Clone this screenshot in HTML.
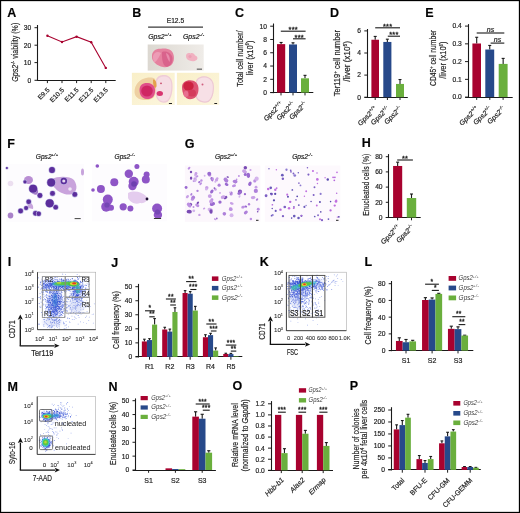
<!DOCTYPE html><html><head><meta charset="utf-8"><style>html,body{margin:0;padding:0;background:#fff;width:520px;height:513px;overflow:hidden}svg{display:block;opacity:0.999}text{font-family:"Liberation Sans",sans-serif;stroke:#2a2a2a;stroke-width:0.2px}</style></head><body><svg width="520" height="513" viewBox="0 0 520 513" font-family="Liberation Sans, sans-serif" fill="#222"><rect x="0.5" y="0.5" width="519" height="512" fill="none" stroke="#000" stroke-width="1.3"/>
<text x="7.3" y="16.8" font-size="12.5" fill="#000" font-weight="bold" >A</text>
<line x1="37.5" y1="25" x2="37.5" y2="80.85" stroke="#1a1a1a" stroke-width="1.1" />
<line x1="34.5" y1="27.7" x2="37.5" y2="27.7" stroke="#1a1a1a" stroke-width="0.99" />
<text x="31.3" y="30.08" font-size="6.7" text-anchor="end" >30</text>
<line x1="34.5" y1="45.2" x2="37.5" y2="45.2" stroke="#1a1a1a" stroke-width="0.99" />
<text x="31.3" y="47.58" font-size="6.7" text-anchor="end" >20</text>
<line x1="34.5" y1="62.6" x2="37.5" y2="62.6" stroke="#1a1a1a" stroke-width="0.99" />
<text x="31.3" y="64.98" font-size="6.7" text-anchor="end" >10</text>
<line x1="34.5" y1="80.3" x2="37.5" y2="80.3" stroke="#1a1a1a" stroke-width="0.99" />
<text x="31.3" y="82.68" font-size="6.7" text-anchor="end" >0</text>
<line x1="37.5" y1="80.5" x2="115.7" y2="80.5" stroke="#1a1a1a" stroke-width="1.1" />
<line x1="47.4" y1="80.3" x2="47.4" y2="83.1" stroke="#1a1a1a" stroke-width="0.99" />
<line x1="62" y1="80.3" x2="62" y2="83.1" stroke="#1a1a1a" stroke-width="0.99" />
<line x1="76.6" y1="80.3" x2="76.6" y2="83.1" stroke="#1a1a1a" stroke-width="0.99" />
<line x1="91.2" y1="80.3" x2="91.2" y2="83.1" stroke="#1a1a1a" stroke-width="0.99" />
<line x1="105.8" y1="80.3" x2="105.8" y2="83.1" stroke="#1a1a1a" stroke-width="0.99" />
<polyline points="47.4,35.7 62,42 76.6,36.7 91.2,42.3 105.8,67.9" fill="none" stroke="#a8022f" stroke-width="1.1"/>
<circle cx="47.4" cy="35.7" r="1.2" fill="#a8022f"/>
<circle cx="62" cy="42" r="1.2" fill="#a8022f"/>
<circle cx="76.6" cy="36.7" r="1.2" fill="#a8022f"/>
<circle cx="91.2" cy="42.3" r="1.2" fill="#a8022f"/>
<circle cx="105.8" cy="67.9" r="1.2" fill="#a8022f"/>
<text x="50" y="90.5" font-size="6.6" text-anchor="end" transform="rotate(-45 50 90.5)" >E9.5</text>
<text x="64.6" y="90.5" font-size="6.6" text-anchor="end" transform="rotate(-45 64.6 90.5)" >E10.5</text>
<text x="79.2" y="90.5" font-size="6.6" text-anchor="end" transform="rotate(-45 79.2 90.5)" >E11.5</text>
<text x="93.8" y="90.5" font-size="6.6" text-anchor="end" transform="rotate(-45 93.8 90.5)" >E12.5</text>
<text x="108.4" y="90.5" font-size="6.6" text-anchor="end" transform="rotate(-45 108.4 90.5)" >E13.5</text>
<text x="18" y="52.2" font-size="9.3" text-anchor="middle" textLength="58.9" lengthAdjust="spacingAndGlyphs" transform="rotate(-90 18 52.2)" ><tspan font-style="italic">Gps2</tspan><tspan dy="-3.3" font-size="5.6">-/-</tspan><tspan dy="3.3"> viability (%)</tspan></text>
<text x="235.1" y="16.8" font-size="12.5" fill="#000" font-weight="bold" >C</text>
<line x1="273.5" y1="23.5" x2="273.5" y2="93.15" stroke="#1a1a1a" stroke-width="1.1" />
<line x1="270.2" y1="26.2" x2="273.2" y2="26.2" stroke="#1a1a1a" stroke-width="0.99" />
<text x="267" y="28.58" font-size="6.7" text-anchor="end" >10</text>
<line x1="270.2" y1="39.48" x2="273.2" y2="39.48" stroke="#1a1a1a" stroke-width="0.99" />
<text x="267" y="41.86" font-size="6.7" text-anchor="end" >8</text>
<line x1="270.2" y1="52.76" x2="273.2" y2="52.76" stroke="#1a1a1a" stroke-width="0.99" />
<text x="267" y="55.14" font-size="6.7" text-anchor="end" >6</text>
<line x1="270.2" y1="66.04" x2="273.2" y2="66.04" stroke="#1a1a1a" stroke-width="0.99" />
<text x="267" y="68.42" font-size="6.7" text-anchor="end" >4</text>
<line x1="270.2" y1="79.32" x2="273.2" y2="79.32" stroke="#1a1a1a" stroke-width="0.99" />
<text x="267" y="81.7" font-size="6.7" text-anchor="end" >2</text>
<line x1="270.2" y1="92.6" x2="273.2" y2="92.6" stroke="#1a1a1a" stroke-width="0.99" />
<text x="267" y="94.98" font-size="6.7" text-anchor="end" >0</text>
<line x1="270.4" y1="92.5" x2="313.3" y2="92.5" stroke="#1a1a1a" stroke-width="1.1" />
<line x1="281" y1="92.6" x2="281" y2="95.4" stroke="#1a1a1a" stroke-width="0.99" />
<line x1="293" y1="92.6" x2="293" y2="95.4" stroke="#1a1a1a" stroke-width="0.99" />
<line x1="305" y1="92.6" x2="305" y2="95.4" stroke="#1a1a1a" stroke-width="0.99" />
<line x1="281.1" y1="42.47" x2="281.1" y2="44.13" stroke="#1a1a1a" stroke-width="1.1" />
<line x1="279.6" y1="42.47" x2="282.6" y2="42.47" stroke="#1a1a1a" stroke-width="1.1" />
<rect x="277" y="44.13" width="8.2" height="48.47" fill="#a8022f" />
<line x1="293" y1="42.8" x2="293" y2="44.46" stroke="#1a1a1a" stroke-width="1.1" />
<line x1="291.5" y1="42.8" x2="294.5" y2="42.8" stroke="#1a1a1a" stroke-width="1.1" />
<rect x="289" y="44.46" width="8" height="48.14" fill="#27498a" />
<line x1="305" y1="75.34" x2="305" y2="78.32" stroke="#1a1a1a" stroke-width="1.1" />
<line x1="303.5" y1="75.34" x2="306.5" y2="75.34" stroke="#1a1a1a" stroke-width="1.1" />
<rect x="301" y="78.32" width="8" height="14.28" fill="#6aaf3d" />
<line x1="280.8" y1="31.2" x2="305.6" y2="31.2" stroke="#1a1a1a" stroke-width="1.1" />
<text x="293.2" y="32.1" font-size="7.4" text-anchor="middle" letter-spacing="0.25" style="stroke-width:0.35px">***</text>
<line x1="293" y1="38.8" x2="305.6" y2="38.8" stroke="#1a1a1a" stroke-width="1.1" />
<text x="299.3" y="39.7" font-size="7.4" text-anchor="middle" letter-spacing="0.25" style="stroke-width:0.35px">***</text>
<text x="243" y="58.6" font-size="9.3" text-anchor="middle" textLength="56.2" lengthAdjust="spacingAndGlyphs" transform="rotate(-90 243 58.6)" >Total cell number/</text>
<text x="252.6" y="58" font-size="9.3" text-anchor="middle" textLength="35" lengthAdjust="spacingAndGlyphs" transform="rotate(-90 252.6 58)" >liver (x10<tspan dy="-3.3" font-size="5.6">6</tspan><tspan dy="3.3">)</tspan></text>
<text x="283.5" y="104.5" font-size="7.1" text-anchor="end" transform="rotate(-45 283.5 104.5)" ><tspan font-style="italic">Gps2</tspan><tspan dy="-2.98" font-size="4.26" font-style="italic" letter-spacing="0.35">+/+</tspan></text>
<text x="295.5" y="104.5" font-size="7.1" text-anchor="end" transform="rotate(-45 295.5 104.5)" ><tspan font-style="italic">Gps2</tspan><tspan dy="-2.98" font-size="4.26" font-style="italic" letter-spacing="0.35">+/-</tspan></text>
<text x="307.5" y="104.5" font-size="7.1" text-anchor="end" transform="rotate(-45 307.5 104.5)" ><tspan font-style="italic">Gps2</tspan><tspan dy="-2.98" font-size="4.26" font-style="italic" letter-spacing="0.35">-/-</tspan></text>
<text x="330.1" y="16.8" font-size="12.5" fill="#000" font-weight="bold" >D</text>
<line x1="367.5" y1="29" x2="367.5" y2="97.75" stroke="#1a1a1a" stroke-width="1.1" />
<line x1="364.3" y1="30.9" x2="367.3" y2="30.9" stroke="#1a1a1a" stroke-width="0.99" />
<text x="361.1" y="33.28" font-size="6.7" text-anchor="end" >6</text>
<line x1="364.3" y1="53" x2="367.3" y2="53" stroke="#1a1a1a" stroke-width="0.99" />
<text x="361.1" y="55.38" font-size="6.7" text-anchor="end" >4</text>
<line x1="364.3" y1="75.1" x2="367.3" y2="75.1" stroke="#1a1a1a" stroke-width="0.99" />
<text x="361.1" y="77.48" font-size="6.7" text-anchor="end" >2</text>
<line x1="364.3" y1="97.2" x2="367.3" y2="97.2" stroke="#1a1a1a" stroke-width="0.99" />
<text x="361.1" y="99.58" font-size="6.7" text-anchor="end" >0</text>
<line x1="364.5" y1="97.5" x2="407.8" y2="97.5" stroke="#1a1a1a" stroke-width="1.1" />
<line x1="375.2" y1="97.2" x2="375.2" y2="100" stroke="#1a1a1a" stroke-width="0.99" />
<line x1="387.4" y1="97.2" x2="387.4" y2="100" stroke="#1a1a1a" stroke-width="0.99" />
<line x1="400" y1="97.2" x2="400" y2="100" stroke="#1a1a1a" stroke-width="0.99" />
<line x1="375.2" y1="36.42" x2="375.2" y2="39.74" stroke="#1a1a1a" stroke-width="1.1" />
<line x1="373.7" y1="36.42" x2="376.7" y2="36.42" stroke="#1a1a1a" stroke-width="1.1" />
<rect x="371.4" y="39.74" width="7.6" height="57.46" fill="#a8022f" />
<line x1="387.35" y1="39.19" x2="387.35" y2="41.95" stroke="#1a1a1a" stroke-width="1.1" />
<line x1="385.85" y1="39.19" x2="388.85" y2="39.19" stroke="#1a1a1a" stroke-width="1.1" />
<rect x="383.3" y="41.95" width="8.1" height="55.25" fill="#27498a" />
<line x1="400" y1="79.52" x2="400" y2="83.94" stroke="#1a1a1a" stroke-width="1.1" />
<line x1="398.5" y1="79.52" x2="401.5" y2="79.52" stroke="#1a1a1a" stroke-width="1.1" />
<rect x="396" y="83.94" width="8" height="13.26" fill="#6aaf3d" />
<line x1="375.2" y1="27.8" x2="400" y2="27.8" stroke="#1a1a1a" stroke-width="1.1" />
<text x="387.6" y="28.7" font-size="7.4" text-anchor="middle" letter-spacing="0.25" style="stroke-width:0.35px">***</text>
<line x1="387.8" y1="36.2" x2="400" y2="36.2" stroke="#1a1a1a" stroke-width="1.1" />
<text x="393.9" y="37.1" font-size="7.4" text-anchor="middle" letter-spacing="0.25" style="stroke-width:0.35px">***</text>
<text x="340.4" y="63.1" font-size="9.3" text-anchor="middle" textLength="66.4" lengthAdjust="spacingAndGlyphs" transform="rotate(-90 340.4 63.1)" >Ter119<tspan dy="-3.3" font-size="5.6">+</tspan><tspan dy="3.3"> cell number</tspan></text>
<text x="350.3" y="61.4" font-size="9.3" text-anchor="middle" textLength="40.8" lengthAdjust="spacingAndGlyphs" transform="rotate(-90 350.3 61.4)" >/liver (x10<tspan dy="-3.3" font-size="5.6">6</tspan><tspan dy="3.3">)</tspan></text>
<text x="377.7" y="109.1" font-size="7.1" text-anchor="end" transform="rotate(-45 377.7 109.1)" ><tspan font-style="italic">Gps2</tspan><tspan dy="-2.98" font-size="4.26" font-style="italic" letter-spacing="0.35">+/+</tspan></text>
<text x="389.9" y="109.1" font-size="7.1" text-anchor="end" transform="rotate(-45 389.9 109.1)" ><tspan font-style="italic">Gps2</tspan><tspan dy="-2.98" font-size="4.26" font-style="italic" letter-spacing="0.35">+/-</tspan></text>
<text x="402.5" y="109.1" font-size="7.1" text-anchor="end" transform="rotate(-45 402.5 109.1)" ><tspan font-style="italic">Gps2</tspan><tspan dy="-2.98" font-size="4.26" font-style="italic" letter-spacing="0.35">-/-</tspan></text>
<text x="425.2" y="16.8" font-size="12.5" fill="#000" font-weight="bold" >E</text>
<line x1="468.5" y1="24.1" x2="468.5" y2="97.65" stroke="#1a1a1a" stroke-width="1.1" />
<line x1="465" y1="26.1" x2="468" y2="26.1" stroke="#1a1a1a" stroke-width="0.99" />
<text x="461.8" y="28.48" font-size="6.7" text-anchor="end" >0.4</text>
<line x1="465" y1="43.85" x2="468" y2="43.85" stroke="#1a1a1a" stroke-width="0.99" />
<text x="461.8" y="46.23" font-size="6.7" text-anchor="end" >0.3</text>
<line x1="465" y1="61.6" x2="468" y2="61.6" stroke="#1a1a1a" stroke-width="0.99" />
<text x="461.8" y="63.98" font-size="6.7" text-anchor="end" >0.2</text>
<line x1="465" y1="79.35" x2="468" y2="79.35" stroke="#1a1a1a" stroke-width="0.99" />
<text x="461.8" y="81.73" font-size="6.7" text-anchor="end" >0.1</text>
<line x1="465" y1="97.1" x2="468" y2="97.1" stroke="#1a1a1a" stroke-width="0.99" />
<text x="461.8" y="99.48" font-size="6.7" text-anchor="end" >0.0</text>
<line x1="465.2" y1="97.5" x2="512.7" y2="97.5" stroke="#1a1a1a" stroke-width="1.1" />
<line x1="476.7" y1="97.1" x2="476.7" y2="99.9" stroke="#1a1a1a" stroke-width="0.99" />
<line x1="489.8" y1="97.1" x2="489.8" y2="99.9" stroke="#1a1a1a" stroke-width="0.99" />
<line x1="503.1" y1="97.1" x2="503.1" y2="99.9" stroke="#1a1a1a" stroke-width="0.99" />
<line x1="476.7" y1="37.28" x2="476.7" y2="43.49" stroke="#1a1a1a" stroke-width="1.1" />
<line x1="475.2" y1="37.28" x2="478.2" y2="37.28" stroke="#1a1a1a" stroke-width="1.1" />
<rect x="472.4" y="43.49" width="8.6" height="53.6" fill="#a8022f" />
<line x1="489.75" y1="45.45" x2="489.75" y2="49.53" stroke="#1a1a1a" stroke-width="1.1" />
<line x1="488.25" y1="45.45" x2="491.25" y2="45.45" stroke="#1a1a1a" stroke-width="1.1" />
<rect x="485.3" y="49.53" width="8.9" height="47.57" fill="#27498a" />
<line x1="503.15" y1="58.4" x2="503.15" y2="63.91" stroke="#1a1a1a" stroke-width="1.1" />
<line x1="501.65" y1="58.4" x2="504.65" y2="58.4" stroke="#1a1a1a" stroke-width="1.1" />
<rect x="498.7" y="63.91" width="8.9" height="33.19" fill="#6aaf3d" />
<line x1="476.7" y1="33" x2="504.3" y2="33" stroke="#1a1a1a" stroke-width="1.1" />
<text x="490.5" y="31.8" font-size="7" text-anchor="middle" fill="#1a1a1a" font-style="italic" >ns</text>
<line x1="490.6" y1="43.1" x2="504.3" y2="43.1" stroke="#1a1a1a" stroke-width="1.1" />
<text x="497.45" y="41.9" font-size="7" text-anchor="middle" fill="#1a1a1a" font-style="italic" >ns</text>
<text x="436.1" y="57.9" font-size="9.3" text-anchor="middle" textLength="56" lengthAdjust="spacingAndGlyphs" transform="rotate(-90 436.1 57.9)" >CD45<tspan dy="-3.3" font-size="5.6">+</tspan><tspan dy="3.3"> cell number</tspan></text>
<text x="445.9" y="60.1" font-size="9.3" text-anchor="middle" textLength="37.3" lengthAdjust="spacingAndGlyphs" transform="rotate(-90 445.9 60.1)" >/liver (x10<tspan dy="-3.3" font-size="5.6">6</tspan><tspan dy="3.3">)</tspan></text>
<text x="479.2" y="109" font-size="7.1" text-anchor="end" transform="rotate(-45 479.2 109)" ><tspan font-style="italic">Gps2</tspan><tspan dy="-2.98" font-size="4.26" font-style="italic" letter-spacing="0.35">+/+</tspan></text>
<text x="492.3" y="109" font-size="7.1" text-anchor="end" transform="rotate(-45 492.3 109)" ><tspan font-style="italic">Gps2</tspan><tspan dy="-2.98" font-size="4.26" font-style="italic" letter-spacing="0.35">+/-</tspan></text>
<text x="505.6" y="109" font-size="7.1" text-anchor="end" transform="rotate(-45 505.6 109)" ><tspan font-style="italic">Gps2</tspan><tspan dy="-2.98" font-size="4.26" font-style="italic" letter-spacing="0.35">-/-</tspan></text>
<defs><filter id="b1" x="-20%" y="-20%" width="140%" height="140%"><feGaussianBlur stdDeviation="0.8"/></filter><filter id="b2" x="-20%" y="-20%" width="140%" height="140%"><feGaussianBlur stdDeviation="0.45"/></filter><filter id="b4" x="-20%" y="-20%" width="140%" height="140%"><feGaussianBlur stdDeviation="0.6"/></filter><filter id="b3" x="-30%" y="-30%" width="160%" height="160%"><feGaussianBlur stdDeviation="1.5"/></filter><linearGradient id="gtop" x1="0" x2="1" y1="0" y2="0"><stop offset="0" stop-color="#dcd8d1"/><stop offset="1" stop-color="#efece8"/></linearGradient><linearGradient id="gcream" x1="0" x2="1" y1="0" y2="1"><stop offset="0" stop-color="#f9efc8"/><stop offset="1" stop-color="#fcf6de"/></linearGradient></defs>
<text x="132.2" y="16.8" font-size="12.5" fill="#000" font-weight="bold" >B</text>
<text x="175.4" y="22.8" font-size="6.6" text-anchor="middle" textLength="17.4" lengthAdjust="spacingAndGlyphs" >E12.5</text>
<line x1="148.1" y1="27.1" x2="203" y2="27.1" stroke="#3a3a3a" stroke-width="1.2" />
<text x="148.2" y="39.2" font-size="6.9" ><tspan font-style="italic">Gps2</tspan><tspan dy="-2.9" font-size="4.14" font-style="italic" letter-spacing="0.35">+/+</tspan></text>
<text x="183" y="39.2" font-size="6.9" ><tspan font-style="italic">Gps2</tspan><tspan dy="-2.9" font-size="4.14" font-style="italic" letter-spacing="0.35">-/-</tspan></text>
<rect x="147.7" y="44.5" width="56" height="26.1" fill="url(#gtop)" />
<g filter="url(#b2)">
<path d="M152,57 C151.5,51 156,48.5 161,48.8 C164,48.2 168,48.4 171,50.5 C174.5,53.5 174.8,60 172.5,63.5 C170.5,66.8 166,67.8 163,67 C160,66.5 157,65 155,63 C153,61 152,59.5 152,57 Z" fill="#e5819f"/>
<path d="M162,52 C166.5,50.5 171.5,53 172.5,58 C173,63 170,66.5 166.5,66.8 C163.5,66 161.5,61 162,52 Z" fill="#d9648c"/>
<path d="M153,56 C154,52 158,51 161,53 C159,57 157,61 154.5,62.5 C153,60.5 152.8,58 153,56 Z" fill="#ed9cb6"/>
<path d="M166,53 C169,54 170.5,58 169.5,62 C168,59.5 166.5,57 166,53 Z" fill="#e88cac"/>
<path d="M186,56 C186,53.5 188.5,52.3 190.5,53.5 C192,52.5 194.5,53.5 195,55.5 C197.5,56 198.3,58.5 196.5,60 C194.5,61.8 191.5,61.5 189.5,60.5 C187.5,60 186,58.5 186,56 Z" fill="#f1b1c1"/>
<circle cx="190" cy="56.5" r="1.6" fill="#eb9fb4"/>
</g>
<rect x="196.8" y="68.6" width="5.2" height="1.1" fill="#555" />
<rect x="131.9" y="72.8" width="42.8" height="32.2" fill="url(#gcream)" />
<g filter="url(#b4)">
<path d="M156,80 C157,76 161,74.8 165,75 C169.5,75.5 172.5,79 172.5,85 C172.8,92 171.5,98 168,101.5 C165,103.5 160.5,103 158,100 C155,96 154.5,90 155,86 C155.3,83.5 155.5,82 156,80 Z" fill="#efccd7"/>
<path d="M157,81 C158,77.5 161.5,76.2 165,76.5 C169,77 171.3,80 171.3,85 C171.5,91.5 170.3,97 167.3,100.3 C164.5,102 161,101.8 159,99.3 C156.5,96 156,90 156.3,86 Z" fill="#f6dde4"/>
<path d="M134.5,92 C134.5,85 139,79.5 146,78 C150,77.2 153,77.5 155,79 C156.5,83 156.5,92 154,97 C151.5,100 146,100.8 141,99.5 C137,98.5 134.6,95.5 134.5,92 Z" fill="#eed0a2"/>
<path d="M153,79.5 C155.3,79 156.8,82 156.5,86.5 C155.8,88 154.5,88 153.8,87 C153.2,84.5 152.8,82 153,79.5 Z" fill="#e4a04c"/>
<path d="M139.5,90 C139.5,85 143,82.5 148,83 C153,83.5 155.5,87 155,92 C154.5,97 151,99.5 146.5,99 C142,98.5 139.5,95 139.5,90 Z" fill="#e0508a"/>
<ellipse cx="147" cy="91" rx="5.8" ry="5.6" fill="#cf2864"/>
<ellipse cx="159.8" cy="93.5" rx="3.2" ry="2.5" fill="#d8356f"/>
<circle cx="161" cy="83.3" r="0.9" fill="#c84a6a"/>
</g>
<rect x="168.9" y="103" width="3.1" height="1" fill="#222" />
<rect x="176.9" y="72.8" width="42.3" height="32.2" fill="url(#gcream)" />
<g filter="url(#b4)">
<path d="M196,81 C197,77.5 201,76 205,76.3 C210,76.8 213.5,80 213.9,86 C214.2,93 212.5,99 208.5,102 C205,103.3 200.5,102.6 197.5,100 C194.8,97 194.5,91 195,86 Z" fill="#edc8d4"/>
<path d="M197,81.5 C198,78.5 201.5,77.2 205,77.5 C209.5,78 212.5,81 212.8,86.5 C213,92.5 211.5,98 208,100.8 C205,102 201,101.3 198.5,99 C196,96.5 195.7,91 196,86 Z" fill="#f7e0e6"/>
<path d="M182,87 C182,82.5 185.5,80.2 190,80.2 C195,80.2 198.5,83.5 198.5,89 C198.5,95.5 195,99.2 190,99.2 C185,99 182,94 182,87 Z" fill="#dd5272"/>
<ellipse cx="188.5" cy="86" rx="5.2" ry="4.6" fill="#cc2040"/>
<ellipse cx="192" cy="93" rx="4" ry="3.5" fill="#d43a5c"/>
<ellipse cx="186" cy="94" rx="2.5" ry="3" fill="#e87090"/>
<circle cx="202.5" cy="84.5" r="1" fill="#d06080"/>
</g>
<rect x="214.3" y="103" width="2.8" height="1" fill="#222" />
<text x="7.2" y="147.9" font-size="12.5" fill="#000" font-weight="bold" >F</text>
<text x="35.8" y="158.8" font-size="6.6" ><tspan font-style="italic">Gps2</tspan><tspan dy="-2.77" font-size="3.96" font-style="italic" letter-spacing="0.35">+/+</tspan></text>
<text x="114.5" y="158.8" font-size="6.6" ><tspan font-style="italic">Gps2</tspan><tspan dy="-2.77" font-size="3.96" font-style="italic" letter-spacing="0.35">-/-</tspan></text>
<rect x="6.4" y="164" width="77.6" height="58.2" fill="#fdfcfe" />
<rect x="92.1" y="164" width="74.7" height="57.4" fill="#fdfcfe" />
<g filter="url(#b2)">
<path d="M52,179 C58,176 70,176 74,180 C78,186 77,192 72,194 C66,196 58,192 55,188 C52,185 50,182 52,179 Z" fill="#c9a3dc"/>
<ellipse cx="28.5" cy="180" rx="4.5" ry="4" fill="#b98ed3"/>
<path d="M30,185 C35,184 39,188 38,193 C37,196 33,195 31,192 Z" fill="#a47ac8"/>
<path d="M27,201 C31,202 34,205 33,209 L28,208 Z" fill="#c7a4dc"/>
<ellipse cx="10.5" cy="215.5" rx="2.8" ry="3" fill="#a982c9"/>
<ellipse cx="10.5" cy="183.5" rx="2.8" ry="2.8" fill="#ecdff0"/>
<ellipse cx="82.5" cy="172" rx="1.5" ry="3.5" fill="#c7a4dc"/>
<circle cx="52" cy="170" r="3.5" fill="#b7b2e0"/>
<circle cx="52" cy="170" r="2.9" fill="#5b2d9c"/>
<circle cx="51.2" cy="182.6" r="4.6" fill="#b7b2e0"/>
<circle cx="51.2" cy="182.6" r="4" fill="#5b2d9c"/>
<circle cx="63.8" cy="181" r="3.8" fill="#b7b2e0"/>
<circle cx="63.8" cy="181" r="3.2" fill="#5b2d9c"/>
<circle cx="33.1" cy="188.8" r="4.6" fill="#b7b2e0"/>
<circle cx="33.1" cy="188.8" r="4" fill="#5b2d9c"/>
<circle cx="39.9" cy="195.5" r="3" fill="#b7b2e0"/>
<circle cx="39.9" cy="195.5" r="2.4" fill="#5b2d9c"/>
<circle cx="52.5" cy="193.4" r="3" fill="#b7b2e0"/>
<circle cx="52.5" cy="193.4" r="2.4" fill="#5b2d9c"/>
<circle cx="74.8" cy="194.4" r="3" fill="#b7b2e0"/>
<circle cx="74.8" cy="194.4" r="2.4" fill="#5b2d9c"/>
<circle cx="49.7" cy="203.3" r="4.6" fill="#b7b2e0"/>
<circle cx="49.7" cy="203.3" r="4" fill="#5b2d9c"/>
<circle cx="55.7" cy="207.2" r="2.9" fill="#b7b2e0"/>
<circle cx="55.7" cy="207.2" r="2.3" fill="#5b2d9c"/>
<circle cx="28.7" cy="201.7" r="2.9" fill="#b7b2e0"/>
<circle cx="28.7" cy="201.7" r="2.3" fill="#5b2d9c"/>
<circle cx="20.6" cy="210.9" r="3" fill="#b7b2e0"/>
<circle cx="20.6" cy="210.9" r="2.4" fill="#5b2d9c"/>
<circle cx="26.1" cy="208.1" r="2.6" fill="#b7b2e0"/>
<circle cx="26.1" cy="208.1" r="2" fill="#5b2d9c"/>
<circle cx="35.5" cy="213.3" r="3" fill="#b7b2e0"/>
<circle cx="35.5" cy="213.3" r="2.4" fill="#5b2d9c"/>
<circle cx="38.7" cy="213.8" r="2.8" fill="#b7b2e0"/>
<circle cx="38.7" cy="213.8" r="2.2" fill="#5b2d9c"/>
<circle cx="25" cy="181.8" r="2.2" fill="#b7b2e0"/>
<circle cx="25" cy="181.8" r="1.6" fill="#5b2d9c"/>
<circle cx="6.9" cy="168" r="1.6" fill="#b7b2e0"/>
<circle cx="6.9" cy="168" r="1" fill="#5b2d9c"/>
<circle cx="63.8" cy="181" r="1.6" fill="#e6d8f0"/><circle cx="70" cy="189" r="1.8" fill="#efe6f5"/>
<path d="M128,193 C134,190 142,192 146,196 C149,200 145,204 140,203 C135,205 130,202 128,198 Z" fill="#e4ccee"/>
<circle cx="100.9" cy="189.1" r="4" fill="#8e55c6"/>
<circle cx="114.3" cy="182.3" r="4" fill="#8e55c6"/>
<circle cx="128.8" cy="173.7" r="4.2" fill="#8e55c6"/>
<circle cx="133.7" cy="181.8" r="5" fill="#8e55c6"/>
<circle cx="132.5" cy="186" r="4.2" fill="#8e55c6"/>
<circle cx="145.8" cy="179.4" r="4" fill="#8e55c6"/>
<circle cx="146.6" cy="174.5" r="3" fill="#8e55c6"/>
<circle cx="107.8" cy="199.6" r="5" fill="#8e55c6"/>
<circle cx="106.2" cy="206.8" r="5" fill="#8e55c6"/>
<circle cx="111" cy="207.7" r="3" fill="#8e55c6"/>
<circle cx="123.2" cy="206.8" r="3.6" fill="#8e55c6"/>
<circle cx="130.4" cy="208.5" r="3" fill="#8e55c6"/>
<circle cx="157.1" cy="208.5" r="5" fill="#8e55c6"/>
<circle cx="157.9" cy="214.9" r="4.2" fill="#8e55c6"/>
<circle cx="136.9" cy="166.5" r="2.5" fill="#8e55c6"/>
<circle cx="97.3" cy="166" r="1.8" fill="#8e55c6"/>
<circle cx="93" cy="190" r="1.8" fill="#8e55c6"/>
<circle cx="134" cy="184" r="2.8" fill="#6e3fb0"/><circle cx="107" cy="205" r="2.6" fill="#7446b4"/><circle cx="157.5" cy="212" r="2.6" fill="#7446b4"/>
<circle cx="147" cy="199" r="1.4" fill="#1a1030"/>
</g>
<rect x="74.6" y="218.1" width="6.1" height="1" fill="#444" />
<rect x="153.9" y="218" width="7.2" height="1" fill="#333" />
<text x="184.7" y="148" font-size="12.5" fill="#000" font-weight="bold" >G</text>
<text x="214.9" y="158.8" font-size="6.6" ><tspan font-style="italic">Gps2</tspan><tspan dy="-2.77" font-size="3.96" font-style="italic" letter-spacing="0.35">+/+</tspan></text>
<text x="292.2" y="158.8" font-size="6.6" ><tspan font-style="italic">Gps2</tspan><tspan dy="-2.77" font-size="3.96" font-style="italic" letter-spacing="0.35">-/-</tspan></text>
<rect x="184.8" y="165.5" width="75.6" height="56.3" fill="#fcf7fc" />
<rect x="264.8" y="165.5" width="75.6" height="56.3" fill="#fdf9fd" />
<g filter="url(#b2)">
<circle cx="209.64" cy="175.07" r="1.71" fill="#c8a0e6"/>
<ellipse cx="192.87" cy="198.18" rx="2.7" ry="1.87" fill="#bc90e2" transform="rotate(111 192.87 198.18)"/>
<circle cx="216.53" cy="179.88" r="1.57" fill="#c8a0e6"/>
<circle cx="195.04" cy="178.94" r="1.68" fill="#c8a0e6"/>
<ellipse cx="214.96" cy="219.23" rx="1.12" ry="0.78" fill="#bc90e2" transform="rotate(36 214.96 219.23)"/>
<ellipse cx="225.47" cy="197.54" rx="2.06" ry="1.43" fill="#7a4cb4" transform="rotate(148 225.47 197.54)"/>
<ellipse cx="227.7" cy="177.05" rx="1.22" ry="0.84" fill="#7a4cb4" transform="rotate(15 227.7 177.05)"/>
<ellipse cx="231.19" cy="193.56" rx="2.01" ry="1.39" fill="#ae80da" transform="rotate(116 231.19 193.56)"/>
<ellipse cx="212.4" cy="180.29" rx="1.37" ry="0.95" fill="#bc90e2" transform="rotate(76 212.4 180.29)"/>
<circle cx="224.34" cy="213.82" r="1.82" fill="#ae80da"/>
<ellipse cx="191.34" cy="194.39" rx="1.34" ry="0.93" fill="#ae80da" transform="rotate(125 191.34 194.39)"/>
<circle cx="216.78" cy="218.47" r="0.91" fill="#9a6ad0"/>
<ellipse cx="249.91" cy="183.79" rx="2.31" ry="1.6" fill="#9a6ad0" transform="rotate(116 249.91 183.79)"/>
<circle cx="191.02" cy="172.01" r="1.18" fill="#7a4cb4"/>
<circle cx="190.43" cy="204.53" r="1.71" fill="#7a4cb4"/>
<circle cx="206.78" cy="187.64" r="1.74" fill="#c8a0e6"/>
<circle cx="211.95" cy="199.68" r="1.49" fill="#bc90e2"/>
<ellipse cx="195.44" cy="180.25" rx="1.75" ry="1.21" fill="#d4b4ec" transform="rotate(114 195.44 180.25)"/>
<circle cx="215.32" cy="181.86" r="0.99" fill="#d4b4ec"/>
<circle cx="206.32" cy="189.22" r="1.3" fill="#d4b4ec"/>
<ellipse cx="197.02" cy="176.43" rx="1.46" ry="1.01" fill="#bc90e2" transform="rotate(150 197.02 176.43)"/>
<ellipse cx="199.31" cy="182.08" rx="1.31" ry="0.9" fill="#9a6ad0" transform="rotate(144 199.31 182.08)"/>
<circle cx="209.26" cy="173.71" r="2" fill="#9a6ad0"/>
<circle cx="240" cy="191.43" r="2.02" fill="#7a4cb4"/>
<ellipse cx="214.64" cy="188.35" rx="1.23" ry="0.85" fill="#7a4cb4" transform="rotate(48 214.64 188.35)"/>
<circle cx="190.92" cy="178.17" r="1.03" fill="#ae80da"/>
<circle cx="193.47" cy="197.32" r="1.55" fill="#ae80da"/>
<ellipse cx="191.13" cy="178.13" rx="1.72" ry="1.19" fill="#7a4cb4" transform="rotate(88 191.13 178.13)"/>
<circle cx="229.97" cy="192.37" r="0.96" fill="#d4b4ec"/>
<circle cx="220.02" cy="192.89" r="0.92" fill="#c8a0e6"/>
<ellipse cx="240.05" cy="192.61" rx="2.3" ry="1.59" fill="#9a6ad0" transform="rotate(135 240.05 192.61)"/>
<ellipse cx="212.41" cy="203.92" rx="2.7" ry="1.87" fill="#9a6ad0" transform="rotate(164 212.41 203.92)"/>
<circle cx="249.02" cy="204.25" r="1.17" fill="#ae80da"/>
<ellipse cx="211.97" cy="178.92" rx="2.03" ry="1.4" fill="#9a6ad0" transform="rotate(57 211.97 178.92)"/>
<circle cx="230.77" cy="209.18" r="1.86" fill="#bc90e2"/>
<ellipse cx="245.74" cy="206.58" rx="1.45" ry="1.01" fill="#9a6ad0" transform="rotate(7 245.74 206.58)"/>
<circle cx="258.24" cy="209.27" r="1.46" fill="#bc90e2"/>
<circle cx="255.83" cy="190.93" r="2.11" fill="#ae80da"/>
<ellipse cx="212.62" cy="178.79" rx="1.45" ry="1.01" fill="#bc90e2" transform="rotate(123 212.62 178.79)"/>
<circle cx="231.56" cy="215.17" r="1.98" fill="#d4b4ec"/>
<circle cx="211.11" cy="201.41" r="1.97" fill="#c8a0e6"/>
<ellipse cx="243.11" cy="207.13" rx="1.91" ry="1.32" fill="#bc90e2" transform="rotate(162 243.11 207.13)"/>
<ellipse cx="210.27" cy="209.84" rx="2.81" ry="1.94" fill="#d4b4ec" transform="rotate(21 210.27 209.84)"/>
<circle cx="238.91" cy="176.1" r="0.98" fill="#bc90e2"/>
<circle cx="219.97" cy="202.09" r="1.66" fill="#9a6ad0"/>
<ellipse cx="233.98" cy="185.75" rx="2.04" ry="1.41" fill="#bc90e2" transform="rotate(166 233.98 185.75)"/>
<circle cx="193.5" cy="207.1" r="0.99" fill="#bc90e2"/>
<circle cx="201.41" cy="180.47" r="1.21" fill="#bc90e2"/>
<circle cx="209.8" cy="196.12" r="1.97" fill="#c8a0e6"/>
<ellipse cx="211.83" cy="191.51" rx="2.1" ry="1.46" fill="#9a6ad0" transform="rotate(128 211.83 191.51)"/>
<circle cx="195.55" cy="175.12" r="1.51" fill="#d4b4ec"/>
<ellipse cx="230.42" cy="208.52" rx="1.31" ry="0.91" fill="#bc90e2" transform="rotate(30 230.42 208.52)"/>
<ellipse cx="226.62" cy="184.44" rx="1.98" ry="1.37" fill="#9a6ad0" transform="rotate(27 226.62 184.44)"/>
<circle cx="250.48" cy="170.04" r="1.07" fill="#c8a0e6"/>
<ellipse cx="223.06" cy="197.05" rx="2.42" ry="1.68" fill="#c8a0e6" transform="rotate(156 223.06 197.05)"/>
<ellipse cx="257.06" cy="199.43" rx="1.4" ry="0.97" fill="#ae80da" transform="rotate(136 257.06 199.43)"/>
<circle cx="244.94" cy="194.16" r="1.15" fill="#9a6ad0"/>
<circle cx="254.78" cy="180.89" r="1.58" fill="#bc90e2"/>
<circle cx="196.01" cy="173.51" r="1.42" fill="#c8a0e6"/>
<circle cx="217.27" cy="178.38" r="1.22" fill="#c8a0e6"/>
<ellipse cx="197.27" cy="205.31" rx="2.24" ry="1.55" fill="#bc90e2" transform="rotate(35 197.27 205.31)"/>
<circle cx="256.63" cy="178.75" r="2.13" fill="#d4b4ec"/>
<ellipse cx="197.88" cy="202.73" rx="1.45" ry="1" fill="#7a4cb4" transform="rotate(131 197.88 202.73)"/>
<circle cx="215.48" cy="189.54" r="1.3" fill="#c8a0e6"/>
<ellipse cx="187.42" cy="196.64" rx="1.84" ry="1.27" fill="#c8a0e6" transform="rotate(132 187.42 196.64)"/>
<circle cx="231.55" cy="194.41" r="0.89" fill="#bc90e2"/>
<ellipse cx="193.65" cy="181.21" rx="1.11" ry="0.77" fill="#bc90e2" transform="rotate(33 193.65 181.21)"/>
<ellipse cx="245.84" cy="212.45" rx="2.27" ry="1.57" fill="#ae80da" transform="rotate(137 245.84 212.45)"/>
<ellipse cx="253.1" cy="197.53" rx="2.31" ry="1.6" fill="#c8a0e6" transform="rotate(176 253.1 197.53)"/>
<circle cx="199.38" cy="214.9" r="1.18" fill="#c8a0e6"/>
<ellipse cx="244.52" cy="171.48" rx="2.6" ry="1.8" fill="#c8a0e6" transform="rotate(31 244.52 171.48)"/>
<circle cx="219.13" cy="185.14" r="1.57" fill="#ae80da"/>
<ellipse cx="189.15" cy="204.96" rx="2.75" ry="1.9" fill="#bc90e2" transform="rotate(46 189.15 204.96)"/>
<ellipse cx="200.73" cy="183.69" rx="1.6" ry="1.1" fill="#bc90e2" transform="rotate(128 200.73 183.69)"/>
<ellipse cx="235.07" cy="181.47" rx="2.5" ry="1.73" fill="#ae80da" transform="rotate(4 235.07 181.47)"/>
<ellipse cx="239.51" cy="196.48" rx="1.38" ry="0.96" fill="#d4b4ec" transform="rotate(114 239.51 196.48)"/>
<circle cx="193.76" cy="210.81" r="1.41" fill="#d4b4ec"/>
<circle cx="250.88" cy="218.91" r="1.23" fill="#bc90e2"/>
<ellipse cx="211.02" cy="211.53" rx="2.33" ry="1.61" fill="#7a4cb4" transform="rotate(88 211.02 211.53)"/>
<circle cx="257.68" cy="211.78" r="0.82" fill="#7a4cb4"/>
<circle cx="204.66" cy="175.73" r="0.92" fill="#d4b4ec"/>
<ellipse cx="234.95" cy="182.08" rx="1.48" ry="1.03" fill="#ae80da" transform="rotate(47 234.95 182.08)"/>
<circle cx="197.5" cy="190.85" r="1.17" fill="#ae80da"/>
<ellipse cx="225.94" cy="180.08" rx="2.8" ry="1.94" fill="#ae80da" transform="rotate(46 225.94 180.08)"/>
<circle cx="186.08" cy="187.42" r="1.46" fill="#9a6ad0"/>
<ellipse cx="204.12" cy="208.53" rx="1.21" ry="0.83" fill="#c8a0e6" transform="rotate(150 204.12 208.53)"/>
<ellipse cx="189.04" cy="168.2" rx="1.59" ry="1.1" fill="#bc90e2" transform="rotate(135 189.04 168.2)"/>
<ellipse cx="248.29" cy="175.31" rx="2.66" ry="1.84" fill="#9a6ad0" transform="rotate(83 248.29 175.31)"/>
<circle cx="238.61" cy="193.44" r="1.2" fill="#9a6ad0"/>
<ellipse cx="189.2" cy="211.69" rx="2.66" ry="1.84" fill="#7a4cb4" transform="rotate(179 189.2 211.69)"/>
<circle cx="245.29" cy="174.45" r="1.53" fill="#9a6ad0"/>
<circle cx="245.34" cy="167.86" r="1.76" fill="#7a4cb4"/>
<circle cx="236.61" cy="179.3" r="0.84" fill="#bc90e2"/>
<circle cx="256.04" cy="187.15" r="1.43" fill="#c8a0e6"/>
<ellipse cx="231.71" cy="203.42" rx="1.93" ry="1.34" fill="#c8a0e6" transform="rotate(17 231.71 203.42)"/>
<circle cx="320.62" cy="193.91" r="1.07" fill="#8c7ad0"/>
<circle cx="304.4" cy="206.9" r="1.03" fill="#6b5bbb"/>
<circle cx="327.77" cy="179.56" r="1.23" fill="#5a4aae"/>
<circle cx="320.01" cy="219.2" r="1.05" fill="#c070e0"/>
<circle cx="271.6" cy="215.71" r="0.9" fill="#6b5bbb"/>
<circle cx="311.04" cy="201.39" r="0.75" fill="#5a4aae"/>
<circle cx="290.22" cy="201.86" r="1.19" fill="#b468dc"/>
<circle cx="307.45" cy="167.67" r="0.74" fill="#7d60c4"/>
<circle cx="336.99" cy="172.32" r="0.85" fill="#c070e0"/>
<circle cx="287.23" cy="194.63" r="1.03" fill="#c070e0"/>
<circle cx="322" cy="220.14" r="1.08" fill="#7d60c4"/>
<circle cx="337.4" cy="217.09" r="0.71" fill="#c070e0"/>
<circle cx="271.58" cy="194.1" r="1.4" fill="#7d60c4"/>
<circle cx="294.24" cy="216.04" r="1.35" fill="#6b5bbb"/>
<circle cx="308.45" cy="174.58" r="1.07" fill="#7d60c4"/>
<circle cx="275.68" cy="210.88" r="1.06" fill="#6b5bbb"/>
<circle cx="317.34" cy="179.38" r="1.33" fill="#c070e0"/>
<circle cx="294.77" cy="175.51" r="1.36" fill="#8c7ad0"/>
<circle cx="298.91" cy="183.15" r="0.8" fill="#7d60c4"/>
<circle cx="293.46" cy="173.47" r="0.93" fill="#7d60c4"/>
<circle cx="320.8" cy="211.89" r="0.78" fill="#5a4aae"/>
<circle cx="318.05" cy="215.23" r="0.9" fill="#7d60c4"/>
<circle cx="270.74" cy="187.87" r="1.31" fill="#6b5bbb"/>
<circle cx="292.33" cy="189.9" r="0.89" fill="#6b5bbb"/>
<circle cx="286.49" cy="169.76" r="1.16" fill="#8c7ad0"/>
<circle cx="334.3" cy="180.34" r="0.89" fill="#b468dc"/>
<circle cx="289.04" cy="208.37" r="1.25" fill="#c070e0"/>
<circle cx="330.55" cy="210.44" r="1.14" fill="#b468dc"/>
<circle cx="306.09" cy="205.5" r="0.73" fill="#8c7ad0"/>
<circle cx="295.99" cy="199.9" r="0.8" fill="#7d60c4"/>
<circle cx="301.45" cy="215.79" r="1.09" fill="#5a4aae"/>
<circle cx="300.47" cy="185.39" r="0.91" fill="#8c7ad0"/>
<circle cx="319.93" cy="201.93" r="0.98" fill="#5a4aae"/>
<circle cx="287.96" cy="196.82" r="0.98" fill="#5a4aae"/>
<circle cx="312.95" cy="171.02" r="1.05" fill="#c070e0"/>
<circle cx="306.18" cy="191.23" r="0.93" fill="#c070e0"/>
<circle cx="297.2" cy="196.31" r="0.87" fill="#5a4aae"/>
<circle cx="290.96" cy="171.87" r="0.87" fill="#7d60c4"/>
<circle cx="325.08" cy="177.81" r="0.71" fill="#c070e0"/>
<circle cx="293.95" cy="206.9" r="0.85" fill="#7d60c4"/>
<circle cx="290.69" cy="170.32" r="0.89" fill="#7d60c4"/>
<circle cx="275.19" cy="193.93" r="1.14" fill="#5a4aae"/>
<circle cx="272.76" cy="214.98" r="0.97" fill="#8c7ad0"/>
<circle cx="298.55" cy="218.04" r="1.29" fill="#6b5bbb"/>
<circle cx="275.29" cy="189.75" r="1.23" fill="#c070e0"/>
<circle cx="336.68" cy="193.21" r="0.75" fill="#b468dc"/>
<circle cx="328.45" cy="219.01" r="0.87" fill="#6b5bbb"/>
<circle cx="282.34" cy="175.14" r="1.38" fill="#6b5bbb"/>
<circle cx="334.73" cy="205.61" r="1.15" fill="#c070e0"/>
<circle cx="272.21" cy="208.56" r="0.7" fill="#5a4aae"/>
<circle cx="282.98" cy="216.22" r="1.15" fill="#7d60c4"/>
<circle cx="336.26" cy="200.52" r="1.07" fill="#c070e0"/>
<circle cx="317" cy="173" r="0.75" fill="#b468dc"/>
<circle cx="334.88" cy="177.26" r="0.88" fill="#b468dc"/>
<circle cx="266.08" cy="195.75" r="1.4" fill="#7d60c4"/>
<circle cx="336" cy="201.48" r="1.32" fill="#c070e0"/>
<circle cx="304.42" cy="196.26" r="0.72" fill="#c070e0"/>
<circle cx="317.44" cy="183.45" r="0.72" fill="#c070e0"/>
<circle cx="330.59" cy="201.62" r="0.76" fill="#5a4aae"/>
<circle cx="314.72" cy="216.5" r="0.86" fill="#6b5bbb"/>
<circle cx="316.8" cy="205.43" r="0.95" fill="#c070e0"/>
<circle cx="280.46" cy="209.64" r="1.22" fill="#b468dc"/>
<circle cx="270.92" cy="193.52" r="0.84" fill="#5a4aae"/>
<circle cx="282.85" cy="178.85" r="1.23" fill="#7d60c4"/>
<circle cx="273.96" cy="200.36" r="1.13" fill="#5a4aae"/>
<circle cx="301.41" cy="215.71" r="0.74" fill="#b468dc"/>
<circle cx="276.69" cy="188.05" r="0.85" fill="#b468dc"/>
<circle cx="276.36" cy="169.77" r="0.74" fill="#c070e0"/>
<circle cx="298.82" cy="205.09" r="0.92" fill="#6b5bbb"/>
<circle cx="338.82" cy="216.84" r="0.93" fill="#5a4aae"/>
<circle cx="313.63" cy="195.08" r="1.03" fill="#7d60c4"/>
<circle cx="314.5" cy="187.26" r="0.96" fill="#7d60c4"/>
<circle cx="298.3" cy="172.83" r="0.75" fill="#6b5bbb"/>
<circle cx="291.66" cy="218.12" r="0.79" fill="#5a4aae"/>
<circle cx="293.75" cy="208.13" r="0.92" fill="#c070e0"/>
<circle cx="272.41" cy="204.73" r="0.84" fill="#b468dc"/>
<circle cx="333.12" cy="177.33" r="0.95" fill="#c070e0"/>
<circle cx="268.21" cy="188.98" r="1.27" fill="#c070e0"/>
<circle cx="268.97" cy="168.86" r="0.74" fill="#6b5bbb"/>
<circle cx="284.76" cy="206.98" r="1.33" fill="#7d60c4"/>
</g>
<rect x="256" y="219.8" width="2.5" height="1" fill="#222" />
<rect x="336" y="219.8" width="2.5" height="1" fill="#222" />
<text x="361.7" y="147.2" font-size="12.5" fill="#000" font-weight="bold" >H</text>
<line x1="388.5" y1="154.1" x2="388.5" y2="218.05" stroke="#1a1a1a" stroke-width="1.1" />
<line x1="385.8" y1="156.7" x2="388.8" y2="156.7" stroke="#1a1a1a" stroke-width="0.99" />
<text x="382.6" y="159.08" font-size="6.7" text-anchor="end" >80</text>
<line x1="385.8" y1="171.9" x2="388.8" y2="171.9" stroke="#1a1a1a" stroke-width="0.99" />
<text x="382.6" y="174.28" font-size="6.7" text-anchor="end" >60</text>
<line x1="385.8" y1="187.1" x2="388.8" y2="187.1" stroke="#1a1a1a" stroke-width="0.99" />
<text x="382.6" y="189.48" font-size="6.7" text-anchor="end" >40</text>
<line x1="385.8" y1="202.3" x2="388.8" y2="202.3" stroke="#1a1a1a" stroke-width="0.99" />
<text x="382.6" y="204.68" font-size="6.7" text-anchor="end" >20</text>
<line x1="385.8" y1="217.5" x2="388.8" y2="217.5" stroke="#1a1a1a" stroke-width="0.99" />
<text x="382.6" y="219.88" font-size="6.7" text-anchor="end" >0</text>
<line x1="385.8" y1="217.5" x2="420.7" y2="217.5" stroke="#1a1a1a" stroke-width="1.1" />
<line x1="397.6" y1="217.5" x2="397.6" y2="220.3" stroke="#1a1a1a" stroke-width="0.99" />
<line x1="411.5" y1="217.5" x2="411.5" y2="220.3" stroke="#1a1a1a" stroke-width="0.99" />
<line x1="397.65" y1="162.17" x2="397.65" y2="165.97" stroke="#1a1a1a" stroke-width="1.1" />
<line x1="396.15" y1="162.17" x2="399.15" y2="162.17" stroke="#1a1a1a" stroke-width="1.1" />
<rect x="393.1" y="165.97" width="9.1" height="51.53" fill="#a8022f" />
<line x1="411.5" y1="194.02" x2="411.5" y2="198.04" stroke="#1a1a1a" stroke-width="1.1" />
<line x1="410" y1="194.02" x2="413" y2="194.02" stroke="#1a1a1a" stroke-width="1.1" />
<rect x="406.8" y="198.04" width="9.4" height="19.46" fill="#6aaf3d" />
<line x1="397.2" y1="160" x2="412.9" y2="160" stroke="#1a1a1a" stroke-width="1.1" />
<text x="405.05" y="160.9" font-size="7.4" text-anchor="middle" letter-spacing="0.25" style="stroke-width:0.35px">**</text>
<text x="369.4" y="184.8" font-size="9.3" text-anchor="middle" textLength="62" lengthAdjust="spacingAndGlyphs" transform="rotate(-90 369.4 184.8)" >Enucleated cells (%)</text>
<text x="400.6" y="227.7" font-size="7.1" text-anchor="end" transform="rotate(-45 400.6 227.7)" ><tspan font-style="italic">Gps2</tspan><tspan dy="-2.98" font-size="4.26" font-style="italic" letter-spacing="0.35">+/+</tspan></text>
<text x="414.5" y="227.7" font-size="7.1" text-anchor="end" transform="rotate(-45 414.5 227.7)" ><tspan font-style="italic">Gps2</tspan><tspan dy="-2.98" font-size="4.26" font-style="italic" letter-spacing="0.35">-/-</tspan></text>
<text x="7.8" y="266" font-size="12.5" fill="#000" font-weight="bold" >I</text>
<ellipse cx="55" cy="303" rx="8" ry="12" fill="#c4ccf2" opacity="0.9" filter="url(#b3)"/>
<ellipse cx="62" cy="284" rx="16" ry="4" fill="#b8c4f0" opacity="0.9" filter="url(#b3)"/>
<ellipse cx="77" cy="292" rx="5" ry="8" fill="#c0caf2" opacity="0.9" filter="url(#b3)"/>
<ellipse cx="76" cy="306" rx="8" ry="7" fill="#dde2f8" opacity="0.9" filter="url(#b3)"/>
<ellipse cx="52" cy="322" rx="10" ry="5" fill="#e2e6f8" opacity="0.9" filter="url(#b3)"/>
<path fill="#2d48d2" d="M55.4 314.0h0.7v0.7h-0.7zM50.8 311.9h0.7v0.7h-0.7zM53.8 301.9h0.7v0.7h-0.7zM63.5 305.3h0.7v0.7h-0.7zM54.8 309.8h0.7v0.7h-0.7zM60.1 303.8h0.7v0.7h-0.7zM57.6 296.2h0.7v0.7h-0.7zM53.3 300.5h0.7v0.7h-0.7zM49.0 291.9h0.7v0.7h-0.7zM47.7 302.1h0.7v0.7h-0.7zM54.2 301.4h0.7v0.7h-0.7zM55.3 293.3h0.7v0.7h-0.7zM54.6 305.9h0.7v0.7h-0.7zM58.4 297.2h0.7v0.7h-0.7zM53.2 287.9h0.7v0.7h-0.7zM52.7 286.4h0.7v0.7h-0.7zM48.6 312.8h0.7v0.7h-0.7zM45.1 310.4h0.7v0.7h-0.7zM56.5 301.5h0.7v0.7h-0.7zM57.1 308.2h0.7v0.7h-0.7zM59.7 302.2h0.7v0.7h-0.7zM52.3 299.2h0.7v0.7h-0.7zM50.6 303.6h0.7v0.7h-0.7zM51.5 312.5h0.7v0.7h-0.7zM46.6 295.3h0.7v0.7h-0.7zM50.7 287.3h0.7v0.7h-0.7zM63.6 284.7h0.7v0.7h-0.7zM53.7 299.8h0.7v0.7h-0.7zM62.5 288.1h0.7v0.7h-0.7zM59.8 298.1h0.7v0.7h-0.7zM54.3 298.6h0.7v0.7h-0.7zM57.9 294.9h0.7v0.7h-0.7zM54.6 306.8h0.7v0.7h-0.7zM63.3 284.8h0.7v0.7h-0.7zM61.9 311.6h0.7v0.7h-0.7zM52.8 306.4h0.7v0.7h-0.7zM52.9 317.2h0.7v0.7h-0.7zM55.9 302.3h0.7v0.7h-0.7zM54.0 302.4h0.7v0.7h-0.7zM54.2 297.0h0.7v0.7h-0.7zM64.3 288.7h0.7v0.7h-0.7zM38.8 303.0h0.7v0.7h-0.7zM54.3 307.0h0.7v0.7h-0.7zM54.1 302.8h0.7v0.7h-0.7zM56.5 311.7h0.7v0.7h-0.7zM53.0 301.0h0.7v0.7h-0.7zM63.7 308.2h0.7v0.7h-0.7zM50.6 322.6h0.7v0.7h-0.7zM58.5 299.3h0.7v0.7h-0.7zM49.7 306.4h0.7v0.7h-0.7zM51.3 295.5h0.7v0.7h-0.7zM49.2 300.0h0.7v0.7h-0.7zM60.0 300.5h0.7v0.7h-0.7zM48.5 309.4h0.7v0.7h-0.7zM55.3 310.8h0.7v0.7h-0.7zM60.4 302.7h0.7v0.7h-0.7zM54.3 303.6h0.7v0.7h-0.7zM49.9 309.4h0.7v0.7h-0.7zM61.2 305.4h0.7v0.7h-0.7zM53.9 301.9h0.7v0.7h-0.7zM51.5 297.6h0.7v0.7h-0.7zM53.2 297.3h0.7v0.7h-0.7zM53.0 291.4h0.7v0.7h-0.7zM56.6 304.4h0.7v0.7h-0.7zM49.8 285.6h0.7v0.7h-0.7zM55.0 312.8h0.7v0.7h-0.7zM51.7 300.1h0.7v0.7h-0.7zM52.4 309.2h0.7v0.7h-0.7zM50.9 311.9h0.7v0.7h-0.7zM53.6 311.4h0.7v0.7h-0.7zM55.1 302.1h0.7v0.7h-0.7zM48.3 298.5h0.7v0.7h-0.7zM53.8 309.3h0.7v0.7h-0.7zM56.1 298.4h0.7v0.7h-0.7zM56.8 311.9h0.7v0.7h-0.7zM54.3 300.5h0.7v0.7h-0.7zM53.2 310.5h0.7v0.7h-0.7zM57.4 296.6h0.7v0.7h-0.7zM56.7 300.2h0.7v0.7h-0.7zM51.6 313.9h0.7v0.7h-0.7zM58.7 298.2h0.7v0.7h-0.7zM55.4 308.0h0.7v0.7h-0.7zM52.1 303.0h0.7v0.7h-0.7zM58.0 289.7h0.7v0.7h-0.7zM56.5 309.9h0.7v0.7h-0.7zM57.3 293.3h0.7v0.7h-0.7zM56.4 297.1h0.7v0.7h-0.7zM57.6 308.8h0.7v0.7h-0.7zM56.0 297.9h0.7v0.7h-0.7zM52.3 310.8h0.7v0.7h-0.7zM51.0 308.0h0.7v0.7h-0.7zM57.3 301.8h0.7v0.7h-0.7zM65.8 304.6h0.7v0.7h-0.7zM64.7 287.9h0.7v0.7h-0.7zM44.9 311.9h0.7v0.7h-0.7zM57.9 301.5h0.7v0.7h-0.7zM54.8 288.8h0.7v0.7h-0.7zM52.2 295.7h0.7v0.7h-0.7zM54.0 311.1h0.7v0.7h-0.7zM55.2 307.0h0.7v0.7h-0.7zM51.9 300.5h0.7v0.7h-0.7zM55.5 301.7h0.7v0.7h-0.7zM60.7 297.0h0.7v0.7h-0.7zM63.5 296.2h0.7v0.7h-0.7zM59.8 297.8h0.7v0.7h-0.7zM62.4 305.1h0.7v0.7h-0.7zM56.8 310.0h0.7v0.7h-0.7zM52.1 295.7h0.7v0.7h-0.7zM45.9 313.8h0.7v0.7h-0.7zM51.9 299.3h0.7v0.7h-0.7zM54.9 319.9h0.7v0.7h-0.7zM47.2 306.0h0.7v0.7h-0.7zM53.2 308.3h0.7v0.7h-0.7zM46.9 300.8h0.7v0.7h-0.7zM58.8 316.5h0.7v0.7h-0.7zM62.2 297.2h0.7v0.7h-0.7zM55.2 303.1h0.7v0.7h-0.7zM48.8 292.5h0.7v0.7h-0.7zM58.4 306.0h0.7v0.7h-0.7zM54.4 313.7h0.7v0.7h-0.7zM50.5 308.2h0.7v0.7h-0.7zM55.0 303.5h0.7v0.7h-0.7zM57.2 305.4h0.7v0.7h-0.7zM56.2 306.1h0.7v0.7h-0.7zM63.7 301.5h0.7v0.7h-0.7zM59.6 308.9h0.7v0.7h-0.7zM53.4 310.4h0.7v0.7h-0.7zM51.1 313.3h0.7v0.7h-0.7zM51.4 300.1h0.7v0.7h-0.7zM56.5 310.7h0.7v0.7h-0.7zM59.1 311.1h0.7v0.7h-0.7zM54.1 296.4h0.7v0.7h-0.7zM57.5 306.4h0.7v0.7h-0.7zM50.7 311.8h0.7v0.7h-0.7zM55.9 296.3h0.7v0.7h-0.7zM57.0 293.4h0.7v0.7h-0.7zM51.1 307.2h0.7v0.7h-0.7zM48.0 304.3h0.7v0.7h-0.7zM48.9 309.9h0.7v0.7h-0.7zM51.7 305.5h0.7v0.7h-0.7zM48.2 301.2h0.7v0.7h-0.7zM59.3 307.7h0.7v0.7h-0.7zM46.7 311.4h0.7v0.7h-0.7zM59.0 301.0h0.7v0.7h-0.7zM61.4 295.5h0.7v0.7h-0.7zM54.6 312.9h0.7v0.7h-0.7zM60.9 314.2h0.7v0.7h-0.7zM50.1 289.8h0.7v0.7h-0.7zM56.8 292.5h0.7v0.7h-0.7zM54.4 293.7h0.7v0.7h-0.7zM59.8 310.4h0.7v0.7h-0.7zM57.5 304.1h0.7v0.7h-0.7zM55.2 301.6h0.7v0.7h-0.7zM56.7 306.0h0.7v0.7h-0.7zM57.1 300.6h0.7v0.7h-0.7zM63.5 306.3h0.7v0.7h-0.7zM61.3 314.6h0.7v0.7h-0.7zM51.0 290.5h0.7v0.7h-0.7zM60.7 300.9h0.7v0.7h-0.7zM55.4 301.9h0.7v0.7h-0.7zM55.6 294.5h0.7v0.7h-0.7zM54.5 300.3h0.7v0.7h-0.7zM54.9 285.3h0.7v0.7h-0.7zM58.7 306.7h0.7v0.7h-0.7zM47.2 298.1h0.7v0.7h-0.7zM55.1 309.0h0.7v0.7h-0.7zM55.0 315.1h0.7v0.7h-0.7zM55.1 296.0h0.7v0.7h-0.7zM52.0 309.9h0.7v0.7h-0.7zM52.2 310.7h0.7v0.7h-0.7zM59.6 308.7h0.7v0.7h-0.7zM59.6 302.6h0.7v0.7h-0.7zM55.0 299.3h0.7v0.7h-0.7zM52.3 291.5h0.7v0.7h-0.7zM52.5 295.4h0.7v0.7h-0.7zM48.6 305.2h0.7v0.7h-0.7zM57.0 301.3h0.7v0.7h-0.7zM61.2 311.5h0.7v0.7h-0.7zM59.7 299.2h0.7v0.7h-0.7zM48.3 308.5h0.7v0.7h-0.7zM56.4 309.8h0.7v0.7h-0.7zM56.9 314.1h0.7v0.7h-0.7zM53.7 309.3h0.7v0.7h-0.7zM51.0 285.5h0.7v0.7h-0.7zM53.0 316.0h0.7v0.7h-0.7zM47.5 312.1h0.7v0.7h-0.7zM51.9 300.8h0.7v0.7h-0.7zM55.2 305.7h0.7v0.7h-0.7zM50.6 305.0h0.7v0.7h-0.7zM57.0 310.7h0.7v0.7h-0.7zM51.6 316.4h0.7v0.7h-0.7zM63.6 323.3h0.7v0.7h-0.7zM49.0 305.4h0.7v0.7h-0.7zM46.6 307.0h0.7v0.7h-0.7zM57.5 294.8h0.7v0.7h-0.7zM47.9 305.5h0.7v0.7h-0.7zM57.8 297.7h0.7v0.7h-0.7zM53.8 283.8h0.7v0.7h-0.7zM51.8 305.2h0.7v0.7h-0.7zM55.7 316.7h0.7v0.7h-0.7zM49.9 286.0h0.7v0.7h-0.7zM57.0 299.3h0.7v0.7h-0.7zM56.3 309.7h0.7v0.7h-0.7zM57.7 315.5h0.7v0.7h-0.7zM61.1 290.7h0.7v0.7h-0.7zM54.7 320.0h0.7v0.7h-0.7zM53.2 311.7h0.7v0.7h-0.7zM54.7 300.6h0.7v0.7h-0.7zM62.1 312.3h0.7v0.7h-0.7zM53.9 311.3h0.7v0.7h-0.7zM49.1 298.2h0.7v0.7h-0.7zM59.1 304.3h0.7v0.7h-0.7zM50.2 307.6h0.7v0.7h-0.7zM56.5 314.3h0.7v0.7h-0.7zM59.3 301.8h0.7v0.7h-0.7zM52.8 302.9h0.7v0.7h-0.7zM54.0 315.7h0.7v0.7h-0.7zM62.1 314.9h0.7v0.7h-0.7zM56.7 302.0h0.7v0.7h-0.7zM59.1 301.2h0.7v0.7h-0.7zM56.1 290.7h0.7v0.7h-0.7zM53.1 315.5h0.7v0.7h-0.7zM50.4 292.1h0.7v0.7h-0.7zM54.3 317.3h0.7v0.7h-0.7zM61.5 301.1h0.7v0.7h-0.7zM52.8 303.1h0.7v0.7h-0.7zM50.8 304.3h0.7v0.7h-0.7zM53.6 292.2h0.7v0.7h-0.7zM52.4 301.9h0.7v0.7h-0.7zM51.1 295.0h0.7v0.7h-0.7zM59.1 319.2h0.7v0.7h-0.7zM53.7 300.6h0.7v0.7h-0.7zM57.3 302.2h0.7v0.7h-0.7zM51.5 315.1h0.7v0.7h-0.7zM50.3 298.2h0.7v0.7h-0.7zM52.0 296.9h0.7v0.7h-0.7zM53.9 308.6h0.7v0.7h-0.7zM61.5 309.3h0.7v0.7h-0.7zM55.2 294.0h0.7v0.7h-0.7zM54.7 296.5h0.7v0.7h-0.7zM54.6 311.8h0.7v0.7h-0.7zM55.9 302.3h0.7v0.7h-0.7zM51.6 303.8h0.7v0.7h-0.7zM55.5 296.6h0.7v0.7h-0.7zM52.7 311.1h0.7v0.7h-0.7zM47.5 300.5h0.7v0.7h-0.7zM49.7 316.4h0.7v0.7h-0.7zM57.7 308.1h0.7v0.7h-0.7zM56.8 306.3h0.7v0.7h-0.7zM56.3 291.3h0.7v0.7h-0.7zM56.2 308.8h0.7v0.7h-0.7zM48.6 310.6h0.7v0.7h-0.7zM58.0 291.8h0.7v0.7h-0.7zM52.9 301.5h0.7v0.7h-0.7zM52.6 307.1h0.7v0.7h-0.7zM49.3 302.2h0.7v0.7h-0.7zM56.0 309.8h0.7v0.7h-0.7zM55.2 302.1h0.7v0.7h-0.7zM58.1 288.1h0.7v0.7h-0.7zM59.2 301.5h0.7v0.7h-0.7zM49.4 300.6h0.7v0.7h-0.7zM46.7 287.6h0.7v0.7h-0.7zM53.5 297.8h0.7v0.7h-0.7zM58.3 296.9h0.7v0.7h-0.7zM49.2 296.3h0.7v0.7h-0.7zM62.7 304.2h0.7v0.7h-0.7zM52.2 296.1h0.7v0.7h-0.7zM50.1 302.7h0.7v0.7h-0.7zM56.9 313.2h0.7v0.7h-0.7zM60.2 306.2h0.7v0.7h-0.7zM52.0 297.1h0.7v0.7h-0.7zM44.6 295.9h0.7v0.7h-0.7zM56.9 301.3h0.7v0.7h-0.7zM56.7 293.2h0.7v0.7h-0.7zM59.0 306.4h0.7v0.7h-0.7zM55.2 307.2h0.7v0.7h-0.7zM44.9 299.5h0.7v0.7h-0.7zM51.0 318.5h0.7v0.7h-0.7zM54.2 300.0h0.7v0.7h-0.7zM58.8 295.6h0.7v0.7h-0.7zM61.4 298.4h0.7v0.7h-0.7zM54.7 296.7h0.7v0.7h-0.7zM58.6 286.6h0.7v0.7h-0.7zM58.1 297.4h0.7v0.7h-0.7zM55.2 294.8h0.7v0.7h-0.7zM56.0 305.5h0.7v0.7h-0.7zM57.7 306.5h0.7v0.7h-0.7zM57.8 311.9h0.7v0.7h-0.7zM53.2 294.6h0.7v0.7h-0.7zM49.3 309.4h0.7v0.7h-0.7zM53.3 312.4h0.7v0.7h-0.7zM55.2 295.9h0.7v0.7h-0.7zM59.1 319.5h0.7v0.7h-0.7zM54.2 296.5h0.7v0.7h-0.7zM51.2 311.1h0.7v0.7h-0.7zM52.4 300.8h0.7v0.7h-0.7zM58.1 304.1h0.7v0.7h-0.7zM55.5 299.6h0.7v0.7h-0.7zM52.1 305.3h0.7v0.7h-0.7zM55.7 308.7h0.7v0.7h-0.7zM52.8 306.8h0.7v0.7h-0.7zM57.1 304.7h0.7v0.7h-0.7zM57.6 312.1h0.7v0.7h-0.7zM55.9 304.6h0.7v0.7h-0.7zM50.6 306.6h0.7v0.7h-0.7zM54.6 301.5h0.7v0.7h-0.7zM51.3 308.6h0.7v0.7h-0.7zM66.5 307.5h0.7v0.7h-0.7zM55.4 307.5h0.7v0.7h-0.7zM52.3 304.8h0.7v0.7h-0.7zM52.0 298.9h0.7v0.7h-0.7zM56.0 305.8h0.7v0.7h-0.7zM54.5 297.6h0.7v0.7h-0.7zM56.2 295.3h0.7v0.7h-0.7zM58.5 301.2h0.7v0.7h-0.7zM55.0 310.3h0.7v0.7h-0.7zM57.5 293.6h0.7v0.7h-0.7zM53.9 306.9h0.7v0.7h-0.7zM50.1 284.8h0.7v0.7h-0.7zM54.7 303.6h0.7v0.7h-0.7zM56.9 304.7h0.7v0.7h-0.7zM55.6 305.9h0.7v0.7h-0.7zM61.2 307.9h0.7v0.7h-0.7zM57.4 300.9h0.7v0.7h-0.7zM60.1 302.5h0.7v0.7h-0.7zM58.3 287.1h0.7v0.7h-0.7zM56.1 303.2h0.7v0.7h-0.7zM52.9 314.3h0.7v0.7h-0.7zM56.8 302.9h0.7v0.7h-0.7zM52.6 319.0h0.7v0.7h-0.7zM58.4 309.2h0.7v0.7h-0.7zM51.6 314.4h0.7v0.7h-0.7zM57.5 301.8h0.7v0.7h-0.7zM54.5 291.0h0.7v0.7h-0.7zM57.9 295.3h0.7v0.7h-0.7zM58.8 300.5h0.7v0.7h-0.7zM52.2 306.9h0.7v0.7h-0.7zM55.9 295.0h0.7v0.7h-0.7zM54.7 308.8h0.7v0.7h-0.7zM53.9 293.3h0.7v0.7h-0.7zM53.9 296.3h0.7v0.7h-0.7zM52.4 304.4h0.7v0.7h-0.7zM54.8 302.3h0.7v0.7h-0.7zM47.6 306.8h0.7v0.7h-0.7zM54.1 300.8h0.7v0.7h-0.7zM55.7 319.4h0.7v0.7h-0.7zM49.2 291.2h0.7v0.7h-0.7zM58.4 297.7h0.7v0.7h-0.7zM60.8 296.2h0.7v0.7h-0.7zM52.8 310.7h0.7v0.7h-0.7zM59.1 307.5h0.7v0.7h-0.7zM57.0 303.0h0.7v0.7h-0.7zM53.0 302.4h0.7v0.7h-0.7zM60.7 309.6h0.7v0.7h-0.7zM55.1 306.5h0.7v0.7h-0.7zM58.7 313.4h0.7v0.7h-0.7zM54.4 303.4h0.7v0.7h-0.7zM56.5 324.8h0.7v0.7h-0.7zM56.1 314.1h0.7v0.7h-0.7zM48.1 310.7h0.7v0.7h-0.7zM48.7 295.4h0.7v0.7h-0.7zM52.2 302.9h0.7v0.7h-0.7zM55.8 306.9h0.7v0.7h-0.7zM56.0 300.5h0.7v0.7h-0.7zM66.6 307.1h0.7v0.7h-0.7zM58.0 320.1h0.7v0.7h-0.7zM59.3 308.6h0.7v0.7h-0.7zM56.4 318.8h0.7v0.7h-0.7zM50.2 296.4h0.7v0.7h-0.7zM55.7 287.8h0.7v0.7h-0.7zM51.5 313.0h0.7v0.7h-0.7zM52.9 305.3h0.7v0.7h-0.7zM58.1 294.8h0.7v0.7h-0.7zM56.2 299.0h0.7v0.7h-0.7zM50.1 301.8h0.7v0.7h-0.7zM54.8 300.8h0.7v0.7h-0.7zM52.1 311.6h0.7v0.7h-0.7zM60.1 308.4h0.7v0.7h-0.7zM54.6 295.6h0.7v0.7h-0.7zM51.3 295.2h0.7v0.7h-0.7zM55.9 311.2h0.7v0.7h-0.7zM59.1 303.8h0.7v0.7h-0.7zM53.3 305.4h0.7v0.7h-0.7zM55.5 308.7h0.7v0.7h-0.7zM61.6 298.6h0.7v0.7h-0.7zM64.3 287.4h0.7v0.7h-0.7zM47.1 292.0h0.7v0.7h-0.7zM50.4 302.1h0.7v0.7h-0.7zM64.2 298.5h0.7v0.7h-0.7zM59.9 301.1h0.7v0.7h-0.7zM55.7 295.9h0.7v0.7h-0.7zM65.1 303.7h0.7v0.7h-0.7zM52.3 322.0h0.7v0.7h-0.7zM55.8 307.3h0.7v0.7h-0.7zM54.4 297.4h0.7v0.7h-0.7zM48.6 302.6h0.7v0.7h-0.7zM62.2 307.3h0.7v0.7h-0.7zM54.2 312.4h0.7v0.7h-0.7zM50.8 314.9h0.7v0.7h-0.7zM54.9 297.4h0.7v0.7h-0.7zM58.0 308.1h0.7v0.7h-0.7zM53.5 305.7h0.7v0.7h-0.7zM59.4 315.1h0.7v0.7h-0.7zM51.2 283.2h0.7v0.7h-0.7zM64.1 301.9h0.7v0.7h-0.7zM53.1 307.4h0.7v0.7h-0.7zM53.1 312.3h0.7v0.7h-0.7zM49.5 302.4h0.7v0.7h-0.7zM49.4 316.1h0.7v0.7h-0.7zM53.9 312.7h0.7v0.7h-0.7zM61.2 294.5h0.7v0.7h-0.7zM54.0 309.7h0.7v0.7h-0.7zM55.2 302.9h0.7v0.7h-0.7zM58.8 311.2h0.7v0.7h-0.7zM52.4 302.9h0.7v0.7h-0.7zM57.9 305.7h0.7v0.7h-0.7zM55.6 295.1h0.7v0.7h-0.7zM62.8 302.2h0.7v0.7h-0.7zM56.2 303.7h0.7v0.7h-0.7zM55.3 305.2h0.7v0.7h-0.7zM71.4 283.3h0.7v0.7h-0.7zM58.9 281.3h0.7v0.7h-0.7zM53.3 286.3h0.7v0.7h-0.7zM60.1 284.1h0.7v0.7h-0.7zM56.4 288.5h0.7v0.7h-0.7zM61.4 287.4h0.7v0.7h-0.7zM61.6 286.9h0.7v0.7h-0.7zM52.3 281.0h0.7v0.7h-0.7zM73.0 283.7h0.7v0.7h-0.7zM64.7 286.8h0.7v0.7h-0.7zM68.9 285.2h0.7v0.7h-0.7zM50.2 282.7h0.7v0.7h-0.7zM62.3 286.1h0.7v0.7h-0.7zM67.1 285.4h0.7v0.7h-0.7zM54.3 284.5h0.7v0.7h-0.7zM71.6 282.3h0.7v0.7h-0.7zM56.3 286.8h0.7v0.7h-0.7zM77.7 285.6h0.7v0.7h-0.7zM62.1 282.0h0.7v0.7h-0.7zM60.8 282.5h0.7v0.7h-0.7zM63.4 286.3h0.7v0.7h-0.7zM66.5 287.9h0.7v0.7h-0.7zM51.9 281.2h0.7v0.7h-0.7zM75.6 287.2h0.7v0.7h-0.7zM52.3 284.8h0.7v0.7h-0.7zM51.4 284.4h0.7v0.7h-0.7zM65.1 287.0h0.7v0.7h-0.7zM52.4 281.2h0.7v0.7h-0.7zM67.7 283.6h0.7v0.7h-0.7zM75.9 281.5h0.7v0.7h-0.7zM55.6 277.4h0.7v0.7h-0.7zM73.2 287.9h0.7v0.7h-0.7zM66.1 283.7h0.7v0.7h-0.7zM41.9 281.0h0.7v0.7h-0.7zM56.8 289.4h0.7v0.7h-0.7zM70.9 283.0h0.7v0.7h-0.7zM66.3 285.9h0.7v0.7h-0.7zM67.0 282.1h0.7v0.7h-0.7zM57.7 287.1h0.7v0.7h-0.7zM68.9 283.6h0.7v0.7h-0.7zM86.3 285.2h0.7v0.7h-0.7zM58.0 286.8h0.7v0.7h-0.7zM70.0 284.2h0.7v0.7h-0.7zM80.0 287.3h0.7v0.7h-0.7zM62.3 286.3h0.7v0.7h-0.7zM68.7 283.8h0.7v0.7h-0.7zM69.3 283.1h0.7v0.7h-0.7zM59.7 286.2h0.7v0.7h-0.7zM49.6 283.6h0.7v0.7h-0.7zM52.4 286.3h0.7v0.7h-0.7zM56.3 289.2h0.7v0.7h-0.7zM77.3 282.7h0.7v0.7h-0.7zM63.6 283.6h0.7v0.7h-0.7zM62.0 286.3h0.7v0.7h-0.7zM76.8 290.1h0.7v0.7h-0.7zM80.3 281.3h0.7v0.7h-0.7zM57.3 284.0h0.7v0.7h-0.7zM58.9 284.9h0.7v0.7h-0.7zM68.5 283.3h0.7v0.7h-0.7zM56.3 290.6h0.7v0.7h-0.7zM68.9 290.1h0.7v0.7h-0.7zM56.5 288.1h0.7v0.7h-0.7zM78.8 288.0h0.7v0.7h-0.7zM54.6 285.9h0.7v0.7h-0.7zM54.4 281.6h0.7v0.7h-0.7zM62.0 285.8h0.7v0.7h-0.7zM60.0 284.2h0.7v0.7h-0.7zM68.3 282.8h0.7v0.7h-0.7zM66.3 286.5h0.7v0.7h-0.7zM68.6 286.0h0.7v0.7h-0.7zM52.2 283.8h0.7v0.7h-0.7zM57.8 286.4h0.7v0.7h-0.7zM44.7 284.9h0.7v0.7h-0.7zM46.2 286.2h0.7v0.7h-0.7zM57.0 284.6h0.7v0.7h-0.7zM71.3 288.9h0.7v0.7h-0.7zM52.3 284.8h0.7v0.7h-0.7zM42.7 284.0h0.7v0.7h-0.7zM55.3 286.2h0.7v0.7h-0.7zM61.0 284.8h0.7v0.7h-0.7zM51.0 283.7h0.7v0.7h-0.7zM51.0 284.6h0.7v0.7h-0.7zM46.4 285.2h0.7v0.7h-0.7zM73.0 291.3h0.7v0.7h-0.7zM77.1 287.9h0.7v0.7h-0.7zM70.1 288.6h0.7v0.7h-0.7zM61.7 285.5h0.7v0.7h-0.7zM43.5 283.2h0.7v0.7h-0.7zM73.6 280.1h0.7v0.7h-0.7zM65.3 284.4h0.7v0.7h-0.7zM58.6 285.4h0.7v0.7h-0.7zM62.4 281.7h0.7v0.7h-0.7zM61.3 279.9h0.7v0.7h-0.7zM77.0 284.5h0.7v0.7h-0.7zM70.9 282.2h0.7v0.7h-0.7zM80.4 287.2h0.7v0.7h-0.7zM65.6 285.1h0.7v0.7h-0.7zM65.9 282.7h0.7v0.7h-0.7zM60.7 284.0h0.7v0.7h-0.7zM65.9 288.5h0.7v0.7h-0.7zM73.6 285.2h0.7v0.7h-0.7zM68.4 283.8h0.7v0.7h-0.7zM57.4 280.4h0.7v0.7h-0.7zM49.6 281.5h0.7v0.7h-0.7zM61.5 284.1h0.7v0.7h-0.7zM66.4 287.5h0.7v0.7h-0.7zM68.9 284.2h0.7v0.7h-0.7zM57.5 283.8h0.7v0.7h-0.7zM68.2 282.2h0.7v0.7h-0.7zM47.3 284.0h0.7v0.7h-0.7zM72.6 287.7h0.7v0.7h-0.7zM68.1 279.6h0.7v0.7h-0.7zM60.6 286.4h0.7v0.7h-0.7zM72.9 289.3h0.7v0.7h-0.7zM52.8 285.5h0.7v0.7h-0.7zM46.6 284.0h0.7v0.7h-0.7zM58.2 286.6h0.7v0.7h-0.7zM63.8 280.0h0.7v0.7h-0.7zM60.9 285.5h0.7v0.7h-0.7zM76.6 282.7h0.7v0.7h-0.7zM53.5 283.0h0.7v0.7h-0.7zM72.3 283.8h0.7v0.7h-0.7zM63.0 285.7h0.7v0.7h-0.7zM54.0 287.3h0.7v0.7h-0.7zM46.0 289.2h0.7v0.7h-0.7zM55.5 282.2h0.7v0.7h-0.7zM54.8 281.5h0.7v0.7h-0.7zM53.4 282.5h0.7v0.7h-0.7zM50.5 284.1h0.7v0.7h-0.7zM65.2 283.0h0.7v0.7h-0.7zM63.9 282.4h0.7v0.7h-0.7zM64.3 283.7h0.7v0.7h-0.7zM51.2 284.8h0.7v0.7h-0.7zM60.4 282.8h0.7v0.7h-0.7zM61.6 285.9h0.7v0.7h-0.7zM49.9 283.2h0.7v0.7h-0.7zM68.3 284.5h0.7v0.7h-0.7zM69.8 290.7h0.7v0.7h-0.7zM49.6 285.4h0.7v0.7h-0.7zM58.4 288.2h0.7v0.7h-0.7zM67.7 280.9h0.7v0.7h-0.7zM72.8 284.5h0.7v0.7h-0.7zM59.0 284.6h0.7v0.7h-0.7zM64.2 282.3h0.7v0.7h-0.7zM58.2 288.0h0.7v0.7h-0.7zM51.9 283.0h0.7v0.7h-0.7zM69.7 282.1h0.7v0.7h-0.7zM60.0 285.3h0.7v0.7h-0.7zM53.0 283.7h0.7v0.7h-0.7zM53.0 284.0h0.7v0.7h-0.7zM64.8 284.5h0.7v0.7h-0.7zM64.4 285.5h0.7v0.7h-0.7zM69.8 281.7h0.7v0.7h-0.7zM63.1 288.6h0.7v0.7h-0.7zM59.6 283.8h0.7v0.7h-0.7zM62.1 282.6h0.7v0.7h-0.7zM67.5 284.5h0.7v0.7h-0.7zM60.3 286.4h0.7v0.7h-0.7zM74.0 280.8h0.7v0.7h-0.7zM57.0 283.8h0.7v0.7h-0.7zM48.0 286.3h0.7v0.7h-0.7zM83.1 286.6h0.7v0.7h-0.7zM74.6 279.4h0.7v0.7h-0.7zM57.6 281.1h0.7v0.7h-0.7zM69.8 284.2h0.7v0.7h-0.7zM60.2 285.8h0.7v0.7h-0.7zM69.6 288.7h0.7v0.7h-0.7zM75.6 286.9h0.7v0.7h-0.7zM45.7 287.7h0.7v0.7h-0.7zM62.9 280.5h0.7v0.7h-0.7zM63.7 283.9h0.7v0.7h-0.7zM61.1 287.0h0.7v0.7h-0.7zM48.5 286.2h0.7v0.7h-0.7zM73.9 281.6h0.7v0.7h-0.7zM75.9 282.8h0.7v0.7h-0.7zM54.6 286.9h0.7v0.7h-0.7zM61.8 279.7h0.7v0.7h-0.7zM55.6 286.3h0.7v0.7h-0.7zM56.6 283.3h0.7v0.7h-0.7zM62.1 284.5h0.7v0.7h-0.7zM55.1 282.1h0.7v0.7h-0.7zM66.4 287.7h0.7v0.7h-0.7zM71.9 282.2h0.7v0.7h-0.7zM76.3 280.6h0.7v0.7h-0.7zM71.5 288.7h0.7v0.7h-0.7zM77.3 277.6h0.7v0.7h-0.7zM62.6 281.9h0.7v0.7h-0.7zM65.9 288.1h0.7v0.7h-0.7zM66.1 288.7h0.7v0.7h-0.7zM45.3 282.3h0.7v0.7h-0.7zM56.7 286.2h0.7v0.7h-0.7zM74.2 282.3h0.7v0.7h-0.7zM52.7 286.8h0.7v0.7h-0.7zM48.8 286.0h0.7v0.7h-0.7zM53.8 284.3h0.7v0.7h-0.7zM82.6 283.8h0.7v0.7h-0.7zM62.4 282.4h0.7v0.7h-0.7zM67.6 288.5h0.7v0.7h-0.7zM68.4 281.1h0.7v0.7h-0.7zM65.6 288.5h0.7v0.7h-0.7zM52.4 284.1h0.7v0.7h-0.7zM52.7 283.0h0.7v0.7h-0.7zM52.1 281.0h0.7v0.7h-0.7zM66.8 284.4h0.7v0.7h-0.7zM40.3 281.8h0.7v0.7h-0.7zM54.7 281.6h0.7v0.7h-0.7zM63.5 284.0h0.7v0.7h-0.7zM65.7 281.0h0.7v0.7h-0.7zM54.6 283.4h0.7v0.7h-0.7zM58.2 283.6h0.7v0.7h-0.7zM54.4 284.2h0.7v0.7h-0.7zM78.4 282.5h0.7v0.7h-0.7zM45.5 285.2h0.7v0.7h-0.7zM52.9 286.6h0.7v0.7h-0.7zM72.4 288.9h0.7v0.7h-0.7zM63.5 280.1h0.7v0.7h-0.7zM78.0 286.9h0.7v0.7h-0.7zM74.9 284.8h0.7v0.7h-0.7zM58.5 284.6h0.7v0.7h-0.7zM43.6 287.1h0.7v0.7h-0.7zM55.8 282.9h0.7v0.7h-0.7zM65.7 282.3h0.7v0.7h-0.7zM70.1 282.9h0.7v0.7h-0.7zM85.6 287.8h0.7v0.7h-0.7zM68.9 285.4h0.7v0.7h-0.7zM62.7 283.2h0.7v0.7h-0.7zM43.0 283.1h0.7v0.7h-0.7zM54.2 283.2h0.7v0.7h-0.7zM62.9 279.6h0.7v0.7h-0.7zM49.7 282.8h0.7v0.7h-0.7zM57.5 286.9h0.7v0.7h-0.7zM88.7 284.1h0.7v0.7h-0.7zM68.6 284.5h0.7v0.7h-0.7zM64.7 289.1h0.7v0.7h-0.7zM63.9 286.0h0.7v0.7h-0.7zM62.6 282.9h0.7v0.7h-0.7zM72.9 284.1h0.7v0.7h-0.7zM76.9 281.6h0.7v0.7h-0.7zM66.7 288.9h0.7v0.7h-0.7zM55.9 285.4h0.7v0.7h-0.7zM76.9 285.7h0.7v0.7h-0.7zM54.1 283.7h0.7v0.7h-0.7zM65.3 283.0h0.7v0.7h-0.7zM58.0 284.9h0.7v0.7h-0.7zM49.7 288.9h0.7v0.7h-0.7zM56.2 284.5h0.7v0.7h-0.7zM63.2 288.2h0.7v0.7h-0.7zM58.4 289.8h0.7v0.7h-0.7zM80.7 286.4h0.7v0.7h-0.7zM48.6 281.1h0.7v0.7h-0.7zM59.7 285.3h0.7v0.7h-0.7zM68.6 287.7h0.7v0.7h-0.7zM66.8 284.7h0.7v0.7h-0.7zM66.1 279.3h0.7v0.7h-0.7zM73.8 280.6h0.7v0.7h-0.7zM42.8 282.7h0.7v0.7h-0.7zM57.9 281.4h0.7v0.7h-0.7zM60.0 284.8h0.7v0.7h-0.7zM68.4 285.6h0.7v0.7h-0.7zM57.1 284.8h0.7v0.7h-0.7zM74.9 283.9h0.7v0.7h-0.7zM60.7 279.0h0.7v0.7h-0.7zM65.1 289.9h0.7v0.7h-0.7zM69.6 284.0h0.7v0.7h-0.7zM74.6 287.8h0.7v0.7h-0.7zM75.8 281.5h0.7v0.7h-0.7zM50.6 286.4h0.7v0.7h-0.7zM67.5 285.7h0.7v0.7h-0.7zM47.6 286.6h0.7v0.7h-0.7zM81.5 287.7h0.7v0.7h-0.7zM88.0 285.8h0.7v0.7h-0.7zM63.5 289.3h0.7v0.7h-0.7zM72.3 278.6h0.7v0.7h-0.7zM46.8 285.2h0.7v0.7h-0.7zM57.1 289.2h0.7v0.7h-0.7zM78.1 287.9h0.7v0.7h-0.7zM59.0 284.0h0.7v0.7h-0.7zM70.1 283.7h0.7v0.7h-0.7zM69.0 285.3h0.7v0.7h-0.7zM70.0 284.9h0.7v0.7h-0.7zM54.6 277.0h0.7v0.7h-0.7zM48.7 280.8h0.7v0.7h-0.7zM68.9 280.8h0.7v0.7h-0.7zM56.3 285.8h0.7v0.7h-0.7zM69.0 287.2h0.7v0.7h-0.7zM66.7 288.6h0.7v0.7h-0.7zM56.4 287.6h0.7v0.7h-0.7zM48.5 283.4h0.7v0.7h-0.7zM66.3 286.2h0.7v0.7h-0.7zM59.4 282.8h0.7v0.7h-0.7zM49.7 278.6h0.7v0.7h-0.7zM42.4 288.8h0.7v0.7h-0.7zM43.9 280.4h0.7v0.7h-0.7zM45.5 283.8h0.7v0.7h-0.7zM59.3 282.9h0.7v0.7h-0.7zM48.9 284.1h0.7v0.7h-0.7zM47.7 285.4h0.7v0.7h-0.7zM77.0 282.0h0.7v0.7h-0.7zM64.1 283.2h0.7v0.7h-0.7zM57.9 281.0h0.7v0.7h-0.7zM62.7 284.4h0.7v0.7h-0.7zM74.8 290.8h0.7v0.7h-0.7zM51.1 287.4h0.7v0.7h-0.7zM53.6 283.1h0.7v0.7h-0.7zM50.1 285.8h0.7v0.7h-0.7zM74.3 284.2h0.7v0.7h-0.7zM64.1 282.4h0.7v0.7h-0.7zM58.8 281.1h0.7v0.7h-0.7zM61.2 279.2h0.7v0.7h-0.7zM84.9 287.8h0.7v0.7h-0.7zM56.0 283.2h0.7v0.7h-0.7zM57.6 284.8h0.7v0.7h-0.7zM64.3 289.4h0.7v0.7h-0.7zM57.2 279.4h0.7v0.7h-0.7zM64.5 285.6h0.7v0.7h-0.7zM53.5 286.6h0.7v0.7h-0.7zM59.9 282.4h0.7v0.7h-0.7zM60.9 281.1h0.7v0.7h-0.7zM57.8 288.9h0.7v0.7h-0.7zM74.0 286.1h0.7v0.7h-0.7zM63.1 285.2h0.7v0.7h-0.7zM50.0 284.9h0.7v0.7h-0.7zM54.6 282.9h0.7v0.7h-0.7zM77.8 282.5h0.7v0.7h-0.7zM62.6 284.7h0.7v0.7h-0.7zM72.0 283.8h0.7v0.7h-0.7zM66.9 285.5h0.7v0.7h-0.7zM60.1 283.0h0.7v0.7h-0.7zM51.5 287.3h0.7v0.7h-0.7zM53.3 287.5h0.7v0.7h-0.7zM78.8 283.0h0.7v0.7h-0.7zM52.3 281.9h0.7v0.7h-0.7zM56.8 288.0h0.7v0.7h-0.7zM54.1 281.7h0.7v0.7h-0.7zM45.3 284.8h0.7v0.7h-0.7zM66.5 288.4h0.7v0.7h-0.7zM64.7 284.4h0.7v0.7h-0.7zM61.6 292.1h0.7v0.7h-0.7zM78.0 286.9h0.7v0.7h-0.7zM58.7 284.0h0.7v0.7h-0.7zM61.2 284.3h0.7v0.7h-0.7zM67.0 282.7h0.7v0.7h-0.7zM81.0 281.9h0.7v0.7h-0.7zM68.6 286.5h0.7v0.7h-0.7zM71.7 288.1h0.7v0.7h-0.7zM65.2 285.1h0.7v0.7h-0.7zM76.7 287.9h0.7v0.7h-0.7zM62.2 286.8h0.7v0.7h-0.7zM50.0 285.6h0.7v0.7h-0.7zM41.3 287.8h0.7v0.7h-0.7zM55.9 287.0h0.7v0.7h-0.7zM66.8 283.0h0.7v0.7h-0.7zM70.7 288.9h0.7v0.7h-0.7zM53.5 289.5h0.7v0.7h-0.7zM66.2 282.2h0.7v0.7h-0.7zM59.7 285.5h0.7v0.7h-0.7zM69.6 282.5h0.7v0.7h-0.7zM58.6 285.9h0.7v0.7h-0.7zM65.1 289.7h0.7v0.7h-0.7zM70.7 286.9h0.7v0.7h-0.7zM53.4 282.3h0.7v0.7h-0.7zM51.9 284.5h0.7v0.7h-0.7zM68.7 289.0h0.7v0.7h-0.7zM72.3 282.5h0.7v0.7h-0.7zM61.8 290.2h0.7v0.7h-0.7zM63.8 286.0h0.7v0.7h-0.7zM48.7 281.0h0.7v0.7h-0.7zM57.7 284.0h0.7v0.7h-0.7zM67.8 284.3h0.7v0.7h-0.7zM45.4 290.9h0.7v0.7h-0.7zM66.4 280.3h0.7v0.7h-0.7zM79.4 286.8h0.7v0.7h-0.7zM60.8 284.7h0.7v0.7h-0.7zM67.6 278.7h0.7v0.7h-0.7zM72.5 285.3h0.7v0.7h-0.7zM69.3 283.1h0.7v0.7h-0.7zM56.3 288.8h0.7v0.7h-0.7zM74.2 280.5h0.7v0.7h-0.7zM60.2 282.9h0.7v0.7h-0.7zM56.9 281.3h0.7v0.7h-0.7zM49.1 284.9h0.7v0.7h-0.7zM59.7 286.1h0.7v0.7h-0.7zM70.1 283.2h0.7v0.7h-0.7zM83.5 288.9h0.7v0.7h-0.7zM47.0 284.2h0.7v0.7h-0.7zM59.0 285.8h0.7v0.7h-0.7zM52.6 288.8h0.7v0.7h-0.7zM58.7 290.2h0.7v0.7h-0.7zM54.9 289.7h0.7v0.7h-0.7zM66.7 287.0h0.7v0.7h-0.7zM65.9 285.6h0.7v0.7h-0.7zM52.6 284.2h0.7v0.7h-0.7zM55.2 284.1h0.7v0.7h-0.7zM58.7 286.6h0.7v0.7h-0.7zM65.3 283.9h0.7v0.7h-0.7zM45.0 287.1h0.7v0.7h-0.7zM55.1 283.6h0.7v0.7h-0.7zM66.8 284.5h0.7v0.7h-0.7zM63.2 284.9h0.7v0.7h-0.7zM43.6 286.4h0.7v0.7h-0.7zM60.3 286.6h0.7v0.7h-0.7zM63.2 283.5h0.7v0.7h-0.7zM76.7 284.9h0.7v0.7h-0.7zM72.4 286.2h0.7v0.7h-0.7zM70.3 287.3h0.7v0.7h-0.7zM68.5 282.2h0.7v0.7h-0.7zM60.0 288.1h0.7v0.7h-0.7zM60.9 283.7h0.7v0.7h-0.7zM62.6 287.0h0.7v0.7h-0.7zM54.0 284.4h0.7v0.7h-0.7zM57.8 282.8h0.7v0.7h-0.7zM69.7 283.1h0.7v0.7h-0.7zM62.7 285.5h0.7v0.7h-0.7zM66.9 285.8h0.7v0.7h-0.7zM69.7 282.7h0.7v0.7h-0.7zM38.3 286.8h0.7v0.7h-0.7zM78.7 283.6h0.7v0.7h-0.7zM62.5 286.8h0.7v0.7h-0.7zM81.7 298.2h0.7v0.7h-0.7zM81.3 290.6h0.7v0.7h-0.7zM80.1 286.9h0.7v0.7h-0.7zM76.3 294.5h0.7v0.7h-0.7zM76.5 294.2h0.7v0.7h-0.7zM76.4 292.4h0.7v0.7h-0.7zM82.8 294.2h0.7v0.7h-0.7zM80.0 282.0h0.7v0.7h-0.7zM75.2 296.3h0.7v0.7h-0.7zM72.3 288.2h0.7v0.7h-0.7zM75.9 297.8h0.7v0.7h-0.7zM71.9 287.5h0.7v0.7h-0.7zM76.9 291.4h0.7v0.7h-0.7zM72.2 298.1h0.7v0.7h-0.7zM78.8 298.5h0.7v0.7h-0.7zM78.5 294.5h0.7v0.7h-0.7zM76.1 289.0h0.7v0.7h-0.7zM73.4 293.3h0.7v0.7h-0.7zM73.4 297.5h0.7v0.7h-0.7zM78.3 287.0h0.7v0.7h-0.7zM77.3 280.9h0.7v0.7h-0.7zM73.9 286.4h0.7v0.7h-0.7zM72.8 286.9h0.7v0.7h-0.7zM76.2 286.6h0.7v0.7h-0.7zM74.4 283.4h0.7v0.7h-0.7zM71.2 294.0h0.7v0.7h-0.7zM75.6 298.0h0.7v0.7h-0.7zM73.5 287.6h0.7v0.7h-0.7zM78.7 299.2h0.7v0.7h-0.7zM79.6 295.9h0.7v0.7h-0.7zM72.9 293.8h0.7v0.7h-0.7zM82.1 277.5h0.7v0.7h-0.7zM77.8 304.1h0.7v0.7h-0.7zM73.7 292.2h0.7v0.7h-0.7zM82.4 294.0h0.7v0.7h-0.7zM77.3 295.8h0.7v0.7h-0.7zM76.3 295.1h0.7v0.7h-0.7zM76.4 295.8h0.7v0.7h-0.7zM74.4 289.8h0.7v0.7h-0.7zM77.3 277.1h0.7v0.7h-0.7zM79.5 288.6h0.7v0.7h-0.7zM75.1 282.1h0.7v0.7h-0.7zM76.6 285.0h0.7v0.7h-0.7zM78.7 300.5h0.7v0.7h-0.7zM75.6 286.4h0.7v0.7h-0.7zM76.5 289.1h0.7v0.7h-0.7zM78.3 278.5h0.7v0.7h-0.7zM78.4 290.5h0.7v0.7h-0.7zM75.2 281.2h0.7v0.7h-0.7zM79.4 297.4h0.7v0.7h-0.7zM77.7 294.9h0.7v0.7h-0.7zM79.2 291.9h0.7v0.7h-0.7zM79.2 284.5h0.7v0.7h-0.7zM79.2 275.8h0.7v0.7h-0.7zM80.1 300.5h0.7v0.7h-0.7zM80.2 285.7h0.7v0.7h-0.7zM76.1 294.2h0.7v0.7h-0.7zM74.5 293.2h0.7v0.7h-0.7zM76.7 300.0h0.7v0.7h-0.7zM75.6 287.5h0.7v0.7h-0.7zM78.5 297.2h0.7v0.7h-0.7zM76.0 282.4h0.7v0.7h-0.7zM73.2 281.1h0.7v0.7h-0.7zM77.1 284.5h0.7v0.7h-0.7zM76.9 282.1h0.7v0.7h-0.7zM76.1 294.1h0.7v0.7h-0.7zM73.8 297.6h0.7v0.7h-0.7zM77.0 285.9h0.7v0.7h-0.7zM75.9 290.4h0.7v0.7h-0.7zM74.5 287.2h0.7v0.7h-0.7zM77.6 279.2h0.7v0.7h-0.7zM83.9 296.0h0.7v0.7h-0.7zM80.4 304.6h0.7v0.7h-0.7zM79.0 290.6h0.7v0.7h-0.7zM76.6 294.2h0.7v0.7h-0.7zM81.0 285.6h0.7v0.7h-0.7zM82.0 288.7h0.7v0.7h-0.7zM73.9 299.0h0.7v0.7h-0.7zM75.5 295.2h0.7v0.7h-0.7zM73.1 295.2h0.7v0.7h-0.7zM75.5 298.0h0.7v0.7h-0.7zM72.5 286.6h0.7v0.7h-0.7zM74.1 292.2h0.7v0.7h-0.7zM74.1 288.7h0.7v0.7h-0.7zM76.8 288.2h0.7v0.7h-0.7zM77.3 292.5h0.7v0.7h-0.7zM72.4 297.1h0.7v0.7h-0.7zM73.8 286.0h0.7v0.7h-0.7zM81.8 286.6h0.7v0.7h-0.7zM76.5 295.1h0.7v0.7h-0.7zM75.0 290.0h0.7v0.7h-0.7zM76.1 289.6h0.7v0.7h-0.7zM73.5 297.1h0.7v0.7h-0.7zM77.0 294.4h0.7v0.7h-0.7zM77.0 287.1h0.7v0.7h-0.7zM80.1 286.2h0.7v0.7h-0.7zM79.6 286.2h0.7v0.7h-0.7zM74.8 291.3h0.7v0.7h-0.7zM83.5 296.3h0.7v0.7h-0.7zM77.2 293.4h0.7v0.7h-0.7zM80.2 287.9h0.7v0.7h-0.7zM71.5 284.4h0.7v0.7h-0.7zM76.8 286.4h0.7v0.7h-0.7zM76.2 299.6h0.7v0.7h-0.7zM76.2 287.1h0.7v0.7h-0.7zM77.0 298.2h0.7v0.7h-0.7zM81.7 295.0h0.7v0.7h-0.7zM76.1 288.1h0.7v0.7h-0.7zM73.7 287.1h0.7v0.7h-0.7zM79.5 294.4h0.7v0.7h-0.7zM77.8 284.6h0.7v0.7h-0.7zM76.7 286.7h0.7v0.7h-0.7zM81.2 290.9h0.7v0.7h-0.7zM76.6 290.7h0.7v0.7h-0.7zM76.9 291.3h0.7v0.7h-0.7zM75.4 292.4h0.7v0.7h-0.7zM77.1 296.1h0.7v0.7h-0.7zM78.4 294.9h0.7v0.7h-0.7zM75.5 290.9h0.7v0.7h-0.7zM70.7 285.6h0.7v0.7h-0.7zM75.7 276.3h0.7v0.7h-0.7zM80.2 296.6h0.7v0.7h-0.7zM77.4 305.0h0.7v0.7h-0.7zM72.5 291.3h0.7v0.7h-0.7zM77.2 287.8h0.7v0.7h-0.7zM81.1 297.5h0.7v0.7h-0.7zM78.3 285.2h0.7v0.7h-0.7zM77.6 291.2h0.7v0.7h-0.7zM78.4 282.2h0.7v0.7h-0.7zM74.0 297.4h0.7v0.7h-0.7zM77.1 290.3h0.7v0.7h-0.7zM76.8 274.4h0.7v0.7h-0.7zM81.0 281.9h0.7v0.7h-0.7zM73.4 294.0h0.7v0.7h-0.7zM80.7 298.0h0.7v0.7h-0.7zM75.5 285.8h0.7v0.7h-0.7zM78.7 292.2h0.7v0.7h-0.7zM71.9 298.8h0.7v0.7h-0.7zM71.5 293.1h0.7v0.7h-0.7zM77.8 295.2h0.7v0.7h-0.7zM77.2 295.9h0.7v0.7h-0.7zM77.8 285.5h0.7v0.7h-0.7zM75.2 299.2h0.7v0.7h-0.7zM71.6 295.1h0.7v0.7h-0.7zM75.2 280.3h0.7v0.7h-0.7zM74.5 293.7h0.7v0.7h-0.7zM69.1 296.3h0.7v0.7h-0.7zM80.4 288.3h0.7v0.7h-0.7zM75.9 291.1h0.7v0.7h-0.7zM79.4 284.6h0.7v0.7h-0.7zM75.6 292.9h0.7v0.7h-0.7zM72.7 292.7h0.7v0.7h-0.7zM76.7 295.7h0.7v0.7h-0.7zM73.7 290.5h0.7v0.7h-0.7zM78.0 291.1h0.7v0.7h-0.7zM73.9 297.7h0.7v0.7h-0.7zM76.6 291.7h0.7v0.7h-0.7zM77.1 295.0h0.7v0.7h-0.7zM77.2 286.7h0.7v0.7h-0.7zM79.3 290.4h0.7v0.7h-0.7zM77.2 292.1h0.7v0.7h-0.7zM73.6 291.4h0.7v0.7h-0.7zM77.8 282.3h0.7v0.7h-0.7zM76.1 290.5h0.7v0.7h-0.7zM78.9 289.0h0.7v0.7h-0.7zM77.2 294.7h0.7v0.7h-0.7zM73.5 286.4h0.7v0.7h-0.7zM76.1 295.2h0.7v0.7h-0.7zM80.7 291.6h0.7v0.7h-0.7zM76.7 288.1h0.7v0.7h-0.7zM77.3 301.0h0.7v0.7h-0.7zM76.6 287.8h0.7v0.7h-0.7zM81.4 290.3h0.7v0.7h-0.7zM76.5 285.8h0.7v0.7h-0.7zM80.0 289.6h0.7v0.7h-0.7zM71.8 278.1h0.7v0.7h-0.7zM77.9 287.8h0.7v0.7h-0.7zM78.3 294.0h0.7v0.7h-0.7zM81.3 299.5h0.7v0.7h-0.7zM73.9 289.2h0.7v0.7h-0.7zM74.8 296.2h0.7v0.7h-0.7zM72.8 294.7h0.7v0.7h-0.7zM72.1 297.1h0.7v0.7h-0.7zM80.2 281.1h0.7v0.7h-0.7zM77.0 287.3h0.7v0.7h-0.7zM72.3 296.4h0.7v0.7h-0.7zM74.7 297.1h0.7v0.7h-0.7zM78.3 301.9h0.7v0.7h-0.7zM75.7 295.9h0.7v0.7h-0.7zM77.5 288.6h0.7v0.7h-0.7zM79.9 291.3h0.7v0.7h-0.7zM75.7 292.0h0.7v0.7h-0.7zM73.3 297.4h0.7v0.7h-0.7zM81.7 281.9h0.7v0.7h-0.7zM77.3 288.7h0.7v0.7h-0.7zM75.0 295.9h0.7v0.7h-0.7zM81.8 292.8h0.7v0.7h-0.7zM76.1 301.3h0.7v0.7h-0.7zM76.0 286.8h0.7v0.7h-0.7zM75.3 296.5h0.7v0.7h-0.7z"/>
<path fill="#4a66dc" d="M48.2 307.1h0.7v0.7h-0.7zM62.3 307.4h0.7v0.7h-0.7zM59.0 308.3h0.7v0.7h-0.7zM54.2 322.8h0.7v0.7h-0.7zM49.3 307.2h0.7v0.7h-0.7zM61.1 306.2h0.7v0.7h-0.7zM46.7 291.2h0.7v0.7h-0.7zM64.9 292.6h0.7v0.7h-0.7zM54.1 308.9h0.7v0.7h-0.7zM54.6 283.6h0.7v0.7h-0.7zM40.8 301.8h0.7v0.7h-0.7zM48.6 300.1h0.7v0.7h-0.7zM54.6 304.8h0.7v0.7h-0.7zM44.7 284.6h0.7v0.7h-0.7zM60.5 296.1h0.7v0.7h-0.7zM45.9 281.2h0.7v0.7h-0.7zM57.7 289.2h0.7v0.7h-0.7zM46.7 309.8h0.7v0.7h-0.7zM56.1 309.1h0.7v0.7h-0.7zM47.1 299.7h0.7v0.7h-0.7zM49.4 312.7h0.7v0.7h-0.7zM56.5 291.6h0.7v0.7h-0.7zM57.9 301.4h0.7v0.7h-0.7zM50.6 315.3h0.7v0.7h-0.7zM42.4 314.3h0.7v0.7h-0.7zM61.6 280.5h0.7v0.7h-0.7zM52.7 301.2h0.7v0.7h-0.7zM46.1 296.7h0.7v0.7h-0.7zM48.3 303.7h0.7v0.7h-0.7zM50.1 279.6h0.7v0.7h-0.7zM62.3 312.8h0.7v0.7h-0.7zM48.2 312.6h0.7v0.7h-0.7zM68.1 286.0h0.7v0.7h-0.7zM51.1 297.3h0.7v0.7h-0.7zM57.9 299.7h0.7v0.7h-0.7zM44.2 316.8h0.7v0.7h-0.7zM51.8 311.0h0.7v0.7h-0.7zM70.0 294.8h0.7v0.7h-0.7zM51.1 313.0h0.7v0.7h-0.7zM53.3 308.7h0.7v0.7h-0.7zM58.4 306.8h0.7v0.7h-0.7zM54.9 307.3h0.7v0.7h-0.7zM42.6 300.0h0.7v0.7h-0.7zM59.2 289.8h0.7v0.7h-0.7zM54.3 302.0h0.7v0.7h-0.7zM59.0 306.7h0.7v0.7h-0.7zM48.5 303.9h0.7v0.7h-0.7zM51.9 302.0h0.7v0.7h-0.7zM63.4 321.8h0.7v0.7h-0.7zM49.4 288.9h0.7v0.7h-0.7zM55.5 305.9h0.7v0.7h-0.7zM54.3 296.2h0.7v0.7h-0.7zM58.8 322.0h0.7v0.7h-0.7zM55.6 300.5h0.7v0.7h-0.7zM62.4 299.7h0.7v0.7h-0.7zM51.5 306.5h0.7v0.7h-0.7zM38.0 323.8h0.7v0.7h-0.7zM53.3 308.7h0.7v0.7h-0.7zM56.2 307.5h0.7v0.7h-0.7zM44.7 322.5h0.7v0.7h-0.7zM58.0 306.3h0.7v0.7h-0.7zM76.1 289.1h0.7v0.7h-0.7zM59.2 302.0h0.7v0.7h-0.7zM43.5 324.4h0.7v0.7h-0.7zM43.1 304.6h0.7v0.7h-0.7zM53.4 305.1h0.7v0.7h-0.7zM47.4 318.1h0.7v0.7h-0.7zM55.8 289.0h0.7v0.7h-0.7zM45.5 306.1h0.7v0.7h-0.7zM45.9 307.8h0.7v0.7h-0.7zM56.3 296.6h0.7v0.7h-0.7zM40.5 288.7h0.7v0.7h-0.7zM56.6 297.4h0.7v0.7h-0.7zM67.1 298.2h0.7v0.7h-0.7zM56.7 310.5h0.7v0.7h-0.7zM54.7 306.5h0.7v0.7h-0.7zM61.1 301.5h0.7v0.7h-0.7zM56.4 299.1h0.7v0.7h-0.7zM68.1 304.9h0.7v0.7h-0.7zM50.6 290.7h0.7v0.7h-0.7zM54.3 298.2h0.7v0.7h-0.7zM46.7 300.0h0.7v0.7h-0.7zM59.7 314.8h0.7v0.7h-0.7zM50.3 314.7h0.7v0.7h-0.7zM49.7 309.9h0.7v0.7h-0.7zM48.0 314.6h0.7v0.7h-0.7zM70.3 299.8h0.7v0.7h-0.7zM62.6 287.1h0.7v0.7h-0.7zM53.6 308.6h0.7v0.7h-0.7zM42.6 302.9h0.7v0.7h-0.7zM48.5 316.3h0.7v0.7h-0.7zM46.4 306.7h0.7v0.7h-0.7zM40.0 298.6h0.7v0.7h-0.7zM62.6 301.9h0.7v0.7h-0.7zM44.9 308.5h0.7v0.7h-0.7zM60.7 307.9h0.7v0.7h-0.7zM61.0 287.4h0.7v0.7h-0.7zM66.8 310.9h0.7v0.7h-0.7zM39.3 323.7h0.7v0.7h-0.7zM50.7 308.7h0.7v0.7h-0.7zM40.1 296.1h0.7v0.7h-0.7zM41.2 312.3h0.7v0.7h-0.7zM52.4 292.9h0.7v0.7h-0.7zM51.4 315.4h0.7v0.7h-0.7zM48.6 309.3h0.7v0.7h-0.7zM45.7 284.7h0.7v0.7h-0.7zM50.6 299.9h0.7v0.7h-0.7zM55.3 313.4h0.7v0.7h-0.7zM51.1 299.0h0.7v0.7h-0.7zM59.4 307.7h0.7v0.7h-0.7zM53.6 305.6h0.7v0.7h-0.7zM38.7 297.0h0.7v0.7h-0.7zM42.8 299.1h0.7v0.7h-0.7zM60.3 284.5h0.7v0.7h-0.7zM60.5 296.8h0.7v0.7h-0.7zM52.5 297.9h0.7v0.7h-0.7zM59.0 295.7h0.7v0.7h-0.7zM39.5 306.6h0.7v0.7h-0.7zM53.0 309.9h0.7v0.7h-0.7zM58.2 289.7h0.7v0.7h-0.7zM55.4 304.3h0.7v0.7h-0.7zM53.5 304.1h0.7v0.7h-0.7zM56.2 296.9h0.7v0.7h-0.7zM52.9 313.8h0.7v0.7h-0.7zM46.6 302.1h0.7v0.7h-0.7zM46.9 291.3h0.7v0.7h-0.7zM51.1 304.9h0.7v0.7h-0.7zM64.6 300.8h0.7v0.7h-0.7zM60.5 309.0h0.7v0.7h-0.7zM54.9 303.6h0.7v0.7h-0.7zM46.7 304.4h0.7v0.7h-0.7zM64.3 290.3h0.7v0.7h-0.7zM50.4 313.0h0.7v0.7h-0.7zM41.4 291.6h0.7v0.7h-0.7zM56.1 313.5h0.7v0.7h-0.7zM62.5 311.3h0.7v0.7h-0.7zM70.1 307.3h0.7v0.7h-0.7zM45.0 300.9h0.7v0.7h-0.7zM58.4 307.1h0.7v0.7h-0.7zM40.5 307.2h0.7v0.7h-0.7zM48.4 300.8h0.7v0.7h-0.7zM64.2 301.2h0.7v0.7h-0.7zM49.4 301.7h0.7v0.7h-0.7zM49.5 325.5h0.7v0.7h-0.7zM59.8 313.0h0.7v0.7h-0.7zM49.2 296.0h0.7v0.7h-0.7zM55.8 279.0h0.7v0.7h-0.7zM61.2 289.0h0.7v0.7h-0.7zM54.7 306.7h0.7v0.7h-0.7zM48.5 306.9h0.7v0.7h-0.7zM58.9 323.9h0.7v0.7h-0.7zM56.8 323.0h0.7v0.7h-0.7zM57.3 300.9h0.7v0.7h-0.7zM60.0 297.3h0.7v0.7h-0.7zM55.1 309.9h0.7v0.7h-0.7zM62.0 306.0h0.7v0.7h-0.7zM43.8 317.3h0.7v0.7h-0.7zM55.2 299.7h0.7v0.7h-0.7zM48.3 309.3h0.7v0.7h-0.7zM56.3 310.5h0.7v0.7h-0.7zM53.1 319.9h0.7v0.7h-0.7zM52.2 307.5h0.7v0.7h-0.7zM55.4 314.7h0.7v0.7h-0.7zM49.2 299.7h0.7v0.7h-0.7zM52.5 295.7h0.7v0.7h-0.7zM49.4 289.7h0.7v0.7h-0.7zM59.2 319.4h0.7v0.7h-0.7zM47.1 311.4h0.7v0.7h-0.7zM46.0 294.1h0.7v0.7h-0.7zM51.8 304.3h0.7v0.7h-0.7zM57.2 281.8h0.7v0.7h-0.7zM44.8 303.9h0.7v0.7h-0.7zM52.3 326.4h0.7v0.7h-0.7zM52.0 295.8h0.7v0.7h-0.7zM62.4 273.7h0.7v0.7h-0.7zM49.6 303.7h0.7v0.7h-0.7zM52.7 293.2h0.7v0.7h-0.7zM53.0 288.5h0.7v0.7h-0.7zM60.7 311.4h0.7v0.7h-0.7zM58.7 292.9h0.7v0.7h-0.7zM40.5 297.6h0.7v0.7h-0.7zM46.3 307.2h0.7v0.7h-0.7zM42.7 292.8h0.7v0.7h-0.7zM54.9 307.7h0.7v0.7h-0.7zM54.6 289.1h0.7v0.7h-0.7zM49.2 325.0h0.7v0.7h-0.7zM60.5 293.9h0.7v0.7h-0.7zM67.3 301.5h0.7v0.7h-0.7zM53.9 293.9h0.7v0.7h-0.7zM64.5 304.1h0.7v0.7h-0.7zM53.4 292.8h0.7v0.7h-0.7zM45.0 304.9h0.7v0.7h-0.7zM54.0 320.0h0.7v0.7h-0.7zM47.6 298.8h0.7v0.7h-0.7zM60.9 311.9h0.7v0.7h-0.7zM49.2 319.0h0.7v0.7h-0.7zM57.3 312.7h0.7v0.7h-0.7zM56.4 313.6h0.7v0.7h-0.7zM51.0 300.6h0.7v0.7h-0.7zM61.6 307.3h0.7v0.7h-0.7zM56.5 315.4h0.7v0.7h-0.7zM55.6 307.4h0.7v0.7h-0.7zM38.6 297.2h0.7v0.7h-0.7zM59.7 293.3h0.7v0.7h-0.7zM51.9 305.4h0.7v0.7h-0.7zM53.0 312.4h0.7v0.7h-0.7zM57.3 301.0h0.7v0.7h-0.7zM61.5 299.0h0.7v0.7h-0.7zM49.0 306.5h0.7v0.7h-0.7zM58.4 301.4h0.7v0.7h-0.7zM46.5 297.3h0.7v0.7h-0.7zM55.6 310.4h0.7v0.7h-0.7zM66.3 301.2h0.7v0.7h-0.7zM52.4 279.4h0.7v0.7h-0.7zM62.9 313.0h0.7v0.7h-0.7zM54.0 295.1h0.7v0.7h-0.7zM48.5 319.5h0.7v0.7h-0.7zM59.3 317.1h0.7v0.7h-0.7zM53.0 316.0h0.7v0.7h-0.7zM44.2 319.0h0.7v0.7h-0.7zM53.7 290.0h0.7v0.7h-0.7zM51.2 292.3h0.7v0.7h-0.7zM55.8 295.0h0.7v0.7h-0.7zM45.1 299.0h0.7v0.7h-0.7zM52.4 305.2h0.7v0.7h-0.7zM58.8 316.8h0.7v0.7h-0.7zM56.8 321.0h0.7v0.7h-0.7zM60.5 288.5h0.7v0.7h-0.7zM52.5 305.4h0.7v0.7h-0.7zM43.1 296.7h0.7v0.7h-0.7zM58.1 299.5h0.7v0.7h-0.7zM53.5 290.4h0.7v0.7h-0.7zM53.7 296.8h0.7v0.7h-0.7zM44.0 298.5h0.7v0.7h-0.7zM50.7 299.0h0.7v0.7h-0.7zM60.4 314.7h0.7v0.7h-0.7zM56.9 299.0h0.7v0.7h-0.7zM56.9 303.2h0.7v0.7h-0.7zM55.5 292.3h0.7v0.7h-0.7zM49.8 297.5h0.7v0.7h-0.7zM53.9 302.3h0.7v0.7h-0.7zM51.9 319.7h0.7v0.7h-0.7zM54.9 305.5h0.7v0.7h-0.7zM47.8 301.9h0.7v0.7h-0.7zM57.2 302.1h0.7v0.7h-0.7zM56.2 292.7h0.7v0.7h-0.7zM56.6 291.8h0.7v0.7h-0.7zM50.9 294.5h0.7v0.7h-0.7zM55.2 314.9h0.7v0.7h-0.7zM56.0 293.4h0.7v0.7h-0.7zM54.9 314.3h0.7v0.7h-0.7zM59.0 308.4h0.7v0.7h-0.7zM46.1 296.9h0.7v0.7h-0.7zM49.3 297.8h0.7v0.7h-0.7zM55.6 303.4h0.7v0.7h-0.7zM51.5 309.2h0.7v0.7h-0.7zM49.0 299.4h0.7v0.7h-0.7zM54.7 288.1h0.7v0.7h-0.7zM48.0 287.7h0.7v0.7h-0.7zM46.7 301.4h0.7v0.7h-0.7zM53.1 306.7h0.7v0.7h-0.7zM56.3 290.5h0.7v0.7h-0.7zM67.0 317.7h0.7v0.7h-0.7zM45.5 295.4h0.7v0.7h-0.7zM50.6 305.1h0.7v0.7h-0.7zM58.2 303.0h0.7v0.7h-0.7zM59.9 312.0h0.7v0.7h-0.7zM48.8 304.1h0.7v0.7h-0.7zM60.4 297.8h0.7v0.7h-0.7zM61.9 303.9h0.7v0.7h-0.7zM65.0 303.5h0.7v0.7h-0.7zM64.3 285.5h0.7v0.7h-0.7zM64.0 307.9h0.7v0.7h-0.7zM51.3 314.7h0.7v0.7h-0.7zM52.1 311.9h0.7v0.7h-0.7zM60.6 314.4h0.7v0.7h-0.7zM69.3 318.0h0.7v0.7h-0.7zM71.4 310.7h0.7v0.7h-0.7zM55.0 307.3h0.7v0.7h-0.7zM53.7 289.5h0.7v0.7h-0.7zM55.0 290.0h0.7v0.7h-0.7zM52.0 299.7h0.7v0.7h-0.7zM50.1 291.3h0.7v0.7h-0.7zM54.8 302.7h0.7v0.7h-0.7zM63.6 309.9h0.7v0.7h-0.7zM50.7 285.9h0.7v0.7h-0.7zM55.2 288.3h0.7v0.7h-0.7zM61.1 292.6h0.7v0.7h-0.7zM49.6 283.4h0.7v0.7h-0.7zM43.7 287.0h0.7v0.7h-0.7zM59.0 285.2h0.7v0.7h-0.7zM67.4 282.3h0.7v0.7h-0.7zM43.5 294.5h0.7v0.7h-0.7zM60.5 282.3h0.7v0.7h-0.7zM72.7 286.7h0.7v0.7h-0.7zM49.2 287.4h0.7v0.7h-0.7zM72.9 289.0h0.7v0.7h-0.7zM59.4 292.8h0.7v0.7h-0.7zM50.2 285.4h0.7v0.7h-0.7zM66.0 282.1h0.7v0.7h-0.7zM68.4 287.6h0.7v0.7h-0.7zM72.0 287.4h0.7v0.7h-0.7zM83.9 280.8h0.7v0.7h-0.7zM56.0 284.1h0.7v0.7h-0.7zM60.5 288.7h0.7v0.7h-0.7zM48.1 290.1h0.7v0.7h-0.7zM73.8 286.6h0.7v0.7h-0.7zM44.2 288.7h0.7v0.7h-0.7zM65.6 282.4h0.7v0.7h-0.7zM52.4 284.1h0.7v0.7h-0.7zM43.7 287.6h0.7v0.7h-0.7zM73.6 287.6h0.7v0.7h-0.7zM52.4 286.0h0.7v0.7h-0.7zM60.2 293.5h0.7v0.7h-0.7zM55.4 288.1h0.7v0.7h-0.7zM56.9 290.7h0.7v0.7h-0.7zM51.0 288.2h0.7v0.7h-0.7zM56.3 288.5h0.7v0.7h-0.7zM43.8 285.8h0.7v0.7h-0.7zM73.6 288.8h0.7v0.7h-0.7zM48.2 296.4h0.7v0.7h-0.7zM65.9 285.2h0.7v0.7h-0.7zM56.3 282.5h0.7v0.7h-0.7zM78.8 291.3h0.7v0.7h-0.7zM77.7 282.2h0.7v0.7h-0.7zM38.3 277.6h0.7v0.7h-0.7zM43.1 283.9h0.7v0.7h-0.7zM46.4 279.5h0.7v0.7h-0.7zM66.3 283.3h0.7v0.7h-0.7zM63.9 290.9h0.7v0.7h-0.7zM50.5 284.0h0.7v0.7h-0.7zM74.9 280.0h0.7v0.7h-0.7zM54.3 281.4h0.7v0.7h-0.7zM57.3 283.5h0.7v0.7h-0.7zM62.2 284.0h0.7v0.7h-0.7zM73.8 282.8h0.7v0.7h-0.7zM58.7 288.6h0.7v0.7h-0.7zM49.1 283.4h0.7v0.7h-0.7zM58.2 284.3h0.7v0.7h-0.7zM69.0 283.0h0.7v0.7h-0.7zM41.7 288.4h0.7v0.7h-0.7zM49.8 283.3h0.7v0.7h-0.7zM56.4 290.3h0.7v0.7h-0.7zM69.0 286.6h0.7v0.7h-0.7zM62.8 284.2h0.7v0.7h-0.7zM80.0 290.0h0.7v0.7h-0.7zM49.7 289.5h0.7v0.7h-0.7zM43.7 282.7h0.7v0.7h-0.7zM51.4 292.2h0.7v0.7h-0.7zM83.3 286.0h0.7v0.7h-0.7zM53.8 291.2h0.7v0.7h-0.7zM53.4 292.3h0.7v0.7h-0.7zM48.4 289.8h0.7v0.7h-0.7zM50.2 292.8h0.7v0.7h-0.7zM61.4 283.4h0.7v0.7h-0.7zM61.1 276.4h0.7v0.7h-0.7zM60.6 288.6h0.7v0.7h-0.7zM88.0 281.7h0.7v0.7h-0.7zM74.2 291.0h0.7v0.7h-0.7zM68.5 284.7h0.7v0.7h-0.7zM61.9 282.7h0.7v0.7h-0.7zM63.3 281.4h0.7v0.7h-0.7zM53.9 286.4h0.7v0.7h-0.7zM49.3 280.9h0.7v0.7h-0.7zM59.1 287.2h0.7v0.7h-0.7zM67.8 287.7h0.7v0.7h-0.7zM79.8 285.9h0.7v0.7h-0.7zM75.9 282.0h0.7v0.7h-0.7zM67.9 288.9h0.7v0.7h-0.7zM82.3 283.6h0.7v0.7h-0.7zM82.2 285.6h0.7v0.7h-0.7zM55.0 279.4h0.7v0.7h-0.7zM70.9 283.8h0.7v0.7h-0.7zM70.2 286.7h0.7v0.7h-0.7zM69.5 286.3h0.7v0.7h-0.7zM51.9 284.3h0.7v0.7h-0.7zM60.1 287.8h0.7v0.7h-0.7zM50.9 289.7h0.7v0.7h-0.7zM68.3 287.3h0.7v0.7h-0.7zM84.5 290.3h0.7v0.7h-0.7zM48.1 281.7h0.7v0.7h-0.7zM60.3 285.7h0.7v0.7h-0.7zM68.9 283.9h0.7v0.7h-0.7zM51.6 283.1h0.7v0.7h-0.7zM59.7 282.6h0.7v0.7h-0.7zM58.4 289.0h0.7v0.7h-0.7zM57.9 281.6h0.7v0.7h-0.7zM66.3 289.1h0.7v0.7h-0.7zM49.5 284.4h0.7v0.7h-0.7zM40.7 281.8h0.7v0.7h-0.7zM46.3 280.5h0.7v0.7h-0.7zM52.0 293.6h0.7v0.7h-0.7zM73.7 284.2h0.7v0.7h-0.7zM65.0 286.2h0.7v0.7h-0.7zM61.1 278.0h0.7v0.7h-0.7zM57.7 281.3h0.7v0.7h-0.7zM54.2 285.5h0.7v0.7h-0.7zM64.5 291.3h0.7v0.7h-0.7zM70.3 281.3h0.7v0.7h-0.7zM54.8 288.4h0.7v0.7h-0.7zM57.0 276.9h0.7v0.7h-0.7zM68.7 283.2h0.7v0.7h-0.7zM59.3 278.7h0.7v0.7h-0.7zM45.7 290.7h0.7v0.7h-0.7zM53.9 287.8h0.7v0.7h-0.7zM79.3 286.0h0.7v0.7h-0.7zM60.1 284.8h0.7v0.7h-0.7zM69.7 287.3h0.7v0.7h-0.7zM65.0 292.3h0.7v0.7h-0.7zM65.9 290.9h0.7v0.7h-0.7zM49.4 284.8h0.7v0.7h-0.7zM67.9 282.6h0.7v0.7h-0.7zM42.3 285.6h0.7v0.7h-0.7zM53.6 287.4h0.7v0.7h-0.7zM79.2 284.1h0.7v0.7h-0.7zM46.5 284.7h0.7v0.7h-0.7zM52.6 283.8h0.7v0.7h-0.7zM73.5 288.2h0.7v0.7h-0.7zM64.4 284.9h0.7v0.7h-0.7zM71.5 285.5h0.7v0.7h-0.7zM80.6 285.9h0.7v0.7h-0.7zM58.8 288.7h0.7v0.7h-0.7zM85.6 278.8h0.7v0.7h-0.7zM65.4 281.0h0.7v0.7h-0.7zM39.8 284.1h0.7v0.7h-0.7zM70.0 279.2h0.7v0.7h-0.7zM54.6 293.3h0.7v0.7h-0.7zM75.0 284.5h0.7v0.7h-0.7zM67.7 286.2h0.7v0.7h-0.7zM52.6 282.6h0.7v0.7h-0.7zM74.9 283.2h0.7v0.7h-0.7zM57.9 283.8h0.7v0.7h-0.7zM41.3 285.0h0.7v0.7h-0.7zM82.4 281.7h0.7v0.7h-0.7zM58.8 290.7h0.7v0.7h-0.7zM65.2 285.8h0.7v0.7h-0.7zM66.9 287.1h0.7v0.7h-0.7zM58.8 282.5h0.7v0.7h-0.7zM54.1 278.8h0.7v0.7h-0.7zM61.2 284.9h0.7v0.7h-0.7zM51.9 279.4h0.7v0.7h-0.7zM53.0 278.4h0.7v0.7h-0.7zM66.8 281.0h0.7v0.7h-0.7zM70.0 282.3h0.7v0.7h-0.7zM67.6 288.1h0.7v0.7h-0.7zM69.9 284.5h0.7v0.7h-0.7zM51.6 279.5h0.7v0.7h-0.7zM46.0 286.9h0.7v0.7h-0.7zM67.1 287.2h0.7v0.7h-0.7zM68.1 290.2h0.7v0.7h-0.7zM55.4 285.7h0.7v0.7h-0.7zM56.3 284.6h0.7v0.7h-0.7zM57.9 286.6h0.7v0.7h-0.7zM53.4 286.3h0.7v0.7h-0.7zM70.6 284.6h0.7v0.7h-0.7zM66.2 282.2h0.7v0.7h-0.7zM49.3 292.8h0.7v0.7h-0.7zM57.8 290.8h0.7v0.7h-0.7zM58.9 284.8h0.7v0.7h-0.7zM67.0 283.0h0.7v0.7h-0.7zM66.6 288.3h0.7v0.7h-0.7zM60.3 283.5h0.7v0.7h-0.7zM67.3 284.0h0.7v0.7h-0.7zM53.1 280.3h0.7v0.7h-0.7zM60.7 290.8h0.7v0.7h-0.7zM53.4 283.7h0.7v0.7h-0.7zM43.5 284.9h0.7v0.7h-0.7zM69.5 285.1h0.7v0.7h-0.7zM66.6 290.2h0.7v0.7h-0.7zM48.6 283.4h0.7v0.7h-0.7zM66.9 284.6h0.7v0.7h-0.7zM46.5 285.8h0.7v0.7h-0.7zM64.2 290.2h0.7v0.7h-0.7zM48.9 287.1h0.7v0.7h-0.7zM65.1 274.4h0.7v0.7h-0.7zM68.3 285.5h0.7v0.7h-0.7zM39.7 293.0h0.7v0.7h-0.7zM64.5 286.9h0.7v0.7h-0.7zM88.0 290.0h0.7v0.7h-0.7zM47.2 285.9h0.7v0.7h-0.7zM44.7 286.8h0.7v0.7h-0.7zM48.7 286.2h0.7v0.7h-0.7zM42.5 294.1h0.7v0.7h-0.7zM48.0 285.3h0.7v0.7h-0.7zM44.0 279.7h0.7v0.7h-0.7zM47.2 280.0h0.7v0.7h-0.7zM50.5 277.5h0.7v0.7h-0.7zM47.6 280.9h0.7v0.7h-0.7zM42.0 287.9h0.7v0.7h-0.7zM45.4 288.0h0.7v0.7h-0.7zM41.8 284.5h0.7v0.7h-0.7zM44.0 286.1h0.7v0.7h-0.7zM47.7 284.6h0.7v0.7h-0.7zM42.2 285.5h0.7v0.7h-0.7zM40.1 282.6h0.7v0.7h-0.7zM48.8 282.9h0.7v0.7h-0.7zM47.6 283.5h0.7v0.7h-0.7zM42.3 285.6h0.7v0.7h-0.7zM46.5 284.5h0.7v0.7h-0.7zM45.8 291.8h0.7v0.7h-0.7zM45.1 286.5h0.7v0.7h-0.7zM42.7 288.3h0.7v0.7h-0.7zM42.9 285.8h0.7v0.7h-0.7zM43.6 287.7h0.7v0.7h-0.7zM46.6 289.2h0.7v0.7h-0.7zM45.3 287.6h0.7v0.7h-0.7zM50.7 281.4h0.7v0.7h-0.7zM42.3 288.4h0.7v0.7h-0.7zM45.5 285.5h0.7v0.7h-0.7zM47.9 287.1h0.7v0.7h-0.7zM45.1 284.4h0.7v0.7h-0.7zM43.0 283.4h0.7v0.7h-0.7zM45.1 277.6h0.7v0.7h-0.7zM48.9 280.3h0.7v0.7h-0.7zM48.7 288.1h0.7v0.7h-0.7zM42.6 283.8h0.7v0.7h-0.7zM46.0 289.3h0.7v0.7h-0.7zM42.3 286.9h0.7v0.7h-0.7zM47.1 284.2h0.7v0.7h-0.7zM46.0 283.2h0.7v0.7h-0.7zM43.8 281.0h0.7v0.7h-0.7zM42.3 287.8h0.7v0.7h-0.7zM46.4 287.1h0.7v0.7h-0.7zM43.3 286.4h0.7v0.7h-0.7zM47.6 279.9h0.7v0.7h-0.7zM41.8 280.5h0.7v0.7h-0.7zM45.2 285.5h0.7v0.7h-0.7zM50.5 289.0h0.7v0.7h-0.7zM43.7 288.5h0.7v0.7h-0.7zM41.5 278.8h0.7v0.7h-0.7zM41.9 287.0h0.7v0.7h-0.7zM43.6 287.3h0.7v0.7h-0.7zM50.4 280.2h0.7v0.7h-0.7zM43.5 285.9h0.7v0.7h-0.7zM47.3 281.8h0.7v0.7h-0.7zM44.9 280.8h0.7v0.7h-0.7zM49.3 288.2h0.7v0.7h-0.7zM50.6 290.8h0.7v0.7h-0.7zM46.3 288.2h0.7v0.7h-0.7zM47.1 285.1h0.7v0.7h-0.7zM44.2 283.6h0.7v0.7h-0.7zM45.8 285.9h0.7v0.7h-0.7zM48.6 285.4h0.7v0.7h-0.7zM45.8 291.6h0.7v0.7h-0.7zM43.5 280.7h0.7v0.7h-0.7zM52.1 280.4h0.7v0.7h-0.7zM43.2 291.5h0.7v0.7h-0.7zM44.3 282.6h0.7v0.7h-0.7zM45.2 284.0h0.7v0.7h-0.7zM42.0 277.3h0.7v0.7h-0.7zM42.3 280.0h0.7v0.7h-0.7zM43.3 281.5h0.7v0.7h-0.7zM47.2 287.5h0.7v0.7h-0.7zM42.9 291.8h0.7v0.7h-0.7zM50.8 277.8h0.7v0.7h-0.7zM41.8 292.3h0.7v0.7h-0.7zM45.5 284.5h0.7v0.7h-0.7zM43.7 284.5h0.7v0.7h-0.7z"/>
<path fill="#7f93e6" d="M76.3 305.1h0.7v0.7h-0.7zM72.2 306.7h0.7v0.7h-0.7zM75.7 318.1h0.7v0.7h-0.7zM75.7 295.8h0.7v0.7h-0.7zM86.1 306.1h0.7v0.7h-0.7zM75.8 307.7h0.7v0.7h-0.7zM76.2 286.6h0.7v0.7h-0.7zM75.7 314.0h0.7v0.7h-0.7zM81.5 297.7h0.7v0.7h-0.7zM74.0 307.8h0.7v0.7h-0.7zM88.5 306.9h0.7v0.7h-0.7zM77.4 299.3h0.7v0.7h-0.7zM73.6 299.9h0.7v0.7h-0.7zM75.9 296.2h0.7v0.7h-0.7zM73.5 294.7h0.7v0.7h-0.7zM82.8 309.1h0.7v0.7h-0.7zM75.0 302.0h0.7v0.7h-0.7zM80.6 305.4h0.7v0.7h-0.7zM73.1 282.4h0.7v0.7h-0.7zM64.8 309.2h0.7v0.7h-0.7zM74.8 297.8h0.7v0.7h-0.7zM65.1 309.2h0.7v0.7h-0.7zM68.9 305.0h0.7v0.7h-0.7zM75.4 299.5h0.7v0.7h-0.7zM69.0 306.4h0.7v0.7h-0.7zM67.6 298.9h0.7v0.7h-0.7zM75.1 313.0h0.7v0.7h-0.7zM73.3 304.9h0.7v0.7h-0.7zM79.5 284.3h0.7v0.7h-0.7zM70.3 301.0h0.7v0.7h-0.7zM71.5 310.4h0.7v0.7h-0.7zM72.7 308.6h0.7v0.7h-0.7zM81.4 301.6h0.7v0.7h-0.7zM78.0 315.4h0.7v0.7h-0.7zM81.6 304.2h0.7v0.7h-0.7zM65.7 298.5h0.7v0.7h-0.7zM75.4 306.5h0.7v0.7h-0.7zM76.9 303.8h0.7v0.7h-0.7zM69.7 308.7h0.7v0.7h-0.7zM81.6 303.4h0.7v0.7h-0.7zM76.3 310.5h0.7v0.7h-0.7zM73.6 307.2h0.7v0.7h-0.7zM81.8 298.3h0.7v0.7h-0.7zM75.5 297.6h0.7v0.7h-0.7zM69.4 288.7h0.7v0.7h-0.7zM77.8 323.8h0.7v0.7h-0.7zM73.9 316.4h0.7v0.7h-0.7zM82.3 300.8h0.7v0.7h-0.7zM81.5 300.6h0.7v0.7h-0.7zM63.4 311.0h0.7v0.7h-0.7zM74.4 302.4h0.7v0.7h-0.7zM80.4 312.0h0.7v0.7h-0.7zM74.9 306.3h0.7v0.7h-0.7zM78.1 297.5h0.7v0.7h-0.7zM80.7 299.7h0.7v0.7h-0.7zM78.6 311.7h0.7v0.7h-0.7zM82.0 288.6h0.7v0.7h-0.7zM71.8 301.7h0.7v0.7h-0.7zM71.4 302.9h0.7v0.7h-0.7zM75.5 304.7h0.7v0.7h-0.7zM89.8 306.1h0.7v0.7h-0.7zM76.5 298.1h0.7v0.7h-0.7zM74.7 302.5h0.7v0.7h-0.7zM79.9 294.3h0.7v0.7h-0.7zM74.8 295.7h0.7v0.7h-0.7zM65.9 309.9h0.7v0.7h-0.7zM75.0 306.9h0.7v0.7h-0.7zM86.0 315.8h0.7v0.7h-0.7zM75.6 306.9h0.7v0.7h-0.7zM73.1 302.3h0.7v0.7h-0.7zM66.7 310.1h0.7v0.7h-0.7zM76.6 312.3h0.7v0.7h-0.7zM87.0 297.3h0.7v0.7h-0.7zM77.1 302.4h0.7v0.7h-0.7zM83.6 302.3h0.7v0.7h-0.7zM86.3 322.9h0.7v0.7h-0.7zM88.4 320.2h0.7v0.7h-0.7zM78.4 304.6h0.7v0.7h-0.7zM67.9 305.9h0.7v0.7h-0.7zM66.5 296.5h0.7v0.7h-0.7zM83.5 312.1h0.7v0.7h-0.7zM69.6 322.0h0.7v0.7h-0.7zM69.5 295.3h0.7v0.7h-0.7zM85.0 317.1h0.7v0.7h-0.7zM75.0 309.3h0.7v0.7h-0.7zM66.8 310.7h0.7v0.7h-0.7zM73.0 312.1h0.7v0.7h-0.7zM72.4 300.3h0.7v0.7h-0.7zM80.5 309.5h0.7v0.7h-0.7zM73.9 292.3h0.7v0.7h-0.7zM78.1 315.4h0.7v0.7h-0.7zM80.8 293.3h0.7v0.7h-0.7zM76.7 306.1h0.7v0.7h-0.7zM85.4 302.9h0.7v0.7h-0.7zM74.6 317.0h0.7v0.7h-0.7zM68.6 298.5h0.7v0.7h-0.7zM70.4 313.2h0.7v0.7h-0.7zM71.6 309.3h0.7v0.7h-0.7zM71.6 315.7h0.7v0.7h-0.7zM79.2 298.9h0.7v0.7h-0.7zM80.1 306.8h0.7v0.7h-0.7zM76.2 296.5h0.7v0.7h-0.7zM87.5 305.0h0.7v0.7h-0.7zM73.9 305.2h0.7v0.7h-0.7zM75.9 294.5h0.7v0.7h-0.7zM82.6 291.6h0.7v0.7h-0.7zM81.5 289.2h0.7v0.7h-0.7zM67.9 313.7h0.7v0.7h-0.7zM67.3 304.4h0.7v0.7h-0.7zM77.7 315.0h0.7v0.7h-0.7zM86.7 311.1h0.7v0.7h-0.7zM79.4 313.4h0.7v0.7h-0.7zM82.2 291.5h0.7v0.7h-0.7zM79.9 297.4h0.7v0.7h-0.7zM91.8 313.9h0.7v0.7h-0.7zM71.9 319.0h0.7v0.7h-0.7zM70.5 308.6h0.7v0.7h-0.7zM68.7 301.4h0.7v0.7h-0.7zM77.5 293.5h0.7v0.7h-0.7zM79.7 312.6h0.7v0.7h-0.7zM66.0 327.5h0.7v0.7h-0.7zM56.4 326.3h0.7v0.7h-0.7zM46.8 319.5h0.7v0.7h-0.7zM64.2 316.5h0.7v0.7h-0.7zM48.8 326.6h0.7v0.7h-0.7zM52.3 316.0h0.7v0.7h-0.7zM48.3 318.6h0.7v0.7h-0.7zM43.3 319.2h0.7v0.7h-0.7zM59.0 319.3h0.7v0.7h-0.7zM54.7 318.7h0.7v0.7h-0.7zM51.5 325.5h0.7v0.7h-0.7zM56.2 321.0h0.7v0.7h-0.7zM50.9 327.5h0.7v0.7h-0.7zM50.1 314.9h0.7v0.7h-0.7zM58.7 325.4h0.7v0.7h-0.7zM52.2 319.3h0.7v0.7h-0.7zM63.7 328.5h0.7v0.7h-0.7zM56.3 322.0h0.7v0.7h-0.7zM48.1 326.3h0.7v0.7h-0.7zM58.1 322.8h0.7v0.7h-0.7zM43.6 326.1h0.7v0.7h-0.7zM58.7 326.0h0.7v0.7h-0.7zM50.3 321.2h0.7v0.7h-0.7zM51.6 323.5h0.7v0.7h-0.7zM54.0 321.6h0.7v0.7h-0.7zM58.9 327.8h0.7v0.7h-0.7zM54.3 328.5h0.7v0.7h-0.7zM46.2 320.1h0.7v0.7h-0.7zM56.9 327.2h0.7v0.7h-0.7zM54.9 314.2h0.7v0.7h-0.7zM50.3 316.2h0.7v0.7h-0.7zM60.4 320.0h0.7v0.7h-0.7zM55.3 316.5h0.7v0.7h-0.7zM56.9 313.8h0.7v0.7h-0.7zM50.8 326.9h0.7v0.7h-0.7zM53.4 317.2h0.7v0.7h-0.7zM47.1 327.0h0.7v0.7h-0.7zM58.5 323.8h0.7v0.7h-0.7zM59.0 321.7h0.7v0.7h-0.7zM53.3 321.5h0.7v0.7h-0.7zM49.6 327.6h0.7v0.7h-0.7zM59.5 320.9h0.7v0.7h-0.7zM55.7 316.2h0.7v0.7h-0.7zM54.0 322.3h0.7v0.7h-0.7zM48.4 315.0h0.7v0.7h-0.7zM46.0 323.0h0.7v0.7h-0.7zM51.8 326.8h0.7v0.7h-0.7zM43.4 325.4h0.7v0.7h-0.7zM46.8 324.3h0.7v0.7h-0.7zM57.7 320.8h0.7v0.7h-0.7zM54.6 314.9h0.7v0.7h-0.7zM53.5 324.7h0.7v0.7h-0.7zM55.3 319.6h0.7v0.7h-0.7zM55.6 323.5h0.7v0.7h-0.7zM56.1 317.5h0.7v0.7h-0.7zM59.5 322.0h0.7v0.7h-0.7zM44.0 321.3h0.7v0.7h-0.7zM50.9 318.2h0.7v0.7h-0.7zM50.4 325.5h0.7v0.7h-0.7zM63.9 322.9h0.7v0.7h-0.7zM56.7 318.3h0.7v0.7h-0.7zM51.3 326.6h0.7v0.7h-0.7zM50.5 322.2h0.7v0.7h-0.7zM47.7 324.8h0.7v0.7h-0.7zM64.6 328.1h0.7v0.7h-0.7zM49.9 316.5h0.7v0.7h-0.7zM64.6 325.6h0.7v0.7h-0.7zM49.4 319.0h0.7v0.7h-0.7zM53.1 315.3h0.7v0.7h-0.7zM50.9 324.4h0.7v0.7h-0.7zM63.6 323.9h0.7v0.7h-0.7zM52.3 324.9h0.7v0.7h-0.7zM66.2 324.5h0.7v0.7h-0.7zM64.6 316.3h0.7v0.7h-0.7zM41.9 315.2h0.7v0.7h-0.7zM58.9 319.6h0.7v0.7h-0.7zM85.8 294.2h0.7v0.7h-0.7zM82.5 285.2h0.7v0.7h-0.7zM81.5 298.3h0.7v0.7h-0.7zM81.5 288.9h0.7v0.7h-0.7zM83.2 291.2h0.7v0.7h-0.7zM79.1 311.4h0.7v0.7h-0.7zM85.0 302.4h0.7v0.7h-0.7zM79.5 277.3h0.7v0.7h-0.7zM83.4 287.3h0.7v0.7h-0.7zM80.3 303.3h0.7v0.7h-0.7zM79.4 277.5h0.7v0.7h-0.7zM88.6 293.1h0.7v0.7h-0.7zM78.8 298.6h0.7v0.7h-0.7zM80.6 286.3h0.7v0.7h-0.7zM82.3 289.7h0.7v0.7h-0.7zM88.6 283.6h0.7v0.7h-0.7zM80.4 280.7h0.7v0.7h-0.7zM82.7 281.4h0.7v0.7h-0.7zM83.2 301.6h0.7v0.7h-0.7zM89.0 288.4h0.7v0.7h-0.7zM83.5 285.4h0.7v0.7h-0.7zM82.1 296.0h0.7v0.7h-0.7zM77.1 283.2h0.7v0.7h-0.7zM80.1 282.7h0.7v0.7h-0.7zM81.3 292.2h0.7v0.7h-0.7zM82.2 312.6h0.7v0.7h-0.7zM86.7 283.6h0.7v0.7h-0.7zM82.2 284.7h0.7v0.7h-0.7zM83.7 290.3h0.7v0.7h-0.7zM85.0 290.6h0.7v0.7h-0.7zM86.9 288.8h0.7v0.7h-0.7zM83.2 293.4h0.7v0.7h-0.7zM83.5 290.1h0.7v0.7h-0.7zM84.8 295.4h0.7v0.7h-0.7zM84.2 294.8h0.7v0.7h-0.7zM81.9 287.0h0.7v0.7h-0.7zM86.4 300.4h0.7v0.7h-0.7zM82.2 301.1h0.7v0.7h-0.7zM82.0 302.1h0.7v0.7h-0.7zM85.4 290.4h0.7v0.7h-0.7zM84.6 285.0h0.7v0.7h-0.7zM81.6 285.8h0.7v0.7h-0.7zM85.5 295.2h0.7v0.7h-0.7zM82.2 290.6h0.7v0.7h-0.7zM79.9 288.5h0.7v0.7h-0.7zM79.8 300.4h0.7v0.7h-0.7zM85.3 284.7h0.7v0.7h-0.7zM81.3 302.9h0.7v0.7h-0.7zM83.2 280.4h0.7v0.7h-0.7zM80.9 285.2h0.7v0.7h-0.7zM82.4 279.6h0.7v0.7h-0.7zM84.6 284.8h0.7v0.7h-0.7zM88.5 296.5h0.7v0.7h-0.7zM78.4 282.6h0.7v0.7h-0.7zM82.9 276.3h0.7v0.7h-0.7zM79.2 302.3h0.7v0.7h-0.7zM80.7 284.5h0.7v0.7h-0.7zM83.7 293.1h0.7v0.7h-0.7zM83.3 297.0h0.7v0.7h-0.7zM81.0 299.7h0.7v0.7h-0.7zM83.5 307.5h0.7v0.7h-0.7zM65.0 310.3h0.7v0.7h-0.7zM60.2 295.7h0.7v0.7h-0.7zM68.2 299.2h0.7v0.7h-0.7zM55.6 298.8h0.7v0.7h-0.7zM68.9 297.3h0.7v0.7h-0.7zM78.8 286.8h0.7v0.7h-0.7zM49.8 309.0h0.7v0.7h-0.7zM61.4 295.7h0.7v0.7h-0.7zM44.6 312.3h0.7v0.7h-0.7zM63.6 309.8h0.7v0.7h-0.7zM93.0 313.7h0.7v0.7h-0.7zM69.8 293.0h0.7v0.7h-0.7zM57.4 317.9h0.7v0.7h-0.7zM63.1 308.9h0.7v0.7h-0.7zM67.6 317.7h0.7v0.7h-0.7zM84.0 291.7h0.7v0.7h-0.7zM79.3 305.3h0.7v0.7h-0.7zM64.0 316.6h0.7v0.7h-0.7zM65.6 324.8h0.7v0.7h-0.7zM56.2 320.2h0.7v0.7h-0.7zM62.2 284.6h0.7v0.7h-0.7zM63.1 322.6h0.7v0.7h-0.7zM67.8 306.2h0.7v0.7h-0.7zM51.9 314.6h0.7v0.7h-0.7zM70.0 282.8h0.7v0.7h-0.7zM54.2 319.1h0.7v0.7h-0.7zM71.3 312.5h0.7v0.7h-0.7zM60.6 316.4h0.7v0.7h-0.7zM49.2 302.2h0.7v0.7h-0.7zM68.7 296.1h0.7v0.7h-0.7zM69.9 304.7h0.7v0.7h-0.7zM58.9 296.4h0.7v0.7h-0.7zM69.2 321.6h0.7v0.7h-0.7zM84.9 305.6h0.7v0.7h-0.7zM49.5 312.3h0.7v0.7h-0.7zM77.5 295.9h0.7v0.7h-0.7zM80.2 292.2h0.7v0.7h-0.7zM60.7 291.7h0.7v0.7h-0.7zM64.0 303.9h0.7v0.7h-0.7zM71.4 298.3h0.7v0.7h-0.7zM92.9 322.8h0.7v0.7h-0.7zM68.2 326.5h0.7v0.7h-0.7zM80.1 321.5h0.7v0.7h-0.7zM40.7 305.8h0.7v0.7h-0.7zM93.9 303.6h0.7v0.7h-0.7zM59.1 299.6h0.7v0.7h-0.7zM75.3 308.2h0.7v0.7h-0.7zM53.8 325.4h0.7v0.7h-0.7zM73.8 319.0h0.7v0.7h-0.7zM80.7 313.9h0.7v0.7h-0.7zM65.7 321.1h0.7v0.7h-0.7zM64.1 303.0h0.7v0.7h-0.7zM75.1 297.4h0.7v0.7h-0.7zM78.0 311.8h0.7v0.7h-0.7zM49.4 306.0h0.7v0.7h-0.7zM78.7 317.2h0.7v0.7h-0.7zM71.2 298.4h0.7v0.7h-0.7zM47.9 310.9h0.7v0.7h-0.7zM69.9 312.3h0.7v0.7h-0.7zM77.2 303.5h0.7v0.7h-0.7zM49.2 318.2h0.7v0.7h-0.7zM66.3 282.5h0.7v0.7h-0.7zM83.1 321.9h0.7v0.7h-0.7zM83.6 312.4h0.7v0.7h-0.7zM72.4 297.4h0.7v0.7h-0.7zM55.1 282.9h0.7v0.7h-0.7zM54.4 308.9h0.7v0.7h-0.7zM60.3 296.8h0.7v0.7h-0.7zM73.4 312.1h0.7v0.7h-0.7zM85.5 306.9h0.7v0.7h-0.7zM88.9 316.8h0.7v0.7h-0.7zM66.2 307.6h0.7v0.7h-0.7zM74.6 311.4h0.7v0.7h-0.7z"/>
<ellipse cx="65" cy="283.8" rx="13" ry="2.4" fill="#3cc0c8" opacity="0.75" filter="url(#b2)" transform="rotate(-2 65 283.8)"/>
<ellipse cx="64" cy="283.4" rx="10" ry="1.5" fill="#5cc840" opacity="1" filter="url(#b2)" transform="rotate(-3 64 283.4)"/>
<ellipse cx="73.5" cy="284" rx="5.5" ry="2.6" fill="#50c040" opacity="1" filter="url(#b2)"/>
<ellipse cx="77.8" cy="289" rx="2.2" ry="4.5" fill="#40b8b0" opacity="0.75" filter="url(#b2)"/>
<ellipse cx="73.5" cy="283.6" rx="3.6" ry="1.6" fill="#e0d830" opacity="1" filter="url(#b2)"/>
<ellipse cx="74.2" cy="283.4" rx="2.1" ry="1.1" fill="#e04020" opacity="1" filter="url(#b2)"/>
<ellipse cx="59" cy="282.8" rx="2.5" ry="1" fill="#c8d838" opacity="0.8" filter="url(#b2)"/>
<ellipse cx="55" cy="300" rx="2.5" ry="7" fill="#3a8ad8" opacity="0.45" filter="url(#b2)"/>
<rect x="37.5" y="272.2" width="58.2" height="57.5" fill="none" stroke="#ababab" stroke-width="0.6"/>
<line x1="37.5" y1="272.2" x2="37.5" y2="329.7" stroke="#333" stroke-width="0.9" />
<line x1="37.5" y1="329.7" x2="95.7" y2="329.7" stroke="#333" stroke-width="0.9" />
<rect x="42.3" y="276.6" width="22.9" height="13.6" rx="0" fill="none" stroke="#858585" stroke-width="0.8"/>
<rect x="65.2" y="276.6" width="23.9" height="12.8" rx="0" fill="none" stroke="#858585" stroke-width="0.8"/>
<rect x="65.8" y="289.4" width="23.3" height="7.8" rx="0" fill="none" stroke="#858585" stroke-width="0.8"/>
<rect x="65.8" y="297.2" width="23.6" height="15.9" rx="0" fill="none" stroke="#858585" stroke-width="0.8"/>
<rect x="42.3" y="290.2" width="22.6" height="27.3" rx="0" fill="none" stroke="#858585" stroke-width="0.8"/>
<text x="45" y="281.5" font-size="6.3" style="stroke-width:0.08px">R2</text>
<text x="81.4" y="281.5" font-size="6.3" style="stroke-width:0.08px">R3</text>
<text x="81.8" y="296.3" font-size="6.3" style="stroke-width:0.08px">R4</text>
<text x="81.8" y="307" font-size="6.3" style="stroke-width:0.08px">R5</text>
<text x="44" y="315.6" font-size="6.3" style="stroke-width:0.08px">R1</text>
<text x="33.6" y="275.7" font-size="6.2" text-anchor="end" fill="#2a2a2a" style="stroke-width:0.08px">10<tspan dy="-2.4" font-size="3.84">4</tspan></text>
<text x="33.6" y="289.75" font-size="6.2" text-anchor="end" fill="#2a2a2a" style="stroke-width:0.08px">10<tspan dy="-2.4" font-size="3.84">3</tspan></text>
<text x="33.6" y="303.8" font-size="6.2" text-anchor="end" fill="#2a2a2a" style="stroke-width:0.08px">10<tspan dy="-2.4" font-size="3.84">2</tspan></text>
<text x="33.6" y="317.85" font-size="6.2" text-anchor="end" fill="#2a2a2a" style="stroke-width:0.08px">10<tspan dy="-2.4" font-size="3.84">1</tspan></text>
<text x="33.6" y="331.9" font-size="6.2" text-anchor="end" fill="#2a2a2a" style="stroke-width:0.08px">10<tspan dy="-2.4" font-size="3.84">0</tspan></text>
<text x="39.5" y="341.3" font-size="6.2" text-anchor="middle" fill="#2a2a2a" style="stroke-width:0.08px">10<tspan dy="-2.4" font-size="3.84">0</tspan></text>
<text x="52.95" y="341.3" font-size="6.2" text-anchor="middle" fill="#2a2a2a" style="stroke-width:0.08px">10<tspan dy="-2.4" font-size="3.84">1</tspan></text>
<text x="66.4" y="341.3" font-size="6.2" text-anchor="middle" fill="#2a2a2a" style="stroke-width:0.08px">10<tspan dy="-2.4" font-size="3.84">2</tspan></text>
<text x="79.85" y="341.3" font-size="6.2" text-anchor="middle" fill="#2a2a2a" style="stroke-width:0.08px">10<tspan dy="-2.4" font-size="3.84">3</tspan></text>
<text x="93.3" y="341.3" font-size="6.2" text-anchor="middle" fill="#2a2a2a" style="stroke-width:0.08px">10<tspan dy="-2.4" font-size="3.84">4</tspan></text>
<line x1="20.3" y1="345.8" x2="20.3" y2="319.3" stroke="#111" stroke-width="1.3" />
<line x1="19.65" y1="345.8" x2="54.7" y2="345.8" stroke="#111" stroke-width="1.3" />
<path d="M17.7,319.8 L20.3,314.5 L22.9,319.8 L20.3,318.6 Z" fill="#111"/>
<path d="M54.2,343.5 L59.5,345.8 L54.2,348.1 L55.4,345.8 Z" fill="#111"/>
<text x="14.6" y="329.2" font-size="8.9" text-anchor="middle" textLength="18" lengthAdjust="spacingAndGlyphs" transform="rotate(-90 14.6 329.2)" >CD71</text>
<text x="31.3" y="356.3" font-size="8.2" textLength="22.1" lengthAdjust="spacingAndGlyphs" >Ter119</text>
<text x="111.3" y="267.3" font-size="12.5" fill="#000" font-weight="bold" >J</text>
<line x1="138.5" y1="283.9" x2="138.5" y2="357.45" stroke="#1a1a1a" stroke-width="1.1" />
<line x1="135.4" y1="286.7" x2="138.4" y2="286.7" stroke="#1a1a1a" stroke-width="0.99" />
<text x="132.2" y="289.08" font-size="6.7" text-anchor="end" >50</text>
<line x1="135.4" y1="300.74" x2="138.4" y2="300.74" stroke="#1a1a1a" stroke-width="0.99" />
<text x="132.2" y="303.12" font-size="6.7" text-anchor="end" >40</text>
<line x1="135.4" y1="314.78" x2="138.4" y2="314.78" stroke="#1a1a1a" stroke-width="0.99" />
<text x="132.2" y="317.16" font-size="6.7" text-anchor="end" >30</text>
<line x1="135.4" y1="328.82" x2="138.4" y2="328.82" stroke="#1a1a1a" stroke-width="0.99" />
<text x="132.2" y="331.2" font-size="6.7" text-anchor="end" >20</text>
<line x1="135.4" y1="342.86" x2="138.4" y2="342.86" stroke="#1a1a1a" stroke-width="0.99" />
<text x="132.2" y="345.24" font-size="6.7" text-anchor="end" >10</text>
<line x1="135.4" y1="356.9" x2="138.4" y2="356.9" stroke="#1a1a1a" stroke-width="0.99" />
<text x="132.2" y="359.28" font-size="6.7" text-anchor="end" >0</text>
<line x1="135.6" y1="356.5" x2="242.3" y2="356.5" stroke="#1a1a1a" stroke-width="1.1" />
<line x1="149.5" y1="356.9" x2="149.5" y2="359.7" stroke="#1a1a1a" stroke-width="0.99" />
<line x1="169.85" y1="356.9" x2="169.85" y2="359.7" stroke="#1a1a1a" stroke-width="0.99" />
<line x1="190.2" y1="356.9" x2="190.2" y2="359.7" stroke="#1a1a1a" stroke-width="0.99" />
<line x1="210.55" y1="356.9" x2="210.55" y2="359.7" stroke="#1a1a1a" stroke-width="0.99" />
<line x1="230.9" y1="356.9" x2="230.9" y2="359.7" stroke="#1a1a1a" stroke-width="0.99" />
<line x1="144.4" y1="339.21" x2="144.4" y2="341.46" stroke="#1a1a1a" stroke-width="1.1" />
<line x1="143.1" y1="339.21" x2="145.7" y2="339.21" stroke="#1a1a1a" stroke-width="1.1" />
<rect x="141.85" y="341.46" width="5.1" height="15.44" fill="#a8022f" />
<line x1="149.5" y1="338.65" x2="149.5" y2="340.05" stroke="#1a1a1a" stroke-width="1.1" />
<line x1="148.2" y1="338.65" x2="150.8" y2="338.65" stroke="#1a1a1a" stroke-width="1.1" />
<rect x="146.95" y="340.05" width="5.1" height="16.85" fill="#27498a" />
<line x1="154.6" y1="318.57" x2="154.6" y2="324.61" stroke="#1a1a1a" stroke-width="1.1" />
<line x1="153.3" y1="318.57" x2="155.9" y2="318.57" stroke="#1a1a1a" stroke-width="1.1" />
<rect x="152.05" y="324.61" width="5.1" height="32.29" fill="#6aaf3d" />
<line x1="164.75" y1="327.28" x2="164.75" y2="329.52" stroke="#1a1a1a" stroke-width="1.1" />
<line x1="163.45" y1="327.28" x2="166.05" y2="327.28" stroke="#1a1a1a" stroke-width="1.1" />
<rect x="162.2" y="329.52" width="5.1" height="27.38" fill="#a8022f" />
<line x1="169.85" y1="329.1" x2="169.85" y2="331.63" stroke="#1a1a1a" stroke-width="1.1" />
<line x1="168.55" y1="329.1" x2="171.15" y2="329.1" stroke="#1a1a1a" stroke-width="1.1" />
<rect x="167.3" y="331.63" width="5.1" height="25.27" fill="#27498a" />
<line x1="174.95" y1="307.76" x2="174.95" y2="311.97" stroke="#1a1a1a" stroke-width="1.1" />
<line x1="173.65" y1="307.76" x2="176.25" y2="307.76" stroke="#1a1a1a" stroke-width="1.1" />
<rect x="172.4" y="311.97" width="5.1" height="44.93" fill="#6aaf3d" />
<line x1="185.1" y1="290.63" x2="185.1" y2="293.02" stroke="#1a1a1a" stroke-width="1.1" />
<line x1="183.8" y1="290.63" x2="186.4" y2="290.63" stroke="#1a1a1a" stroke-width="1.1" />
<rect x="182.55" y="293.02" width="5.1" height="63.88" fill="#a8022f" />
<line x1="190.2" y1="291.61" x2="190.2" y2="293.72" stroke="#1a1a1a" stroke-width="1.1" />
<line x1="188.9" y1="291.61" x2="191.5" y2="291.61" stroke="#1a1a1a" stroke-width="1.1" />
<rect x="187.65" y="293.72" width="5.1" height="63.18" fill="#27498a" />
<line x1="195.3" y1="306.36" x2="195.3" y2="310.57" stroke="#1a1a1a" stroke-width="1.1" />
<line x1="194" y1="306.36" x2="196.6" y2="306.36" stroke="#1a1a1a" stroke-width="1.1" />
<rect x="192.75" y="310.57" width="5.1" height="46.33" fill="#6aaf3d" />
<line x1="205.45" y1="334.72" x2="205.45" y2="337.24" stroke="#1a1a1a" stroke-width="1.1" />
<line x1="204.15" y1="334.72" x2="206.75" y2="334.72" stroke="#1a1a1a" stroke-width="1.1" />
<rect x="202.9" y="337.24" width="5.1" height="19.66" fill="#a8022f" />
<line x1="210.55" y1="333.31" x2="210.55" y2="335.14" stroke="#1a1a1a" stroke-width="1.1" />
<line x1="209.25" y1="333.31" x2="211.85" y2="333.31" stroke="#1a1a1a" stroke-width="1.1" />
<rect x="208" y="335.14" width="5.1" height="21.76" fill="#27498a" />
<line x1="215.65" y1="347.91" x2="215.65" y2="350.58" stroke="#1a1a1a" stroke-width="1.1" />
<line x1="214.35" y1="347.91" x2="216.95" y2="347.91" stroke="#1a1a1a" stroke-width="1.1" />
<rect x="213.1" y="350.58" width="5.1" height="6.32" fill="#6aaf3d" />
<line x1="225.8" y1="353.25" x2="225.8" y2="353.95" stroke="#1a1a1a" stroke-width="1.1" />
<line x1="224.5" y1="353.25" x2="227.1" y2="353.25" stroke="#1a1a1a" stroke-width="1.1" />
<rect x="223.25" y="353.95" width="5.1" height="2.95" fill="#a8022f" />
<line x1="230.9" y1="353.39" x2="230.9" y2="354.09" stroke="#1a1a1a" stroke-width="1.1" />
<line x1="229.6" y1="353.39" x2="232.2" y2="353.39" stroke="#1a1a1a" stroke-width="1.1" />
<rect x="228.35" y="354.09" width="5.1" height="2.81" fill="#27498a" />
<rect x="233.45" y="356.34" width="5.1" height="0.56" fill="#6aaf3d" />
<line x1="145" y1="310.8" x2="154.7" y2="310.8" stroke="#1a1a1a" stroke-width="1.1" />
<text x="149.85" y="310.3" font-size="6.6" text-anchor="middle" letter-spacing="0.25" style="stroke-width:0.35px">*</text>
<line x1="149.3" y1="316.8" x2="154.7" y2="316.8" stroke="#1a1a1a" stroke-width="1.1" />
<text x="152" y="316.3" font-size="6.6" text-anchor="middle" letter-spacing="0.25" style="stroke-width:0.35px">**</text>
<line x1="165.9" y1="299" x2="175.9" y2="299" stroke="#1a1a1a" stroke-width="1.1" />
<text x="170.9" y="298.5" font-size="6.6" text-anchor="middle" letter-spacing="0.25" style="stroke-width:0.35px">**</text>
<line x1="170.2" y1="305" x2="175.9" y2="305" stroke="#1a1a1a" stroke-width="1.1" />
<text x="173.05" y="304.5" font-size="6.6" text-anchor="middle" letter-spacing="0.25" style="stroke-width:0.35px">**</text>
<line x1="186.1" y1="281.6" x2="196.4" y2="281.6" stroke="#1a1a1a" stroke-width="1.1" />
<text x="191.25" y="281.1" font-size="6.6" text-anchor="middle" letter-spacing="0.25" style="stroke-width:0.35px">**</text>
<line x1="190.3" y1="289.5" x2="196.4" y2="289.5" stroke="#1a1a1a" stroke-width="1.1" />
<text x="193.35" y="289" font-size="6.6" text-anchor="middle" letter-spacing="0.25" style="stroke-width:0.35px">***</text>
<line x1="206.3" y1="324" x2="216.5" y2="324" stroke="#1a1a1a" stroke-width="1.1" />
<text x="211.4" y="323.5" font-size="6.6" text-anchor="middle" letter-spacing="0.25" style="stroke-width:0.35px">**</text>
<line x1="210.9" y1="331" x2="216.5" y2="331" stroke="#1a1a1a" stroke-width="1.1" />
<text x="213.7" y="330.5" font-size="6.6" text-anchor="middle" letter-spacing="0.25" style="stroke-width:0.35px">***</text>
<line x1="225.8" y1="345.1" x2="236.3" y2="345.1" stroke="#1a1a1a" stroke-width="1.1" />
<text x="231.05" y="344.6" font-size="6.6" text-anchor="middle" letter-spacing="0.25" style="stroke-width:0.35px">***</text>
<line x1="230.8" y1="351.1" x2="236.3" y2="351.1" stroke="#1a1a1a" stroke-width="1.1" />
<text x="233.55" y="350.6" font-size="6.6" text-anchor="middle" letter-spacing="0.25" style="stroke-width:0.35px">**</text>
<rect x="211.9" y="276.4" width="6.5" height="4.5" fill="#a8022f" />
<text x="221.8" y="280.5" font-size="6.4" fill="#3a3a3a" textLength="20.9" lengthAdjust="spacingAndGlyphs" style="stroke:none"><tspan font-style="italic">Gps2</tspan><tspan dy="-2.69" font-size="3.84" font-style="italic" letter-spacing="0.35">+/+</tspan></text>
<rect x="211.9" y="285.9" width="6.5" height="4.5" fill="#27498a" />
<text x="221.8" y="290" font-size="6.4" fill="#3a3a3a" textLength="20.9" lengthAdjust="spacingAndGlyphs" style="stroke:none"><tspan font-style="italic">Gps2</tspan><tspan dy="-2.69" font-size="3.84" font-style="italic" letter-spacing="0.35">+/-</tspan></text>
<rect x="211.9" y="295.4" width="6.5" height="4.5" fill="#6aaf3d" />
<text x="221.8" y="299.5" font-size="6.4" fill="#3a3a3a" textLength="20.9" lengthAdjust="spacingAndGlyphs" style="stroke:none"><tspan font-style="italic">Gps2</tspan><tspan dy="-2.69" font-size="3.84" font-style="italic" letter-spacing="0.35">-/-</tspan></text>
<text x="118.6" y="320" font-size="9.3" text-anchor="middle" textLength="57.8" lengthAdjust="spacingAndGlyphs" transform="rotate(-90 118.6 320)" >Cell frequency (%)</text>
<text x="149.5" y="369" font-size="7" text-anchor="middle" >R1</text>
<text x="169.85" y="369" font-size="7" text-anchor="middle" >R2</text>
<text x="190.2" y="369" font-size="7" text-anchor="middle" >R3</text>
<text x="210.55" y="369" font-size="7" text-anchor="middle" >R4</text>
<text x="230.9" y="369" font-size="7" text-anchor="middle" >R5</text>
<text x="259.8" y="266" font-size="12.5" fill="#000" font-weight="bold" >K</text>
<ellipse cx="300" cy="288" rx="10" ry="8" fill="#c4ccf2" opacity="0.9" filter="url(#b3)"/>
<ellipse cx="318" cy="284" rx="5" ry="5" fill="#d0d8f4" opacity="0.9" filter="url(#b3)"/>
<ellipse cx="296" cy="300" rx="6" ry="8" fill="#dde2f8" opacity="0.9" filter="url(#b3)"/>
<path fill="#2d48d2" d="M293.2 285.1h0.7v0.7h-0.7zM311.0 282.6h0.7v0.7h-0.7zM292.4 283.8h0.7v0.7h-0.7zM306.8 287.1h0.7v0.7h-0.7zM293.3 280.4h0.7v0.7h-0.7zM308.6 285.3h0.7v0.7h-0.7zM315.3 286.8h0.7v0.7h-0.7zM302.2 283.2h0.7v0.7h-0.7zM323.6 283.2h0.7v0.7h-0.7zM296.7 280.8h0.7v0.7h-0.7zM303.8 284.4h0.7v0.7h-0.7zM300.2 283.8h0.7v0.7h-0.7zM305.2 285.9h0.7v0.7h-0.7zM311.8 284.6h0.7v0.7h-0.7zM288.7 286.0h0.7v0.7h-0.7zM291.6 283.5h0.7v0.7h-0.7zM291.2 284.0h0.7v0.7h-0.7zM296.8 284.6h0.7v0.7h-0.7zM329.4 283.9h0.7v0.7h-0.7zM309.7 280.3h0.7v0.7h-0.7zM300.7 285.9h0.7v0.7h-0.7zM302.3 285.0h0.7v0.7h-0.7zM303.8 281.2h0.7v0.7h-0.7zM307.5 281.7h0.7v0.7h-0.7zM318.0 282.6h0.7v0.7h-0.7zM308.5 284.0h0.7v0.7h-0.7zM310.6 282.3h0.7v0.7h-0.7zM311.0 283.7h0.7v0.7h-0.7zM313.1 285.7h0.7v0.7h-0.7zM304.1 281.8h0.7v0.7h-0.7zM309.1 285.3h0.7v0.7h-0.7zM316.1 282.9h0.7v0.7h-0.7zM307.4 285.4h0.7v0.7h-0.7zM305.3 284.6h0.7v0.7h-0.7zM304.5 282.3h0.7v0.7h-0.7zM294.9 282.9h0.7v0.7h-0.7zM307.7 288.2h0.7v0.7h-0.7zM310.8 286.9h0.7v0.7h-0.7zM309.2 286.0h0.7v0.7h-0.7zM304.5 286.2h0.7v0.7h-0.7zM317.2 283.1h0.7v0.7h-0.7zM297.4 289.5h0.7v0.7h-0.7zM305.0 286.7h0.7v0.7h-0.7zM310.0 280.8h0.7v0.7h-0.7zM322.5 289.0h0.7v0.7h-0.7zM304.4 286.1h0.7v0.7h-0.7zM304.0 281.5h0.7v0.7h-0.7zM302.1 285.0h0.7v0.7h-0.7zM311.9 286.0h0.7v0.7h-0.7zM303.5 287.8h0.7v0.7h-0.7zM296.9 286.2h0.7v0.7h-0.7zM311.9 283.2h0.7v0.7h-0.7zM288.7 281.5h0.7v0.7h-0.7zM304.9 285.5h0.7v0.7h-0.7zM315.4 281.2h0.7v0.7h-0.7zM303.0 285.8h0.7v0.7h-0.7zM301.7 277.4h0.7v0.7h-0.7zM309.5 290.5h0.7v0.7h-0.7zM311.0 281.4h0.7v0.7h-0.7zM299.7 284.6h0.7v0.7h-0.7zM322.9 285.7h0.7v0.7h-0.7zM303.9 288.4h0.7v0.7h-0.7zM302.3 289.2h0.7v0.7h-0.7zM297.5 282.7h0.7v0.7h-0.7zM308.8 288.0h0.7v0.7h-0.7zM308.2 284.8h0.7v0.7h-0.7zM288.4 282.0h0.7v0.7h-0.7zM298.1 282.5h0.7v0.7h-0.7zM307.7 283.1h0.7v0.7h-0.7zM309.3 284.2h0.7v0.7h-0.7zM300.3 284.3h0.7v0.7h-0.7zM306.4 286.4h0.7v0.7h-0.7zM299.2 283.3h0.7v0.7h-0.7zM292.1 288.5h0.7v0.7h-0.7zM314.6 283.5h0.7v0.7h-0.7zM299.2 280.5h0.7v0.7h-0.7zM304.4 284.6h0.7v0.7h-0.7zM320.5 284.7h0.7v0.7h-0.7zM296.8 277.2h0.7v0.7h-0.7zM314.3 284.5h0.7v0.7h-0.7zM290.1 284.5h0.7v0.7h-0.7zM290.1 293.7h0.7v0.7h-0.7zM312.0 285.6h0.7v0.7h-0.7zM301.6 278.0h0.7v0.7h-0.7zM302.0 279.6h0.7v0.7h-0.7zM307.8 278.0h0.7v0.7h-0.7zM295.7 287.4h0.7v0.7h-0.7zM316.2 280.7h0.7v0.7h-0.7zM290.7 286.5h0.7v0.7h-0.7zM309.8 281.2h0.7v0.7h-0.7zM297.4 282.1h0.7v0.7h-0.7zM293.5 282.1h0.7v0.7h-0.7zM313.0 285.9h0.7v0.7h-0.7zM319.5 283.8h0.7v0.7h-0.7zM301.9 281.2h0.7v0.7h-0.7zM302.0 280.3h0.7v0.7h-0.7zM288.8 286.0h0.7v0.7h-0.7zM314.5 286.3h0.7v0.7h-0.7zM313.7 284.7h0.7v0.7h-0.7zM297.3 284.2h0.7v0.7h-0.7zM300.0 280.9h0.7v0.7h-0.7zM289.5 279.8h0.7v0.7h-0.7zM303.0 284.4h0.7v0.7h-0.7zM299.2 288.0h0.7v0.7h-0.7zM304.4 285.6h0.7v0.7h-0.7zM312.7 281.7h0.7v0.7h-0.7zM287.2 286.1h0.7v0.7h-0.7zM297.5 287.7h0.7v0.7h-0.7zM305.7 286.8h0.7v0.7h-0.7zM309.1 278.2h0.7v0.7h-0.7zM308.8 282.1h0.7v0.7h-0.7zM297.0 282.8h0.7v0.7h-0.7zM309.1 286.5h0.7v0.7h-0.7zM311.1 279.4h0.7v0.7h-0.7zM298.3 277.3h0.7v0.7h-0.7zM302.2 285.7h0.7v0.7h-0.7zM296.9 284.7h0.7v0.7h-0.7zM304.9 286.8h0.7v0.7h-0.7zM296.4 281.7h0.7v0.7h-0.7zM296.9 288.9h0.7v0.7h-0.7zM311.7 283.7h0.7v0.7h-0.7zM304.8 284.3h0.7v0.7h-0.7zM304.6 283.4h0.7v0.7h-0.7zM300.3 280.5h0.7v0.7h-0.7zM297.9 288.6h0.7v0.7h-0.7zM307.3 284.2h0.7v0.7h-0.7zM301.3 284.2h0.7v0.7h-0.7zM305.8 282.2h0.7v0.7h-0.7zM304.6 284.7h0.7v0.7h-0.7zM297.0 281.8h0.7v0.7h-0.7zM295.0 281.0h0.7v0.7h-0.7zM310.1 277.4h0.7v0.7h-0.7zM300.9 282.3h0.7v0.7h-0.7zM298.0 284.3h0.7v0.7h-0.7zM312.0 284.2h0.7v0.7h-0.7zM301.9 282.3h0.7v0.7h-0.7zM302.0 286.6h0.7v0.7h-0.7zM299.8 280.8h0.7v0.7h-0.7zM292.9 280.9h0.7v0.7h-0.7zM291.9 287.1h0.7v0.7h-0.7zM305.8 283.3h0.7v0.7h-0.7zM314.7 282.2h0.7v0.7h-0.7zM309.0 286.2h0.7v0.7h-0.7zM290.6 279.6h0.7v0.7h-0.7zM295.6 286.5h0.7v0.7h-0.7zM313.4 280.6h0.7v0.7h-0.7zM311.4 282.9h0.7v0.7h-0.7zM299.9 282.5h0.7v0.7h-0.7zM300.4 278.9h0.7v0.7h-0.7zM295.0 280.5h0.7v0.7h-0.7zM306.9 289.8h0.7v0.7h-0.7zM324.9 283.1h0.7v0.7h-0.7zM289.2 282.9h0.7v0.7h-0.7zM295.5 289.6h0.7v0.7h-0.7zM307.6 282.0h0.7v0.7h-0.7zM310.5 285.5h0.7v0.7h-0.7zM290.0 282.5h0.7v0.7h-0.7zM301.1 284.1h0.7v0.7h-0.7zM304.1 283.1h0.7v0.7h-0.7zM304.5 282.4h0.7v0.7h-0.7zM295.8 288.2h0.7v0.7h-0.7zM305.9 285.2h0.7v0.7h-0.7zM290.2 283.5h0.7v0.7h-0.7zM309.6 280.4h0.7v0.7h-0.7zM311.8 282.9h0.7v0.7h-0.7zM306.2 283.6h0.7v0.7h-0.7zM304.7 287.4h0.7v0.7h-0.7zM299.8 288.4h0.7v0.7h-0.7zM296.7 281.4h0.7v0.7h-0.7zM308.7 281.0h0.7v0.7h-0.7zM300.0 286.5h0.7v0.7h-0.7zM312.7 279.0h0.7v0.7h-0.7zM307.0 289.3h0.7v0.7h-0.7zM312.6 283.3h0.7v0.7h-0.7zM298.2 283.2h0.7v0.7h-0.7zM293.8 283.3h0.7v0.7h-0.7zM301.5 283.6h0.7v0.7h-0.7zM312.5 283.4h0.7v0.7h-0.7zM291.3 286.9h0.7v0.7h-0.7zM294.4 282.7h0.7v0.7h-0.7zM301.9 283.0h0.7v0.7h-0.7zM295.0 283.3h0.7v0.7h-0.7zM320.5 282.3h0.7v0.7h-0.7zM301.9 287.1h0.7v0.7h-0.7zM309.0 286.1h0.7v0.7h-0.7zM309.9 278.5h0.7v0.7h-0.7zM296.1 284.4h0.7v0.7h-0.7zM307.0 287.6h0.7v0.7h-0.7zM306.8 283.3h0.7v0.7h-0.7zM303.3 283.4h0.7v0.7h-0.7zM305.0 285.9h0.7v0.7h-0.7zM300.3 281.7h0.7v0.7h-0.7zM296.2 287.1h0.7v0.7h-0.7zM313.2 286.8h0.7v0.7h-0.7zM309.9 286.3h0.7v0.7h-0.7zM303.0 285.9h0.7v0.7h-0.7zM294.6 283.4h0.7v0.7h-0.7zM297.1 286.0h0.7v0.7h-0.7zM298.4 283.7h0.7v0.7h-0.7zM306.2 287.8h0.7v0.7h-0.7zM296.7 281.4h0.7v0.7h-0.7zM309.5 280.9h0.7v0.7h-0.7zM306.6 282.4h0.7v0.7h-0.7zM302.2 278.9h0.7v0.7h-0.7zM308.7 282.6h0.7v0.7h-0.7zM295.8 289.8h0.7v0.7h-0.7zM308.7 293.8h0.7v0.7h-0.7zM306.3 283.0h0.7v0.7h-0.7zM303.9 288.5h0.7v0.7h-0.7zM302.8 285.3h0.7v0.7h-0.7zM307.1 281.5h0.7v0.7h-0.7zM304.0 282.6h0.7v0.7h-0.7zM293.0 286.4h0.7v0.7h-0.7zM308.3 284.2h0.7v0.7h-0.7zM295.7 278.4h0.7v0.7h-0.7zM306.9 283.7h0.7v0.7h-0.7zM289.5 283.8h0.7v0.7h-0.7zM290.8 283.9h0.7v0.7h-0.7zM304.1 285.0h0.7v0.7h-0.7zM304.7 284.5h0.7v0.7h-0.7zM293.9 282.9h0.7v0.7h-0.7zM298.9 283.3h0.7v0.7h-0.7zM305.2 285.7h0.7v0.7h-0.7zM316.1 276.8h0.7v0.7h-0.7zM306.2 283.4h0.7v0.7h-0.7zM321.2 286.6h0.7v0.7h-0.7zM289.8 285.1h0.7v0.7h-0.7zM298.8 286.8h0.7v0.7h-0.7zM294.6 283.7h0.7v0.7h-0.7zM301.9 283.7h0.7v0.7h-0.7zM298.3 278.9h0.7v0.7h-0.7zM306.7 286.8h0.7v0.7h-0.7zM302.5 281.2h0.7v0.7h-0.7zM304.6 285.6h0.7v0.7h-0.7zM301.6 284.0h0.7v0.7h-0.7zM314.3 280.9h0.7v0.7h-0.7zM298.5 278.7h0.7v0.7h-0.7zM297.4 281.9h0.7v0.7h-0.7zM295.3 282.1h0.7v0.7h-0.7zM317.4 283.5h0.7v0.7h-0.7zM302.1 290.2h0.7v0.7h-0.7zM302.5 279.1h0.7v0.7h-0.7zM306.2 281.4h0.7v0.7h-0.7zM316.1 280.5h0.7v0.7h-0.7zM298.4 279.5h0.7v0.7h-0.7zM303.8 281.2h0.7v0.7h-0.7zM302.5 282.9h0.7v0.7h-0.7zM298.1 286.6h0.7v0.7h-0.7zM310.5 284.2h0.7v0.7h-0.7zM295.8 281.0h0.7v0.7h-0.7zM305.2 290.7h0.7v0.7h-0.7zM299.3 281.8h0.7v0.7h-0.7zM297.4 280.9h0.7v0.7h-0.7zM295.2 283.4h0.7v0.7h-0.7zM314.5 284.0h0.7v0.7h-0.7zM298.9 279.5h0.7v0.7h-0.7zM304.7 283.9h0.7v0.7h-0.7zM293.2 281.0h0.7v0.7h-0.7zM302.7 286.8h0.7v0.7h-0.7zM308.0 284.6h0.7v0.7h-0.7zM300.4 284.9h0.7v0.7h-0.7zM302.9 290.1h0.7v0.7h-0.7zM293.9 283.0h0.7v0.7h-0.7zM313.1 283.3h0.7v0.7h-0.7zM314.4 283.9h0.7v0.7h-0.7zM304.2 283.0h0.7v0.7h-0.7zM292.0 281.3h0.7v0.7h-0.7zM320.7 285.8h0.7v0.7h-0.7zM307.8 286.7h0.7v0.7h-0.7zM307.6 286.9h0.7v0.7h-0.7zM300.9 283.4h0.7v0.7h-0.7zM310.9 283.0h0.7v0.7h-0.7zM292.4 283.4h0.7v0.7h-0.7zM298.6 285.7h0.7v0.7h-0.7zM297.2 281.0h0.7v0.7h-0.7zM300.3 288.3h0.7v0.7h-0.7zM302.6 284.5h0.7v0.7h-0.7zM303.1 284.8h0.7v0.7h-0.7zM310.4 287.9h0.7v0.7h-0.7zM289.8 287.8h0.7v0.7h-0.7zM303.0 283.1h0.7v0.7h-0.7zM322.2 283.5h0.7v0.7h-0.7zM318.6 286.7h0.7v0.7h-0.7zM294.8 285.4h0.7v0.7h-0.7zM308.9 283.6h0.7v0.7h-0.7zM301.5 280.9h0.7v0.7h-0.7zM317.6 283.3h0.7v0.7h-0.7zM299.9 283.2h0.7v0.7h-0.7zM296.7 281.8h0.7v0.7h-0.7zM303.8 284.9h0.7v0.7h-0.7zM298.9 283.7h0.7v0.7h-0.7zM291.9 285.5h0.7v0.7h-0.7zM297.0 284.6h0.7v0.7h-0.7zM295.7 282.6h0.7v0.7h-0.7zM304.7 280.6h0.7v0.7h-0.7zM322.8 283.9h0.7v0.7h-0.7zM302.4 281.9h0.7v0.7h-0.7zM315.8 287.9h0.7v0.7h-0.7zM305.4 280.2h0.7v0.7h-0.7zM299.0 285.7h0.7v0.7h-0.7zM298.9 280.7h0.7v0.7h-0.7zM293.5 281.8h0.7v0.7h-0.7zM303.1 282.2h0.7v0.7h-0.7zM303.1 291.8h0.7v0.7h-0.7zM317.2 281.1h0.7v0.7h-0.7zM305.7 284.2h0.7v0.7h-0.7zM301.9 286.9h0.7v0.7h-0.7zM300.3 283.1h0.7v0.7h-0.7zM300.0 283.7h0.7v0.7h-0.7zM313.3 286.2h0.7v0.7h-0.7zM292.3 282.8h0.7v0.7h-0.7zM296.6 286.3h0.7v0.7h-0.7zM304.8 286.5h0.7v0.7h-0.7zM302.5 278.7h0.7v0.7h-0.7zM306.6 284.6h0.7v0.7h-0.7zM307.1 280.4h0.7v0.7h-0.7zM303.7 282.1h0.7v0.7h-0.7zM297.5 285.0h0.7v0.7h-0.7zM305.8 281.5h0.7v0.7h-0.7zM289.3 277.1h0.7v0.7h-0.7zM298.4 287.1h0.7v0.7h-0.7zM302.6 277.7h0.7v0.7h-0.7zM296.1 285.2h0.7v0.7h-0.7zM316.4 287.3h0.7v0.7h-0.7zM305.9 284.6h0.7v0.7h-0.7zM294.5 282.7h0.7v0.7h-0.7zM300.3 281.8h0.7v0.7h-0.7zM303.5 282.9h0.7v0.7h-0.7zM305.7 288.0h0.7v0.7h-0.7zM308.9 285.2h0.7v0.7h-0.7zM301.1 279.7h0.7v0.7h-0.7zM302.1 285.5h0.7v0.7h-0.7zM294.9 287.5h0.7v0.7h-0.7zM300.3 285.0h0.7v0.7h-0.7zM300.4 280.5h0.7v0.7h-0.7zM319.5 280.7h0.7v0.7h-0.7zM310.3 282.4h0.7v0.7h-0.7zM305.2 281.7h0.7v0.7h-0.7zM299.7 286.6h0.7v0.7h-0.7zM318.6 281.6h0.7v0.7h-0.7zM303.1 286.7h0.7v0.7h-0.7zM298.0 286.0h0.7v0.7h-0.7zM296.7 285.7h0.7v0.7h-0.7zM306.5 287.4h0.7v0.7h-0.7zM305.9 280.7h0.7v0.7h-0.7zM308.3 280.9h0.7v0.7h-0.7zM309.0 288.2h0.7v0.7h-0.7zM307.8 282.5h0.7v0.7h-0.7zM312.5 284.5h0.7v0.7h-0.7zM293.0 283.0h0.7v0.7h-0.7zM314.4 283.1h0.7v0.7h-0.7zM304.0 283.0h0.7v0.7h-0.7zM289.5 282.6h0.7v0.7h-0.7zM305.9 284.6h0.7v0.7h-0.7zM301.6 278.0h0.7v0.7h-0.7zM312.8 286.0h0.7v0.7h-0.7zM311.2 287.6h0.7v0.7h-0.7zM299.4 282.3h0.7v0.7h-0.7zM305.5 288.7h0.7v0.7h-0.7zM289.5 283.4h0.7v0.7h-0.7zM297.3 285.6h0.7v0.7h-0.7zM314.7 283.2h0.7v0.7h-0.7zM293.1 284.1h0.7v0.7h-0.7zM300.7 279.7h0.7v0.7h-0.7zM310.1 282.5h0.7v0.7h-0.7zM308.5 280.3h0.7v0.7h-0.7zM311.8 280.0h0.7v0.7h-0.7zM311.4 278.9h0.7v0.7h-0.7zM314.0 283.0h0.7v0.7h-0.7zM290.6 283.3h0.7v0.7h-0.7zM305.7 281.2h0.7v0.7h-0.7zM299.1 284.8h0.7v0.7h-0.7zM301.6 275.4h0.7v0.7h-0.7zM299.6 285.2h0.7v0.7h-0.7zM305.4 286.8h0.7v0.7h-0.7zM297.5 291.1h0.7v0.7h-0.7zM309.4 284.9h0.7v0.7h-0.7zM311.7 286.7h0.7v0.7h-0.7zM303.8 282.3h0.7v0.7h-0.7zM300.6 291.5h0.7v0.7h-0.7zM287.5 282.4h0.7v0.7h-0.7zM298.1 289.7h0.7v0.7h-0.7zM297.3 292.9h0.7v0.7h-0.7zM296.7 298.5h0.7v0.7h-0.7zM293.3 286.6h0.7v0.7h-0.7zM297.5 293.5h0.7v0.7h-0.7zM299.5 297.9h0.7v0.7h-0.7zM293.9 296.0h0.7v0.7h-0.7zM298.1 282.7h0.7v0.7h-0.7zM295.4 301.5h0.7v0.7h-0.7zM299.5 286.2h0.7v0.7h-0.7zM292.8 289.5h0.7v0.7h-0.7zM306.4 293.5h0.7v0.7h-0.7zM297.4 283.4h0.7v0.7h-0.7zM290.7 287.8h0.7v0.7h-0.7zM293.9 307.0h0.7v0.7h-0.7zM294.2 285.3h0.7v0.7h-0.7zM301.1 289.5h0.7v0.7h-0.7zM290.4 296.7h0.7v0.7h-0.7zM294.6 281.0h0.7v0.7h-0.7zM297.4 291.9h0.7v0.7h-0.7zM294.5 293.2h0.7v0.7h-0.7zM299.7 283.7h0.7v0.7h-0.7zM295.4 296.4h0.7v0.7h-0.7zM300.5 297.4h0.7v0.7h-0.7zM304.4 289.1h0.7v0.7h-0.7zM300.8 279.8h0.7v0.7h-0.7zM299.1 291.4h0.7v0.7h-0.7zM295.6 286.3h0.7v0.7h-0.7zM291.0 289.8h0.7v0.7h-0.7zM301.7 286.8h0.7v0.7h-0.7zM298.4 285.0h0.7v0.7h-0.7zM297.1 283.0h0.7v0.7h-0.7zM297.7 287.7h0.7v0.7h-0.7zM297.4 285.4h0.7v0.7h-0.7zM290.7 287.0h0.7v0.7h-0.7zM300.7 298.5h0.7v0.7h-0.7zM294.5 293.8h0.7v0.7h-0.7zM299.4 291.4h0.7v0.7h-0.7zM289.0 290.9h0.7v0.7h-0.7zM291.6 296.1h0.7v0.7h-0.7zM299.5 292.7h0.7v0.7h-0.7zM299.1 281.3h0.7v0.7h-0.7zM300.4 289.5h0.7v0.7h-0.7zM295.2 284.7h0.7v0.7h-0.7zM291.4 286.4h0.7v0.7h-0.7zM309.9 290.2h0.7v0.7h-0.7zM296.9 285.1h0.7v0.7h-0.7zM293.2 285.7h0.7v0.7h-0.7zM292.0 294.3h0.7v0.7h-0.7zM294.8 294.2h0.7v0.7h-0.7zM290.8 294.6h0.7v0.7h-0.7zM295.9 293.0h0.7v0.7h-0.7zM295.5 283.7h0.7v0.7h-0.7zM301.4 286.4h0.7v0.7h-0.7zM295.3 283.7h0.7v0.7h-0.7zM296.9 286.7h0.7v0.7h-0.7zM297.3 291.1h0.7v0.7h-0.7zM292.9 280.5h0.7v0.7h-0.7zM297.9 294.5h0.7v0.7h-0.7zM299.1 282.1h0.7v0.7h-0.7zM298.7 291.3h0.7v0.7h-0.7zM297.3 291.6h0.7v0.7h-0.7zM294.5 290.3h0.7v0.7h-0.7zM300.2 286.0h0.7v0.7h-0.7zM289.5 288.4h0.7v0.7h-0.7zM296.9 277.9h0.7v0.7h-0.7zM293.0 292.5h0.7v0.7h-0.7zM295.3 289.6h0.7v0.7h-0.7zM290.3 294.4h0.7v0.7h-0.7zM303.9 287.8h0.7v0.7h-0.7zM292.7 282.1h0.7v0.7h-0.7zM300.0 289.6h0.7v0.7h-0.7zM292.4 296.3h0.7v0.7h-0.7zM299.4 292.6h0.7v0.7h-0.7zM288.1 288.4h0.7v0.7h-0.7zM298.8 281.7h0.7v0.7h-0.7zM300.2 297.6h0.7v0.7h-0.7zM300.7 284.7h0.7v0.7h-0.7zM292.8 294.7h0.7v0.7h-0.7zM300.5 296.4h0.7v0.7h-0.7zM301.4 288.4h0.7v0.7h-0.7zM294.2 277.9h0.7v0.7h-0.7zM299.5 302.7h0.7v0.7h-0.7zM293.9 286.1h0.7v0.7h-0.7zM298.9 291.2h0.7v0.7h-0.7zM289.8 284.7h0.7v0.7h-0.7zM291.1 301.1h0.7v0.7h-0.7zM292.8 294.1h0.7v0.7h-0.7zM304.6 300.4h0.7v0.7h-0.7zM302.4 298.8h0.7v0.7h-0.7zM290.4 286.9h0.7v0.7h-0.7zM292.7 287.3h0.7v0.7h-0.7zM307.8 278.9h0.7v0.7h-0.7zM298.5 281.6h0.7v0.7h-0.7zM302.0 296.8h0.7v0.7h-0.7zM293.7 301.4h0.7v0.7h-0.7zM296.3 296.8h0.7v0.7h-0.7zM297.4 285.6h0.7v0.7h-0.7zM294.3 288.3h0.7v0.7h-0.7zM298.8 289.8h0.7v0.7h-0.7zM306.6 287.8h0.7v0.7h-0.7zM293.9 284.7h0.7v0.7h-0.7zM292.5 280.4h0.7v0.7h-0.7zM291.6 294.4h0.7v0.7h-0.7zM296.3 288.0h0.7v0.7h-0.7zM297.6 295.4h0.7v0.7h-0.7zM298.8 293.6h0.7v0.7h-0.7zM293.5 287.4h0.7v0.7h-0.7zM292.5 288.4h0.7v0.7h-0.7zM292.3 286.8h0.7v0.7h-0.7zM295.2 287.7h0.7v0.7h-0.7zM294.8 286.0h0.7v0.7h-0.7zM301.9 286.9h0.7v0.7h-0.7zM291.4 290.2h0.7v0.7h-0.7zM291.1 282.6h0.7v0.7h-0.7zM296.4 279.0h0.7v0.7h-0.7zM300.7 279.0h0.7v0.7h-0.7zM292.0 292.5h0.7v0.7h-0.7zM287.1 283.8h0.7v0.7h-0.7zM290.6 287.8h0.7v0.7h-0.7zM287.1 294.4h0.7v0.7h-0.7zM295.4 290.8h0.7v0.7h-0.7zM294.5 276.3h0.7v0.7h-0.7zM295.3 281.0h0.7v0.7h-0.7zM296.0 283.9h0.7v0.7h-0.7zM294.6 287.7h0.7v0.7h-0.7zM299.5 293.6h0.7v0.7h-0.7zM291.5 288.9h0.7v0.7h-0.7zM302.6 292.0h0.7v0.7h-0.7zM292.7 288.3h0.7v0.7h-0.7zM294.4 294.6h0.7v0.7h-0.7zM296.2 291.3h0.7v0.7h-0.7zM306.0 280.7h0.7v0.7h-0.7zM291.4 278.6h0.7v0.7h-0.7zM288.8 294.1h0.7v0.7h-0.7zM297.3 298.8h0.7v0.7h-0.7zM287.1 283.7h0.7v0.7h-0.7zM302.5 295.2h0.7v0.7h-0.7zM300.0 294.2h0.7v0.7h-0.7zM296.1 288.9h0.7v0.7h-0.7zM296.1 294.1h0.7v0.7h-0.7zM295.3 290.9h0.7v0.7h-0.7zM302.5 282.2h0.7v0.7h-0.7zM292.6 292.4h0.7v0.7h-0.7zM294.8 288.1h0.7v0.7h-0.7zM305.4 291.5h0.7v0.7h-0.7zM294.1 295.6h0.7v0.7h-0.7zM307.3 282.3h0.7v0.7h-0.7zM293.0 289.7h0.7v0.7h-0.7zM293.1 302.0h0.7v0.7h-0.7zM298.4 286.6h0.7v0.7h-0.7zM298.2 284.2h0.7v0.7h-0.7zM293.3 289.6h0.7v0.7h-0.7zM306.7 275.5h0.7v0.7h-0.7zM297.9 297.1h0.7v0.7h-0.7zM299.3 300.5h0.7v0.7h-0.7zM298.0 289.9h0.7v0.7h-0.7zM295.4 283.9h0.7v0.7h-0.7zM303.4 281.9h0.7v0.7h-0.7zM295.4 285.9h0.7v0.7h-0.7zM292.5 275.7h0.7v0.7h-0.7zM294.3 289.8h0.7v0.7h-0.7zM296.6 294.1h0.7v0.7h-0.7zM295.3 285.2h0.7v0.7h-0.7zM297.4 293.0h0.7v0.7h-0.7zM291.9 279.9h0.7v0.7h-0.7zM291.4 295.3h0.7v0.7h-0.7zM300.5 283.7h0.7v0.7h-0.7zM296.5 294.0h0.7v0.7h-0.7zM302.0 285.0h0.7v0.7h-0.7zM294.9 297.5h0.7v0.7h-0.7zM306.8 298.2h0.7v0.7h-0.7zM290.9 291.7h0.7v0.7h-0.7zM294.7 288.6h0.7v0.7h-0.7zM293.0 286.1h0.7v0.7h-0.7zM296.0 299.8h0.7v0.7h-0.7zM299.1 291.6h0.7v0.7h-0.7zM296.1 284.5h0.7v0.7h-0.7zM295.0 296.4h0.7v0.7h-0.7zM299.7 300.8h0.7v0.7h-0.7zM297.2 288.9h0.7v0.7h-0.7zM288.7 291.4h0.7v0.7h-0.7zM288.2 298.2h0.7v0.7h-0.7zM293.2 289.0h0.7v0.7h-0.7zM289.9 286.0h0.7v0.7h-0.7zM291.8 295.8h0.7v0.7h-0.7zM297.1 281.9h0.7v0.7h-0.7zM287.3 288.6h0.7v0.7h-0.7zM293.8 282.3h0.7v0.7h-0.7zM298.7 287.9h0.7v0.7h-0.7zM296.5 285.5h0.7v0.7h-0.7zM293.4 286.2h0.7v0.7h-0.7zM288.8 292.8h0.7v0.7h-0.7zM297.8 278.7h0.7v0.7h-0.7zM296.5 295.9h0.7v0.7h-0.7zM297.1 296.8h0.7v0.7h-0.7zM294.8 289.0h0.7v0.7h-0.7zM290.2 283.6h0.7v0.7h-0.7zM287.8 283.6h0.7v0.7h-0.7zM297.1 292.1h0.7v0.7h-0.7zM301.2 289.8h0.7v0.7h-0.7zM291.5 291.6h0.7v0.7h-0.7zM295.3 299.7h0.7v0.7h-0.7zM304.8 294.8h0.7v0.7h-0.7zM290.9 285.8h0.7v0.7h-0.7zM296.9 284.7h0.7v0.7h-0.7zM298.4 293.1h0.7v0.7h-0.7zM299.8 290.4h0.7v0.7h-0.7zM292.0 283.9h0.7v0.7h-0.7zM295.4 297.0h0.7v0.7h-0.7zM303.1 294.9h0.7v0.7h-0.7zM297.6 293.1h0.7v0.7h-0.7zM299.7 296.8h0.7v0.7h-0.7zM299.9 279.8h0.7v0.7h-0.7zM300.3 291.3h0.7v0.7h-0.7zM293.9 292.2h0.7v0.7h-0.7zM297.3 288.7h0.7v0.7h-0.7zM288.4 289.7h0.7v0.7h-0.7zM298.5 288.7h0.7v0.7h-0.7zM288.9 291.7h0.7v0.7h-0.7zM299.2 290.1h0.7v0.7h-0.7zM297.9 286.9h0.7v0.7h-0.7zM293.0 292.1h0.7v0.7h-0.7zM294.4 290.1h0.7v0.7h-0.7zM310.6 293.3h0.7v0.7h-0.7zM296.6 279.3h0.7v0.7h-0.7zM296.4 293.5h0.7v0.7h-0.7zM292.8 287.6h0.7v0.7h-0.7zM293.3 293.1h0.7v0.7h-0.7zM302.1 288.0h0.7v0.7h-0.7zM300.4 290.5h0.7v0.7h-0.7zM295.1 287.3h0.7v0.7h-0.7zM292.2 296.7h0.7v0.7h-0.7zM300.0 283.0h0.7v0.7h-0.7zM299.8 284.6h0.7v0.7h-0.7zM289.2 296.2h0.7v0.7h-0.7zM290.2 296.1h0.7v0.7h-0.7zM296.9 294.4h0.7v0.7h-0.7zM298.3 295.9h0.7v0.7h-0.7zM297.6 292.5h0.7v0.7h-0.7zM297.1 295.6h0.7v0.7h-0.7zM294.2 295.1h0.7v0.7h-0.7zM302.8 288.6h0.7v0.7h-0.7zM298.0 285.9h0.7v0.7h-0.7zM294.7 290.6h0.7v0.7h-0.7zM294.5 283.7h0.7v0.7h-0.7zM295.9 290.1h0.7v0.7h-0.7zM297.5 293.3h0.7v0.7h-0.7zM288.0 297.5h0.7v0.7h-0.7zM295.2 284.4h0.7v0.7h-0.7zM294.3 291.7h0.7v0.7h-0.7zM299.9 286.8h0.7v0.7h-0.7zM296.7 279.4h0.7v0.7h-0.7z"/>
<path fill="#4a66dc" d="M305.0 293.1h0.7v0.7h-0.7zM301.4 301.1h0.7v0.7h-0.7zM314.8 302.3h0.7v0.7h-0.7zM299.3 306.2h0.7v0.7h-0.7zM302.0 293.7h0.7v0.7h-0.7zM300.5 297.6h0.7v0.7h-0.7zM307.3 295.2h0.7v0.7h-0.7zM302.7 292.9h0.7v0.7h-0.7zM301.6 301.8h0.7v0.7h-0.7zM300.9 292.8h0.7v0.7h-0.7zM302.7 288.0h0.7v0.7h-0.7zM302.6 282.3h0.7v0.7h-0.7zM306.4 298.3h0.7v0.7h-0.7zM302.2 306.4h0.7v0.7h-0.7zM299.1 298.4h0.7v0.7h-0.7zM306.9 289.7h0.7v0.7h-0.7zM302.6 301.1h0.7v0.7h-0.7zM304.4 296.3h0.7v0.7h-0.7zM312.4 295.7h0.7v0.7h-0.7zM294.0 288.1h0.7v0.7h-0.7zM309.0 293.0h0.7v0.7h-0.7zM297.6 278.3h0.7v0.7h-0.7zM305.9 306.0h0.7v0.7h-0.7zM296.5 276.7h0.7v0.7h-0.7zM307.0 289.7h0.7v0.7h-0.7zM302.2 291.4h0.7v0.7h-0.7zM298.6 297.5h0.7v0.7h-0.7zM309.5 296.9h0.7v0.7h-0.7zM300.7 302.3h0.7v0.7h-0.7zM303.3 298.6h0.7v0.7h-0.7zM298.4 299.2h0.7v0.7h-0.7zM308.4 304.3h0.7v0.7h-0.7zM304.2 297.5h0.7v0.7h-0.7zM300.6 301.0h0.7v0.7h-0.7zM308.6 302.6h0.7v0.7h-0.7zM301.7 284.3h0.7v0.7h-0.7zM303.6 292.4h0.7v0.7h-0.7zM299.6 298.8h0.7v0.7h-0.7zM309.6 297.1h0.7v0.7h-0.7zM310.6 297.1h0.7v0.7h-0.7zM298.2 289.4h0.7v0.7h-0.7zM301.9 299.4h0.7v0.7h-0.7zM309.5 295.1h0.7v0.7h-0.7zM310.0 287.5h0.7v0.7h-0.7zM303.3 305.8h0.7v0.7h-0.7zM306.6 302.3h0.7v0.7h-0.7zM292.8 280.8h0.7v0.7h-0.7zM298.9 302.0h0.7v0.7h-0.7zM313.6 289.1h0.7v0.7h-0.7zM298.2 286.0h0.7v0.7h-0.7zM298.7 298.4h0.7v0.7h-0.7zM302.2 308.8h0.7v0.7h-0.7zM308.3 288.6h0.7v0.7h-0.7zM305.4 292.8h0.7v0.7h-0.7zM308.7 301.2h0.7v0.7h-0.7zM302.0 301.1h0.7v0.7h-0.7zM307.4 293.3h0.7v0.7h-0.7zM305.5 299.4h0.7v0.7h-0.7zM302.1 288.7h0.7v0.7h-0.7zM311.5 294.1h0.7v0.7h-0.7zM300.5 297.7h0.7v0.7h-0.7zM295.3 294.5h0.7v0.7h-0.7zM296.0 290.7h0.7v0.7h-0.7zM293.5 288.4h0.7v0.7h-0.7zM309.3 292.6h0.7v0.7h-0.7zM296.9 307.7h0.7v0.7h-0.7zM300.3 305.7h0.7v0.7h-0.7zM300.9 282.5h0.7v0.7h-0.7zM314.9 290.6h0.7v0.7h-0.7zM308.5 303.4h0.7v0.7h-0.7zM296.3 294.6h0.7v0.7h-0.7zM300.6 298.8h0.7v0.7h-0.7zM304.0 284.1h0.7v0.7h-0.7zM304.4 300.0h0.7v0.7h-0.7zM302.3 298.5h0.7v0.7h-0.7zM300.9 293.6h0.7v0.7h-0.7zM306.1 295.2h0.7v0.7h-0.7zM311.5 301.5h0.7v0.7h-0.7zM309.0 299.7h0.7v0.7h-0.7zM305.0 284.9h0.7v0.7h-0.7zM310.3 307.7h0.7v0.7h-0.7zM305.4 292.1h0.7v0.7h-0.7zM303.8 303.5h0.7v0.7h-0.7zM305.7 286.4h0.7v0.7h-0.7zM303.0 288.0h0.7v0.7h-0.7zM302.9 287.0h0.7v0.7h-0.7zM298.9 305.7h0.7v0.7h-0.7zM310.2 281.5h0.7v0.7h-0.7zM298.3 290.6h0.7v0.7h-0.7zM301.8 283.2h0.7v0.7h-0.7zM309.3 281.4h0.7v0.7h-0.7zM308.1 299.5h0.7v0.7h-0.7zM301.9 288.9h0.7v0.7h-0.7zM304.4 295.2h0.7v0.7h-0.7zM291.7 284.3h0.7v0.7h-0.7zM307.2 293.2h0.7v0.7h-0.7zM301.6 286.3h0.7v0.7h-0.7zM299.9 288.1h0.7v0.7h-0.7zM320.4 284.3h0.7v0.7h-0.7zM313.0 297.8h0.7v0.7h-0.7zM305.3 295.6h0.7v0.7h-0.7zM301.8 306.6h0.7v0.7h-0.7zM307.0 293.8h0.7v0.7h-0.7zM303.3 295.6h0.7v0.7h-0.7zM297.4 291.6h0.7v0.7h-0.7zM300.4 298.9h0.7v0.7h-0.7zM307.6 279.5h0.7v0.7h-0.7zM302.7 301.8h0.7v0.7h-0.7zM296.5 284.8h0.7v0.7h-0.7zM309.9 293.1h0.7v0.7h-0.7zM301.4 284.6h0.7v0.7h-0.7zM305.0 289.7h0.7v0.7h-0.7zM305.3 297.4h0.7v0.7h-0.7zM308.2 291.5h0.7v0.7h-0.7zM301.0 294.3h0.7v0.7h-0.7zM303.5 295.4h0.7v0.7h-0.7zM300.9 292.2h0.7v0.7h-0.7zM300.6 289.5h0.7v0.7h-0.7zM305.0 303.1h0.7v0.7h-0.7zM300.9 298.6h0.7v0.7h-0.7zM306.1 294.9h0.7v0.7h-0.7zM308.0 289.7h0.7v0.7h-0.7zM307.4 296.4h0.7v0.7h-0.7zM307.6 309.4h0.7v0.7h-0.7zM297.8 294.8h0.7v0.7h-0.7zM306.1 286.5h0.7v0.7h-0.7zM311.1 297.6h0.7v0.7h-0.7zM299.4 284.7h0.7v0.7h-0.7zM301.6 312.6h0.7v0.7h-0.7zM316.7 274.7h0.7v0.7h-0.7zM293.4 299.3h0.7v0.7h-0.7zM303.4 289.1h0.7v0.7h-0.7zM307.6 294.8h0.7v0.7h-0.7zM305.7 296.1h0.7v0.7h-0.7zM297.7 304.4h0.7v0.7h-0.7zM301.3 302.9h0.7v0.7h-0.7zM308.1 294.4h0.7v0.7h-0.7zM304.9 293.7h0.7v0.7h-0.7zM293.2 291.5h0.7v0.7h-0.7zM306.6 281.4h0.7v0.7h-0.7zM295.3 302.5h0.7v0.7h-0.7zM308.8 281.9h0.7v0.7h-0.7zM306.8 293.7h0.7v0.7h-0.7zM309.8 291.5h0.7v0.7h-0.7zM302.7 288.2h0.7v0.7h-0.7zM305.1 293.1h0.7v0.7h-0.7zM300.2 291.3h0.7v0.7h-0.7zM299.6 299.0h0.7v0.7h-0.7zM298.0 281.8h0.7v0.7h-0.7zM298.4 302.6h0.7v0.7h-0.7zM301.0 299.1h0.7v0.7h-0.7zM308.4 290.0h0.7v0.7h-0.7zM308.5 298.0h0.7v0.7h-0.7zM303.8 288.5h0.7v0.7h-0.7zM303.7 284.0h0.7v0.7h-0.7zM302.4 289.5h0.7v0.7h-0.7zM306.6 296.7h0.7v0.7h-0.7zM300.2 300.9h0.7v0.7h-0.7zM311.1 294.6h0.7v0.7h-0.7zM299.7 298.0h0.7v0.7h-0.7zM289.6 289.4h0.7v0.7h-0.7zM307.5 309.8h0.7v0.7h-0.7zM299.7 306.1h0.7v0.7h-0.7zM317.8 308.9h0.7v0.7h-0.7zM290.1 302.7h0.7v0.7h-0.7zM305.2 302.0h0.7v0.7h-0.7zM303.0 289.2h0.7v0.7h-0.7zM302.7 305.9h0.7v0.7h-0.7zM309.0 291.7h0.7v0.7h-0.7zM306.3 300.9h0.7v0.7h-0.7zM307.4 293.7h0.7v0.7h-0.7zM300.1 288.2h0.7v0.7h-0.7zM301.4 289.7h0.7v0.7h-0.7zM294.7 282.8h0.7v0.7h-0.7zM309.2 285.2h0.7v0.7h-0.7zM296.2 293.7h0.7v0.7h-0.7zM312.6 304.0h0.7v0.7h-0.7zM301.6 285.8h0.7v0.7h-0.7zM300.8 286.8h0.7v0.7h-0.7zM300.8 297.8h0.7v0.7h-0.7zM297.7 287.8h0.7v0.7h-0.7zM302.5 293.8h0.7v0.7h-0.7zM299.5 287.8h0.7v0.7h-0.7zM297.3 288.0h0.7v0.7h-0.7zM307.1 292.1h0.7v0.7h-0.7zM303.6 287.1h0.7v0.7h-0.7zM294.1 303.3h0.7v0.7h-0.7zM316.7 311.4h0.7v0.7h-0.7zM299.6 294.3h0.7v0.7h-0.7zM308.7 284.2h0.7v0.7h-0.7zM314.4 288.3h0.7v0.7h-0.7zM306.1 284.8h0.7v0.7h-0.7zM306.2 293.9h0.7v0.7h-0.7zM310.5 284.8h0.7v0.7h-0.7zM304.0 308.5h0.7v0.7h-0.7zM296.9 296.8h0.7v0.7h-0.7zM306.6 290.0h0.7v0.7h-0.7zM316.7 289.6h0.7v0.7h-0.7zM323.7 286.3h0.7v0.7h-0.7zM319.3 279.5h0.7v0.7h-0.7zM318.5 291.2h0.7v0.7h-0.7zM323.3 278.6h0.7v0.7h-0.7zM307.7 281.4h0.7v0.7h-0.7zM318.8 281.8h0.7v0.7h-0.7zM316.5 285.4h0.7v0.7h-0.7zM322.5 284.8h0.7v0.7h-0.7zM324.3 278.3h0.7v0.7h-0.7zM320.3 285.7h0.7v0.7h-0.7zM310.6 289.0h0.7v0.7h-0.7zM310.0 278.2h0.7v0.7h-0.7zM331.4 289.2h0.7v0.7h-0.7zM319.9 289.4h0.7v0.7h-0.7zM323.8 279.5h0.7v0.7h-0.7zM320.4 289.6h0.7v0.7h-0.7zM317.2 284.3h0.7v0.7h-0.7zM315.7 286.9h0.7v0.7h-0.7zM315.2 281.6h0.7v0.7h-0.7zM311.9 280.3h0.7v0.7h-0.7zM319.1 285.9h0.7v0.7h-0.7zM316.1 279.8h0.7v0.7h-0.7zM319.7 285.4h0.7v0.7h-0.7zM324.4 282.0h0.7v0.7h-0.7zM315.9 286.1h0.7v0.7h-0.7zM325.7 283.8h0.7v0.7h-0.7zM317.6 280.2h0.7v0.7h-0.7zM316.1 287.8h0.7v0.7h-0.7zM322.3 288.5h0.7v0.7h-0.7zM309.8 287.4h0.7v0.7h-0.7zM313.4 286.4h0.7v0.7h-0.7zM306.1 283.6h0.7v0.7h-0.7zM313.6 289.1h0.7v0.7h-0.7zM318.6 289.2h0.7v0.7h-0.7zM315.8 291.9h0.7v0.7h-0.7zM315.8 291.6h0.7v0.7h-0.7zM315.6 280.1h0.7v0.7h-0.7zM322.5 282.4h0.7v0.7h-0.7zM317.7 278.6h0.7v0.7h-0.7zM316.3 284.5h0.7v0.7h-0.7zM314.4 285.6h0.7v0.7h-0.7zM306.4 287.6h0.7v0.7h-0.7zM315.9 289.9h0.7v0.7h-0.7zM316.2 281.4h0.7v0.7h-0.7zM315.7 285.1h0.7v0.7h-0.7zM321.0 282.1h0.7v0.7h-0.7zM314.0 285.7h0.7v0.7h-0.7zM322.2 277.0h0.7v0.7h-0.7zM312.7 281.3h0.7v0.7h-0.7zM326.6 289.0h0.7v0.7h-0.7zM322.0 286.0h0.7v0.7h-0.7zM312.4 288.5h0.7v0.7h-0.7zM315.8 280.8h0.7v0.7h-0.7zM327.8 278.1h0.7v0.7h-0.7zM325.0 284.8h0.7v0.7h-0.7zM313.4 284.7h0.7v0.7h-0.7zM313.7 284.8h0.7v0.7h-0.7zM314.7 279.2h0.7v0.7h-0.7zM331.5 282.0h0.7v0.7h-0.7zM323.0 283.8h0.7v0.7h-0.7zM321.4 278.9h0.7v0.7h-0.7zM323.1 285.8h0.7v0.7h-0.7zM312.1 287.4h0.7v0.7h-0.7zM321.0 295.9h0.7v0.7h-0.7zM319.2 287.7h0.7v0.7h-0.7zM321.1 287.1h0.7v0.7h-0.7zM317.9 282.3h0.7v0.7h-0.7zM321.6 289.0h0.7v0.7h-0.7zM312.1 279.4h0.7v0.7h-0.7zM317.8 291.3h0.7v0.7h-0.7zM317.0 277.1h0.7v0.7h-0.7zM322.1 287.1h0.7v0.7h-0.7zM327.9 284.8h0.7v0.7h-0.7zM328.0 281.1h0.7v0.7h-0.7zM322.6 284.6h0.7v0.7h-0.7zM312.0 282.9h0.7v0.7h-0.7zM324.8 288.5h0.7v0.7h-0.7zM316.1 288.5h0.7v0.7h-0.7zM322.6 287.7h0.7v0.7h-0.7zM319.5 285.3h0.7v0.7h-0.7zM313.8 283.7h0.7v0.7h-0.7zM318.6 281.0h0.7v0.7h-0.7zM316.6 284.7h0.7v0.7h-0.7zM319.1 288.3h0.7v0.7h-0.7zM312.8 282.4h0.7v0.7h-0.7zM319.4 282.5h0.7v0.7h-0.7zM319.7 282.1h0.7v0.7h-0.7zM324.0 283.1h0.7v0.7h-0.7zM312.3 287.1h0.7v0.7h-0.7zM326.4 276.2h0.7v0.7h-0.7zM317.4 284.3h0.7v0.7h-0.7zM323.3 290.1h0.7v0.7h-0.7zM317.2 277.7h0.7v0.7h-0.7zM321.4 288.1h0.7v0.7h-0.7zM320.4 284.3h0.7v0.7h-0.7zM313.9 293.9h0.7v0.7h-0.7zM312.0 277.9h0.7v0.7h-0.7zM323.0 285.2h0.7v0.7h-0.7zM321.4 285.5h0.7v0.7h-0.7zM326.6 289.8h0.7v0.7h-0.7zM315.2 288.1h0.7v0.7h-0.7zM312.1 277.1h0.7v0.7h-0.7zM324.1 282.3h0.7v0.7h-0.7zM307.2 283.9h0.7v0.7h-0.7zM314.7 286.1h0.7v0.7h-0.7zM317.7 280.9h0.7v0.7h-0.7zM314.4 287.1h0.7v0.7h-0.7zM313.3 284.5h0.7v0.7h-0.7zM313.0 285.9h0.7v0.7h-0.7zM327.0 286.3h0.7v0.7h-0.7zM323.7 285.9h0.7v0.7h-0.7zM313.2 282.8h0.7v0.7h-0.7zM318.4 285.8h0.7v0.7h-0.7zM315.0 286.5h0.7v0.7h-0.7zM314.4 284.3h0.7v0.7h-0.7zM318.0 279.4h0.7v0.7h-0.7zM323.1 284.2h0.7v0.7h-0.7zM318.6 283.9h0.7v0.7h-0.7z"/>
<path fill="#7f93e6" d="M290.6 309.1h0.7v0.7h-0.7zM292.5 305.6h0.7v0.7h-0.7zM289.8 292.4h0.7v0.7h-0.7zM293.2 309.7h0.7v0.7h-0.7zM298.5 301.3h0.7v0.7h-0.7zM295.9 307.1h0.7v0.7h-0.7zM297.8 290.9h0.7v0.7h-0.7zM299.9 293.0h0.7v0.7h-0.7zM294.0 313.2h0.7v0.7h-0.7zM310.8 313.2h0.7v0.7h-0.7zM298.6 293.0h0.7v0.7h-0.7zM291.4 315.2h0.7v0.7h-0.7zM298.1 287.5h0.7v0.7h-0.7zM305.5 305.3h0.7v0.7h-0.7zM304.0 303.7h0.7v0.7h-0.7zM295.2 298.5h0.7v0.7h-0.7zM305.2 294.0h0.7v0.7h-0.7zM295.4 299.5h0.7v0.7h-0.7zM295.5 290.7h0.7v0.7h-0.7zM288.6 276.7h0.7v0.7h-0.7zM298.1 298.2h0.7v0.7h-0.7zM297.3 290.5h0.7v0.7h-0.7zM296.1 291.2h0.7v0.7h-0.7zM289.9 303.1h0.7v0.7h-0.7zM299.9 305.3h0.7v0.7h-0.7zM295.8 296.6h0.7v0.7h-0.7zM304.5 311.3h0.7v0.7h-0.7zM292.2 290.2h0.7v0.7h-0.7zM298.3 303.0h0.7v0.7h-0.7zM290.5 320.8h0.7v0.7h-0.7zM297.5 309.0h0.7v0.7h-0.7zM304.7 312.8h0.7v0.7h-0.7zM294.5 300.4h0.7v0.7h-0.7zM290.7 303.6h0.7v0.7h-0.7zM289.7 281.6h0.7v0.7h-0.7zM288.1 310.1h0.7v0.7h-0.7zM303.8 309.1h0.7v0.7h-0.7zM300.0 310.3h0.7v0.7h-0.7zM297.6 307.9h0.7v0.7h-0.7zM298.9 307.2h0.7v0.7h-0.7zM289.9 294.1h0.7v0.7h-0.7zM290.0 307.6h0.7v0.7h-0.7zM299.1 292.9h0.7v0.7h-0.7zM290.1 294.8h0.7v0.7h-0.7zM301.3 299.0h0.7v0.7h-0.7zM294.6 293.8h0.7v0.7h-0.7zM295.3 314.5h0.7v0.7h-0.7zM291.9 296.9h0.7v0.7h-0.7zM306.3 306.6h0.7v0.7h-0.7zM289.2 309.9h0.7v0.7h-0.7zM288.4 305.1h0.7v0.7h-0.7zM301.6 294.7h0.7v0.7h-0.7zM291.7 300.5h0.7v0.7h-0.7zM296.1 295.8h0.7v0.7h-0.7zM292.0 316.4h0.7v0.7h-0.7zM305.1 303.0h0.7v0.7h-0.7zM289.1 295.3h0.7v0.7h-0.7zM294.3 304.5h0.7v0.7h-0.7zM305.7 295.3h0.7v0.7h-0.7zM296.9 296.2h0.7v0.7h-0.7zM296.9 293.8h0.7v0.7h-0.7zM298.3 310.6h0.7v0.7h-0.7zM293.7 297.1h0.7v0.7h-0.7zM296.7 288.2h0.7v0.7h-0.7zM307.0 287.9h0.7v0.7h-0.7zM293.9 292.1h0.7v0.7h-0.7zM305.1 295.7h0.7v0.7h-0.7zM293.0 317.2h0.7v0.7h-0.7zM295.3 293.0h0.7v0.7h-0.7zM296.0 301.8h0.7v0.7h-0.7zM291.5 298.4h0.7v0.7h-0.7zM294.8 306.6h0.7v0.7h-0.7zM300.7 307.6h0.7v0.7h-0.7zM295.3 307.3h0.7v0.7h-0.7zM294.8 310.6h0.7v0.7h-0.7zM298.5 296.2h0.7v0.7h-0.7zM303.5 286.4h0.7v0.7h-0.7zM290.2 292.8h0.7v0.7h-0.7zM295.3 288.9h0.7v0.7h-0.7zM288.8 283.0h0.7v0.7h-0.7zM296.7 293.1h0.7v0.7h-0.7zM309.3 307.1h0.7v0.7h-0.7zM289.1 312.0h0.7v0.7h-0.7zM296.7 309.8h0.7v0.7h-0.7zM289.3 310.6h0.7v0.7h-0.7zM302.7 296.3h0.7v0.7h-0.7zM290.9 296.6h0.7v0.7h-0.7zM297.6 321.9h0.7v0.7h-0.7zM307.0 313.7h0.7v0.7h-0.7zM294.7 297.1h0.7v0.7h-0.7zM298.3 297.6h0.7v0.7h-0.7zM293.2 298.2h0.7v0.7h-0.7zM301.1 299.5h0.7v0.7h-0.7zM297.5 297.7h0.7v0.7h-0.7zM294.9 297.1h0.7v0.7h-0.7zM303.7 302.2h0.7v0.7h-0.7zM305.1 298.5h0.7v0.7h-0.7zM302.5 287.6h0.7v0.7h-0.7zM293.6 299.5h0.7v0.7h-0.7zM292.2 299.0h0.7v0.7h-0.7zM290.5 298.6h0.7v0.7h-0.7zM292.0 300.0h0.7v0.7h-0.7zM294.3 291.0h0.7v0.7h-0.7zM293.6 300.3h0.7v0.7h-0.7zM288.4 300.9h0.7v0.7h-0.7zM303.6 298.0h0.7v0.7h-0.7zM299.4 305.7h0.7v0.7h-0.7zM291.2 312.0h0.7v0.7h-0.7zM311.2 290.8h0.7v0.7h-0.7zM309.0 293.7h0.7v0.7h-0.7zM304.8 283.7h0.7v0.7h-0.7zM302.9 301.3h0.7v0.7h-0.7zM288.3 292.6h0.7v0.7h-0.7zM289.7 291.9h0.7v0.7h-0.7zM298.3 298.4h0.7v0.7h-0.7zM298.9 300.9h0.7v0.7h-0.7zM306.2 283.4h0.7v0.7h-0.7zM297.5 300.3h0.7v0.7h-0.7zM300.4 287.9h0.7v0.7h-0.7zM288.2 298.5h0.7v0.7h-0.7zM296.5 283.7h0.7v0.7h-0.7zM298.3 300.0h0.7v0.7h-0.7zM300.5 276.4h0.7v0.7h-0.7zM299.1 292.0h0.7v0.7h-0.7zM293.2 307.1h0.7v0.7h-0.7zM306.2 301.4h0.7v0.7h-0.7zM295.4 311.9h0.7v0.7h-0.7zM290.6 298.7h0.7v0.7h-0.7zM293.0 291.2h0.7v0.7h-0.7zM297.2 318.5h0.7v0.7h-0.7zM297.5 304.6h0.7v0.7h-0.7zM295.9 310.3h0.7v0.7h-0.7zM335.9 276.4h0.7v0.7h-0.7zM335.5 283.4h0.7v0.7h-0.7zM334.6 282.6h0.7v0.7h-0.7zM334.7 285.1h0.7v0.7h-0.7zM336.5 281.0h0.7v0.7h-0.7zM333.6 281.5h0.7v0.7h-0.7zM333.9 274.6h0.7v0.7h-0.7zM336.6 275.4h0.7v0.7h-0.7zM342.5 281.4h0.7v0.7h-0.7zM335.1 281.1h0.7v0.7h-0.7zM322.0 283.7h0.7v0.7h-0.7zM331.8 281.0h0.7v0.7h-0.7zM333.0 280.1h0.7v0.7h-0.7zM337.2 273.9h0.7v0.7h-0.7zM330.4 283.5h0.7v0.7h-0.7zM332.0 280.7h0.7v0.7h-0.7zM328.1 276.3h0.7v0.7h-0.7zM325.9 279.8h0.7v0.7h-0.7zM340.9 279.3h0.7v0.7h-0.7zM333.7 279.8h0.7v0.7h-0.7zM337.4 278.1h0.7v0.7h-0.7zM337.8 284.9h0.7v0.7h-0.7zM328.7 284.8h0.7v0.7h-0.7zM318.0 315.8h0.7v0.7h-0.7zM314.9 304.2h0.7v0.7h-0.7zM317.9 315.1h0.7v0.7h-0.7zM319.5 297.3h0.7v0.7h-0.7zM318.4 303.2h0.7v0.7h-0.7zM307.2 308.9h0.7v0.7h-0.7zM307.3 324.7h0.7v0.7h-0.7zM314.6 308.2h0.7v0.7h-0.7zM308.5 308.1h0.7v0.7h-0.7zM308.2 310.8h0.7v0.7h-0.7zM317.0 312.8h0.7v0.7h-0.7zM300.0 303.4h0.7v0.7h-0.7zM310.8 296.2h0.7v0.7h-0.7zM313.1 304.9h0.7v0.7h-0.7zM310.5 309.1h0.7v0.7h-0.7zM305.1 318.6h0.7v0.7h-0.7zM318.4 301.7h0.7v0.7h-0.7zM313.8 312.1h0.7v0.7h-0.7zM303.9 303.2h0.7v0.7h-0.7zM315.7 285.3h0.7v0.7h-0.7zM299.5 308.7h0.7v0.7h-0.7zM315.1 298.6h0.7v0.7h-0.7zM317.0 323.9h0.7v0.7h-0.7zM311.8 305.8h0.7v0.7h-0.7zM310.6 297.9h0.7v0.7h-0.7zM314.5 307.5h0.7v0.7h-0.7zM316.1 317.6h0.7v0.7h-0.7zM310.4 307.5h0.7v0.7h-0.7zM312.7 320.1h0.7v0.7h-0.7zM298.4 306.1h0.7v0.7h-0.7zM305.0 307.1h0.7v0.7h-0.7zM316.8 306.6h0.7v0.7h-0.7zM316.0 307.6h0.7v0.7h-0.7zM304.4 300.8h0.7v0.7h-0.7zM299.0 307.9h0.7v0.7h-0.7zM306.9 312.9h0.7v0.7h-0.7zM317.9 299.0h0.7v0.7h-0.7zM301.4 311.0h0.7v0.7h-0.7zM303.0 307.8h0.7v0.7h-0.7zM315.0 303.0h0.7v0.7h-0.7zM324.4 299.9h0.7v0.7h-0.7zM313.5 302.8h0.7v0.7h-0.7zM286.9 304.7h0.7v0.7h-0.7zM308.8 310.8h0.7v0.7h-0.7zM309.0 300.2h0.7v0.7h-0.7zM305.9 303.6h0.7v0.7h-0.7zM316.2 303.9h0.7v0.7h-0.7zM320.0 313.0h0.7v0.7h-0.7zM304.1 314.4h0.7v0.7h-0.7zM291.9 306.3h0.7v0.7h-0.7zM302.2 305.3h0.7v0.7h-0.7zM319.4 306.1h0.7v0.7h-0.7zM308.7 316.4h0.7v0.7h-0.7zM304.0 299.4h0.7v0.7h-0.7zM317.9 311.0h0.7v0.7h-0.7zM298.6 307.3h0.7v0.7h-0.7zM316.4 304.8h0.7v0.7h-0.7zM306.9 307.2h0.7v0.7h-0.7zM311.8 300.4h0.7v0.7h-0.7zM316.8 293.4h0.7v0.7h-0.7z"/>
<ellipse cx="304" cy="285" rx="13" ry="2.6" fill="#3ecfd0" opacity="0.6" filter="url(#b2)" transform="rotate(-12 304 285)"/>
<ellipse cx="305" cy="284.3" rx="7" ry="2" fill="#58c844" opacity="1" filter="url(#b2)" transform="rotate(-12 305 284.3)"/>
<ellipse cx="294" cy="288" rx="3" ry="2.5" fill="#40c0a0" opacity="0.55" filter="url(#b2)"/>
<ellipse cx="304.3" cy="284.4" rx="2.6" ry="1.5" fill="#e8d830" opacity="1" filter="url(#b2)"/>
<ellipse cx="304.5" cy="284.3" rx="1.4" ry="1" fill="#e04020" opacity="1" filter="url(#b2)"/>
<rect x="286.4" y="272.2" width="60" height="58.5" fill="none" stroke="#ababab" stroke-width="0.6"/>
<line x1="286.4" y1="272.2" x2="286.4" y2="330.7" stroke="#333" stroke-width="0.9" />
<line x1="286.4" y1="330.7" x2="346.4" y2="330.7" stroke="#333" stroke-width="0.9" />
<rect x="289" y="275.4" width="11.4" height="41.8" rx="0" fill="none" stroke="#444" stroke-width="0.9"/>
<rect x="300.4" y="275.4" width="12" height="41.8" rx="0" fill="none" stroke="#444" stroke-width="0.9"/>
<rect x="312.4" y="275.4" width="12.5" height="41.8" rx="0" fill="none" stroke="#444" stroke-width="0.9"/>
<text x="289.9" y="315.6" font-size="8.4" fill="#111" textLength="8.6" lengthAdjust="spacingAndGlyphs" >S3</text>
<text x="301.9" y="315.6" font-size="8.4" fill="#111" textLength="8.6" lengthAdjust="spacingAndGlyphs" >S2</text>
<text x="314.6" y="315.6" font-size="8.4" fill="#111" textLength="8.6" lengthAdjust="spacingAndGlyphs" >S1</text>
<text x="283" y="275.2" font-size="6.2" text-anchor="end" fill="#2a2a2a" style="stroke-width:0.08px">10<tspan dy="-2.4" font-size="3.84">4</tspan></text>
<text x="283" y="289.5" font-size="6.2" text-anchor="end" fill="#2a2a2a" style="stroke-width:0.08px">10<tspan dy="-2.4" font-size="3.84">3</tspan></text>
<text x="283" y="303.8" font-size="6.2" text-anchor="end" fill="#2a2a2a" style="stroke-width:0.08px">10<tspan dy="-2.4" font-size="3.84">2</tspan></text>
<text x="283" y="318.1" font-size="6.2" text-anchor="end" fill="#2a2a2a" style="stroke-width:0.08px">10<tspan dy="-2.4" font-size="3.84">1</tspan></text>
<text x="283" y="332.4" font-size="6.2" text-anchor="end" fill="#2a2a2a" style="stroke-width:0.08px">10<tspan dy="-2.4" font-size="3.84">0</tspan></text>
<text x="288.7" y="339.8" font-size="5.7" text-anchor="middle" fill="#333" style="stroke-width:0.08px">0</text>
<text x="298.5" y="339.8" font-size="5.7" text-anchor="middle" fill="#333" style="stroke-width:0.08px">200</text>
<text x="310.4" y="339.8" font-size="5.7" text-anchor="middle" fill="#333" style="stroke-width:0.08px">400</text>
<text x="321.8" y="339.8" font-size="5.7" text-anchor="middle" fill="#333" style="stroke-width:0.08px">600</text>
<text x="333.2" y="339.8" font-size="5.7" text-anchor="middle" fill="#333" style="stroke-width:0.08px">800</text>
<text x="344.6" y="339.8" font-size="5.7" text-anchor="middle" fill="#333" style="stroke-width:0.08px">1.0K</text>
<line x1="270.4" y1="344.4" x2="270.4" y2="321.1" stroke="#111" stroke-width="1.3" />
<line x1="269.75" y1="344.4" x2="305.4" y2="344.4" stroke="#111" stroke-width="1.3" />
<path d="M267.8,321.6 L270.4,316.3 L273,321.6 L270.4,320.4 Z" fill="#111"/>
<path d="M304.9,342.1 L310.2,344.4 L304.9,346.7 L306.1,344.4 Z" fill="#111"/>
<text x="265.5" y="331.4" font-size="9" text-anchor="middle" textLength="16.1" lengthAdjust="spacingAndGlyphs" transform="rotate(-90 265.5 331.4)" >CD71</text>
<text x="286.9" y="355.2" font-size="8.4" textLength="11.2" lengthAdjust="spacingAndGlyphs" >FSC</text>
<text x="364.5" y="265.9" font-size="12.5" fill="#000" font-weight="bold" >L</text>
<line x1="391.5" y1="281" x2="391.5" y2="351.15" stroke="#1a1a1a" stroke-width="1.1" />
<line x1="388.7" y1="283.7" x2="391.7" y2="283.7" stroke="#1a1a1a" stroke-width="0.99" />
<text x="385.5" y="286.08" font-size="6.7" text-anchor="end" >80</text>
<line x1="388.7" y1="300.43" x2="391.7" y2="300.43" stroke="#1a1a1a" stroke-width="0.99" />
<text x="385.5" y="302.8" font-size="6.7" text-anchor="end" >60</text>
<line x1="388.7" y1="317.15" x2="391.7" y2="317.15" stroke="#1a1a1a" stroke-width="0.99" />
<text x="385.5" y="319.53" font-size="6.7" text-anchor="end" >40</text>
<line x1="388.7" y1="333.88" x2="391.7" y2="333.88" stroke="#1a1a1a" stroke-width="0.99" />
<text x="385.5" y="336.25" font-size="6.7" text-anchor="end" >20</text>
<line x1="388.7" y1="350.6" x2="391.7" y2="350.6" stroke="#1a1a1a" stroke-width="0.99" />
<text x="385.5" y="352.98" font-size="6.7" text-anchor="end" >0</text>
<line x1="388.9" y1="350.5" x2="473.3" y2="350.5" stroke="#1a1a1a" stroke-width="1.1" />
<line x1="406" y1="350.6" x2="406" y2="353.4" stroke="#1a1a1a" stroke-width="0.99" />
<line x1="432.1" y1="350.6" x2="432.1" y2="353.4" stroke="#1a1a1a" stroke-width="0.99" />
<line x1="458" y1="350.6" x2="458" y2="353.4" stroke="#1a1a1a" stroke-width="0.99" />
<line x1="399.3" y1="337.81" x2="399.3" y2="340.98" stroke="#1a1a1a" stroke-width="1.1" />
<line x1="397.7" y1="337.81" x2="400.9" y2="337.81" stroke="#1a1a1a" stroke-width="1.1" />
<rect x="395.95" y="340.98" width="6.7" height="9.62" fill="#a8022f" />
<line x1="406" y1="339.48" x2="406" y2="342.24" stroke="#1a1a1a" stroke-width="1.1" />
<line x1="404.4" y1="339.48" x2="407.6" y2="339.48" stroke="#1a1a1a" stroke-width="1.1" />
<rect x="402.65" y="342.24" width="6.7" height="8.36" fill="#27498a" />
<line x1="412.7" y1="340.31" x2="412.7" y2="341.4" stroke="#1a1a1a" stroke-width="1.1" />
<line x1="411.1" y1="340.31" x2="414.3" y2="340.31" stroke="#1a1a1a" stroke-width="1.1" />
<rect x="409.35" y="341.4" width="6.7" height="9.2" fill="#6aaf3d" />
<line x1="425.4" y1="297.67" x2="425.4" y2="300.01" stroke="#1a1a1a" stroke-width="1.1" />
<line x1="423.8" y1="297.67" x2="427" y2="297.67" stroke="#1a1a1a" stroke-width="1.1" />
<rect x="422.05" y="300.01" width="6.7" height="50.59" fill="#a8022f" />
<line x1="432.1" y1="297.92" x2="432.1" y2="299.59" stroke="#1a1a1a" stroke-width="1.1" />
<line x1="430.5" y1="297.92" x2="433.7" y2="297.92" stroke="#1a1a1a" stroke-width="1.1" />
<rect x="428.75" y="299.59" width="6.7" height="51.01" fill="#27498a" />
<line x1="438.8" y1="293.32" x2="438.8" y2="293.9" stroke="#1a1a1a" stroke-width="1.1" />
<line x1="437.2" y1="293.32" x2="440.4" y2="293.32" stroke="#1a1a1a" stroke-width="1.1" />
<rect x="435.45" y="293.9" width="6.7" height="56.7" fill="#6aaf3d" />
<line x1="451.3" y1="326.18" x2="451.3" y2="328.86" stroke="#1a1a1a" stroke-width="1.1" />
<line x1="449.7" y1="326.18" x2="452.9" y2="326.18" stroke="#1a1a1a" stroke-width="1.1" />
<rect x="447.95" y="328.86" width="6.7" height="21.74" fill="#a8022f" />
<line x1="458" y1="326.85" x2="458" y2="329.11" stroke="#1a1a1a" stroke-width="1.1" />
<line x1="456.4" y1="326.85" x2="459.6" y2="326.85" stroke="#1a1a1a" stroke-width="1.1" />
<rect x="454.65" y="329.11" width="6.7" height="21.49" fill="#27498a" />
<line x1="464.7" y1="335.21" x2="464.7" y2="335.55" stroke="#1a1a1a" stroke-width="1.1" />
<line x1="463.1" y1="335.21" x2="466.3" y2="335.21" stroke="#1a1a1a" stroke-width="1.1" />
<rect x="461.35" y="335.55" width="6.7" height="15.05" fill="#6aaf3d" />
<line x1="425.1" y1="284.2" x2="438.9" y2="284.2" stroke="#1a1a1a" stroke-width="1.1" />
<text x="432" y="283.7" font-size="6.6" text-anchor="middle" letter-spacing="0.25" style="stroke-width:0.35px">*</text>
<line x1="431.8" y1="290.4" x2="438.9" y2="290.4" stroke="#1a1a1a" stroke-width="1.1" />
<text x="435.35" y="289.9" font-size="6.6" text-anchor="middle" letter-spacing="0.25" style="stroke-width:0.35px">*</text>
<line x1="452.3" y1="316.7" x2="465.3" y2="316.7" stroke="#1a1a1a" stroke-width="1.1" />
<text x="458.8" y="316.2" font-size="6.6" text-anchor="middle" letter-spacing="0.25" style="stroke-width:0.35px">**</text>
<line x1="458.6" y1="324.6" x2="465.3" y2="324.6" stroke="#1a1a1a" stroke-width="1.1" />
<text x="461.95" y="324.1" font-size="6.6" text-anchor="middle" letter-spacing="0.25" style="stroke-width:0.35px">**</text>
<rect x="448.6" y="276" width="7.5" height="4.8" fill="#a8022f" />
<text x="458.6" y="280.4" font-size="6.4" fill="#3a3a3a" textLength="20.4" lengthAdjust="spacingAndGlyphs" style="stroke:none"><tspan font-style="italic">Gps2</tspan><tspan dy="-2.69" font-size="3.84" font-style="italic" letter-spacing="0.35">+/+</tspan></text>
<rect x="448.6" y="285.6" width="7.5" height="4.8" fill="#27498a" />
<text x="458.6" y="290" font-size="6.4" fill="#3a3a3a" textLength="20.4" lengthAdjust="spacingAndGlyphs" style="stroke:none"><tspan font-style="italic">Gps2</tspan><tspan dy="-2.69" font-size="3.84" font-style="italic" letter-spacing="0.35">+/-</tspan></text>
<rect x="448.6" y="295.5" width="7.5" height="4.8" fill="#6aaf3d" />
<text x="458.6" y="299.9" font-size="6.4" fill="#3a3a3a" textLength="20.4" lengthAdjust="spacingAndGlyphs" style="stroke:none"><tspan font-style="italic">Gps2</tspan><tspan dy="-2.69" font-size="3.84" font-style="italic" letter-spacing="0.35">-/-</tspan></text>
<text x="371.5" y="315.4" font-size="9.3" text-anchor="middle" textLength="58" lengthAdjust="spacingAndGlyphs" transform="rotate(-90 371.5 315.4)" >Cell frequency (%)</text>
<text x="406" y="363" font-size="7" text-anchor="middle" >S1</text>
<text x="432.1" y="363" font-size="7" text-anchor="middle" >S2</text>
<text x="458" y="363" font-size="7" text-anchor="middle" >S3</text>
<text x="7.6" y="391" font-size="12.5" fill="#000" font-weight="bold" >M</text>
<ellipse cx="50" cy="416" rx="8" ry="4" fill="#c8d0f2" opacity="0.9" filter="url(#b3)"/>
<ellipse cx="46" cy="443" rx="5" ry="5" fill="#c8d0f2" opacity="0.9" filter="url(#b3)"/>
<path fill="#2d48d2" d="M42.9 413.5h0.7v0.7h-0.7zM49.3 411.0h0.7v0.7h-0.7zM46.5 411.0h0.7v0.7h-0.7zM50.9 416.4h0.7v0.7h-0.7zM51.7 414.9h0.7v0.7h-0.7zM48.4 415.4h0.7v0.7h-0.7zM44.4 416.3h0.7v0.7h-0.7zM42.6 415.2h0.7v0.7h-0.7zM49.4 416.1h0.7v0.7h-0.7zM45.6 420.8h0.7v0.7h-0.7zM47.2 414.7h0.7v0.7h-0.7zM47.6 414.8h0.7v0.7h-0.7zM45.7 415.2h0.7v0.7h-0.7zM54.1 416.0h0.7v0.7h-0.7zM47.6 417.5h0.7v0.7h-0.7zM54.1 415.5h0.7v0.7h-0.7zM44.8 421.4h0.7v0.7h-0.7zM41.9 415.2h0.7v0.7h-0.7zM49.3 421.0h0.7v0.7h-0.7zM43.7 410.7h0.7v0.7h-0.7zM49.3 414.9h0.7v0.7h-0.7zM45.6 417.0h0.7v0.7h-0.7zM47.8 416.6h0.7v0.7h-0.7zM45.5 418.8h0.7v0.7h-0.7zM52.3 416.1h0.7v0.7h-0.7zM45.4 417.6h0.7v0.7h-0.7zM48.7 413.7h0.7v0.7h-0.7zM45.4 418.3h0.7v0.7h-0.7zM46.7 415.3h0.7v0.7h-0.7zM47.7 415.9h0.7v0.7h-0.7zM47.0 411.8h0.7v0.7h-0.7zM53.1 416.4h0.7v0.7h-0.7zM43.9 418.2h0.7v0.7h-0.7zM48.1 416.0h0.7v0.7h-0.7zM50.7 421.0h0.7v0.7h-0.7zM48.9 419.5h0.7v0.7h-0.7zM54.6 413.8h0.7v0.7h-0.7zM45.2 417.7h0.7v0.7h-0.7zM41.0 415.4h0.7v0.7h-0.7zM51.5 418.3h0.7v0.7h-0.7zM49.0 411.8h0.7v0.7h-0.7zM55.2 417.2h0.7v0.7h-0.7zM49.7 417.1h0.7v0.7h-0.7zM41.0 412.8h0.7v0.7h-0.7zM42.7 420.2h0.7v0.7h-0.7zM44.1 415.5h0.7v0.7h-0.7zM46.1 417.3h0.7v0.7h-0.7zM48.8 416.6h0.7v0.7h-0.7zM42.6 409.1h0.7v0.7h-0.7zM47.6 416.6h0.7v0.7h-0.7zM51.3 415.8h0.7v0.7h-0.7zM44.9 416.9h0.7v0.7h-0.7zM41.6 413.7h0.7v0.7h-0.7zM43.5 416.6h0.7v0.7h-0.7zM54.3 417.7h0.7v0.7h-0.7zM51.0 416.5h0.7v0.7h-0.7zM48.0 415.0h0.7v0.7h-0.7zM46.0 410.7h0.7v0.7h-0.7zM42.8 413.2h0.7v0.7h-0.7zM49.9 417.5h0.7v0.7h-0.7zM51.0 419.4h0.7v0.7h-0.7zM45.9 418.3h0.7v0.7h-0.7zM53.8 416.0h0.7v0.7h-0.7zM50.8 415.6h0.7v0.7h-0.7zM41.4 416.3h0.7v0.7h-0.7zM44.1 416.2h0.7v0.7h-0.7zM45.4 416.7h0.7v0.7h-0.7zM39.5 420.6h0.7v0.7h-0.7zM51.8 415.2h0.7v0.7h-0.7zM43.8 416.0h0.7v0.7h-0.7zM49.4 416.9h0.7v0.7h-0.7zM48.4 411.7h0.7v0.7h-0.7zM43.0 419.0h0.7v0.7h-0.7zM47.8 412.7h0.7v0.7h-0.7zM44.0 412.8h0.7v0.7h-0.7zM43.4 418.6h0.7v0.7h-0.7zM46.2 418.5h0.7v0.7h-0.7zM47.7 412.7h0.7v0.7h-0.7zM44.7 421.1h0.7v0.7h-0.7zM44.3 413.7h0.7v0.7h-0.7zM51.4 416.2h0.7v0.7h-0.7zM47.0 419.3h0.7v0.7h-0.7zM40.7 416.9h0.7v0.7h-0.7zM43.2 412.9h0.7v0.7h-0.7zM44.1 418.6h0.7v0.7h-0.7zM46.5 411.9h0.7v0.7h-0.7zM43.0 419.4h0.7v0.7h-0.7zM50.7 413.5h0.7v0.7h-0.7zM55.7 415.2h0.7v0.7h-0.7zM42.7 415.7h0.7v0.7h-0.7zM50.3 419.6h0.7v0.7h-0.7zM50.7 415.0h0.7v0.7h-0.7zM45.0 412.7h0.7v0.7h-0.7zM46.7 414.7h0.7v0.7h-0.7zM47.9 413.2h0.7v0.7h-0.7zM45.1 414.0h0.7v0.7h-0.7zM42.7 413.3h0.7v0.7h-0.7zM43.4 413.3h0.7v0.7h-0.7zM49.0 416.2h0.7v0.7h-0.7zM42.3 417.2h0.7v0.7h-0.7zM48.0 419.3h0.7v0.7h-0.7zM46.3 415.5h0.7v0.7h-0.7zM44.5 416.3h0.7v0.7h-0.7zM48.8 416.4h0.7v0.7h-0.7zM46.1 417.3h0.7v0.7h-0.7zM47.3 416.6h0.7v0.7h-0.7zM43.7 416.5h0.7v0.7h-0.7zM43.4 414.1h0.7v0.7h-0.7zM47.6 420.7h0.7v0.7h-0.7zM50.6 416.0h0.7v0.7h-0.7zM46.4 418.2h0.7v0.7h-0.7zM52.0 418.7h0.7v0.7h-0.7zM46.3 416.4h0.7v0.7h-0.7zM45.8 415.4h0.7v0.7h-0.7zM43.9 415.4h0.7v0.7h-0.7zM39.3 413.3h0.7v0.7h-0.7zM48.5 413.9h0.7v0.7h-0.7zM48.9 413.1h0.7v0.7h-0.7zM45.7 416.9h0.7v0.7h-0.7zM43.3 414.4h0.7v0.7h-0.7zM55.9 414.5h0.7v0.7h-0.7zM44.5 414.7h0.7v0.7h-0.7zM47.1 415.9h0.7v0.7h-0.7zM50.5 417.8h0.7v0.7h-0.7zM45.6 415.2h0.7v0.7h-0.7zM41.9 412.6h0.7v0.7h-0.7zM44.4 417.6h0.7v0.7h-0.7zM47.4 417.8h0.7v0.7h-0.7zM50.4 415.6h0.7v0.7h-0.7zM54.5 414.8h0.7v0.7h-0.7zM44.8 415.0h0.7v0.7h-0.7zM51.1 415.7h0.7v0.7h-0.7zM44.4 417.0h0.7v0.7h-0.7zM51.1 415.7h0.7v0.7h-0.7zM46.1 418.4h0.7v0.7h-0.7zM50.5 418.1h0.7v0.7h-0.7zM44.3 416.6h0.7v0.7h-0.7zM48.3 412.0h0.7v0.7h-0.7zM51.3 416.2h0.7v0.7h-0.7zM45.8 421.1h0.7v0.7h-0.7zM47.5 414.4h0.7v0.7h-0.7zM46.8 417.3h0.7v0.7h-0.7zM49.9 415.9h0.7v0.7h-0.7zM43.9 414.4h0.7v0.7h-0.7zM44.1 413.6h0.7v0.7h-0.7zM46.9 414.9h0.7v0.7h-0.7zM47.2 414.1h0.7v0.7h-0.7zM43.9 415.6h0.7v0.7h-0.7zM45.8 418.6h0.7v0.7h-0.7zM43.8 416.5h0.7v0.7h-0.7zM46.9 413.1h0.7v0.7h-0.7zM49.6 416.4h0.7v0.7h-0.7zM39.5 417.3h0.7v0.7h-0.7zM50.4 414.2h0.7v0.7h-0.7zM53.1 416.3h0.7v0.7h-0.7zM42.9 417.3h0.7v0.7h-0.7zM45.7 413.0h0.7v0.7h-0.7zM39.3 416.6h0.7v0.7h-0.7zM44.4 417.4h0.7v0.7h-0.7zM48.4 414.8h0.7v0.7h-0.7zM45.1 420.0h0.7v0.7h-0.7zM53.1 417.7h0.7v0.7h-0.7zM45.7 413.8h0.7v0.7h-0.7zM45.6 419.7h0.7v0.7h-0.7zM48.6 415.4h0.7v0.7h-0.7zM42.6 416.4h0.7v0.7h-0.7zM43.9 416.0h0.7v0.7h-0.7zM49.6 418.4h0.7v0.7h-0.7zM47.5 415.2h0.7v0.7h-0.7zM47.8 420.0h0.7v0.7h-0.7zM48.3 412.9h0.7v0.7h-0.7zM52.5 416.6h0.7v0.7h-0.7zM59.4 414.9h0.7v0.7h-0.7zM46.7 415.3h0.7v0.7h-0.7zM48.3 414.7h0.7v0.7h-0.7zM41.7 411.7h0.7v0.7h-0.7zM46.6 414.8h0.7v0.7h-0.7zM44.9 420.7h0.7v0.7h-0.7zM49.8 418.4h0.7v0.7h-0.7zM45.2 416.7h0.7v0.7h-0.7zM46.2 415.5h0.7v0.7h-0.7zM49.7 417.4h0.7v0.7h-0.7zM48.1 416.3h0.7v0.7h-0.7zM41.9 414.3h0.7v0.7h-0.7zM48.4 415.2h0.7v0.7h-0.7zM44.2 416.8h0.7v0.7h-0.7zM43.7 414.5h0.7v0.7h-0.7zM50.1 415.2h0.7v0.7h-0.7zM52.1 417.2h0.7v0.7h-0.7zM49.9 418.5h0.7v0.7h-0.7zM39.3 415.8h0.7v0.7h-0.7zM42.4 415.0h0.7v0.7h-0.7zM46.6 418.8h0.7v0.7h-0.7zM46.8 419.7h0.7v0.7h-0.7zM45.1 415.9h0.7v0.7h-0.7zM47.3 418.1h0.7v0.7h-0.7zM46.8 414.6h0.7v0.7h-0.7zM45.8 412.9h0.7v0.7h-0.7zM51.5 417.7h0.7v0.7h-0.7zM48.5 416.6h0.7v0.7h-0.7zM44.9 415.1h0.7v0.7h-0.7zM49.9 414.2h0.7v0.7h-0.7zM44.2 419.5h0.7v0.7h-0.7zM52.5 416.7h0.7v0.7h-0.7zM48.9 416.4h0.7v0.7h-0.7zM52.1 415.0h0.7v0.7h-0.7zM47.3 417.1h0.7v0.7h-0.7zM52.1 415.4h0.7v0.7h-0.7zM47.8 414.9h0.7v0.7h-0.7zM44.7 414.5h0.7v0.7h-0.7zM47.3 418.0h0.7v0.7h-0.7zM44.6 414.7h0.7v0.7h-0.7zM45.6 416.8h0.7v0.7h-0.7zM49.5 413.2h0.7v0.7h-0.7zM48.3 413.8h0.7v0.7h-0.7zM49.5 413.9h0.7v0.7h-0.7zM43.2 414.4h0.7v0.7h-0.7zM46.8 413.8h0.7v0.7h-0.7zM47.7 416.3h0.7v0.7h-0.7zM47.3 416.6h0.7v0.7h-0.7zM61.4 412.7h0.7v0.7h-0.7zM57.0 414.4h0.7v0.7h-0.7zM46.7 415.5h0.7v0.7h-0.7zM53.1 412.7h0.7v0.7h-0.7zM54.8 414.7h0.7v0.7h-0.7zM58.7 415.7h0.7v0.7h-0.7zM53.5 416.2h0.7v0.7h-0.7zM59.1 413.5h0.7v0.7h-0.7zM56.9 416.5h0.7v0.7h-0.7zM59.2 416.2h0.7v0.7h-0.7zM57.5 417.4h0.7v0.7h-0.7zM68.1 415.6h0.7v0.7h-0.7zM49.0 418.8h0.7v0.7h-0.7zM54.1 411.0h0.7v0.7h-0.7zM45.1 415.6h0.7v0.7h-0.7zM62.5 417.0h0.7v0.7h-0.7zM55.1 418.1h0.7v0.7h-0.7zM56.6 413.0h0.7v0.7h-0.7zM57.3 415.0h0.7v0.7h-0.7zM57.2 415.5h0.7v0.7h-0.7zM46.0 418.4h0.7v0.7h-0.7zM54.2 416.1h0.7v0.7h-0.7zM53.0 414.9h0.7v0.7h-0.7zM56.1 410.5h0.7v0.7h-0.7zM58.9 416.1h0.7v0.7h-0.7zM51.4 409.3h0.7v0.7h-0.7zM53.8 412.4h0.7v0.7h-0.7zM57.6 414.5h0.7v0.7h-0.7zM65.1 416.1h0.7v0.7h-0.7zM55.7 414.9h0.7v0.7h-0.7zM42.6 412.2h0.7v0.7h-0.7zM52.4 414.2h0.7v0.7h-0.7zM58.6 415.0h0.7v0.7h-0.7zM61.7 412.8h0.7v0.7h-0.7zM58.5 414.2h0.7v0.7h-0.7zM57.1 415.3h0.7v0.7h-0.7zM55.6 415.0h0.7v0.7h-0.7zM56.8 417.1h0.7v0.7h-0.7zM56.4 415.3h0.7v0.7h-0.7zM70.0 416.1h0.7v0.7h-0.7zM59.6 417.2h0.7v0.7h-0.7zM52.0 416.3h0.7v0.7h-0.7zM60.7 415.6h0.7v0.7h-0.7zM61.9 416.5h0.7v0.7h-0.7zM62.9 412.9h0.7v0.7h-0.7zM59.2 413.1h0.7v0.7h-0.7zM63.2 414.8h0.7v0.7h-0.7zM50.5 414.8h0.7v0.7h-0.7zM52.0 417.0h0.7v0.7h-0.7zM55.3 409.0h0.7v0.7h-0.7zM55.1 417.1h0.7v0.7h-0.7zM58.6 412.9h0.7v0.7h-0.7zM60.2 415.9h0.7v0.7h-0.7zM64.3 416.8h0.7v0.7h-0.7zM58.8 412.5h0.7v0.7h-0.7zM58.4 415.3h0.7v0.7h-0.7zM57.1 415.5h0.7v0.7h-0.7zM51.1 415.9h0.7v0.7h-0.7zM57.1 415.4h0.7v0.7h-0.7zM56.5 413.8h0.7v0.7h-0.7zM58.3 416.5h0.7v0.7h-0.7zM55.4 415.3h0.7v0.7h-0.7zM53.2 415.5h0.7v0.7h-0.7zM57.1 411.3h0.7v0.7h-0.7zM62.8 412.3h0.7v0.7h-0.7zM57.4 411.2h0.7v0.7h-0.7zM48.4 416.1h0.7v0.7h-0.7zM50.0 409.3h0.7v0.7h-0.7zM55.9 410.7h0.7v0.7h-0.7zM56.0 419.0h0.7v0.7h-0.7zM55.0 415.4h0.7v0.7h-0.7zM59.8 415.1h0.7v0.7h-0.7zM56.4 418.2h0.7v0.7h-0.7zM56.6 415.4h0.7v0.7h-0.7zM57.6 411.3h0.7v0.7h-0.7zM58.6 414.6h0.7v0.7h-0.7zM60.2 416.2h0.7v0.7h-0.7zM64.8 409.8h0.7v0.7h-0.7zM54.2 413.3h0.7v0.7h-0.7zM52.7 415.5h0.7v0.7h-0.7zM56.6 414.8h0.7v0.7h-0.7zM48.9 412.1h0.7v0.7h-0.7zM56.7 413.4h0.7v0.7h-0.7zM54.0 414.2h0.7v0.7h-0.7zM55.6 411.9h0.7v0.7h-0.7zM65.2 412.8h0.7v0.7h-0.7zM60.2 416.0h0.7v0.7h-0.7zM61.8 413.1h0.7v0.7h-0.7zM52.1 415.6h0.7v0.7h-0.7zM58.3 408.7h0.7v0.7h-0.7zM44.1 413.2h0.7v0.7h-0.7zM55.1 413.8h0.7v0.7h-0.7zM59.0 412.1h0.7v0.7h-0.7zM70.1 416.7h0.7v0.7h-0.7zM63.4 415.2h0.7v0.7h-0.7zM46.7 415.1h0.7v0.7h-0.7zM54.3 415.6h0.7v0.7h-0.7zM56.4 416.2h0.7v0.7h-0.7zM52.7 413.6h0.7v0.7h-0.7zM57.0 412.6h0.7v0.7h-0.7zM54.7 416.0h0.7v0.7h-0.7zM66.5 414.0h0.7v0.7h-0.7zM61.1 411.7h0.7v0.7h-0.7zM54.7 415.3h0.7v0.7h-0.7zM59.8 412.0h0.7v0.7h-0.7zM60.0 414.9h0.7v0.7h-0.7zM63.5 416.8h0.7v0.7h-0.7zM59.7 413.5h0.7v0.7h-0.7zM58.3 412.4h0.7v0.7h-0.7zM52.9 410.0h0.7v0.7h-0.7zM50.6 411.4h0.7v0.7h-0.7zM56.5 414.7h0.7v0.7h-0.7zM50.4 414.3h0.7v0.7h-0.7zM59.0 416.8h0.7v0.7h-0.7zM56.5 415.0h0.7v0.7h-0.7zM55.1 416.8h0.7v0.7h-0.7zM49.3 415.1h0.7v0.7h-0.7zM45.6 418.7h0.7v0.7h-0.7zM61.5 409.3h0.7v0.7h-0.7zM54.4 411.0h0.7v0.7h-0.7zM48.3 413.5h0.7v0.7h-0.7zM52.6 417.0h0.7v0.7h-0.7zM54.4 411.8h0.7v0.7h-0.7zM56.6 415.5h0.7v0.7h-0.7zM61.0 415.7h0.7v0.7h-0.7zM49.6 412.5h0.7v0.7h-0.7zM56.1 412.4h0.7v0.7h-0.7zM60.6 413.6h0.7v0.7h-0.7zM56.6 413.6h0.7v0.7h-0.7zM57.2 410.8h0.7v0.7h-0.7zM67.3 413.1h0.7v0.7h-0.7zM53.4 410.1h0.7v0.7h-0.7zM56.5 411.1h0.7v0.7h-0.7zM58.5 417.4h0.7v0.7h-0.7zM59.9 413.4h0.7v0.7h-0.7zM63.2 414.0h0.7v0.7h-0.7zM56.7 414.6h0.7v0.7h-0.7zM54.6 415.5h0.7v0.7h-0.7zM50.9 410.1h0.7v0.7h-0.7zM62.8 412.7h0.7v0.7h-0.7zM44.8 442.0h0.7v0.7h-0.7zM46.5 450.2h0.7v0.7h-0.7zM46.7 442.7h0.7v0.7h-0.7zM47.2 446.1h0.7v0.7h-0.7zM45.5 448.3h0.7v0.7h-0.7zM42.6 447.0h0.7v0.7h-0.7zM48.0 446.2h0.7v0.7h-0.7zM50.3 442.2h0.7v0.7h-0.7zM47.1 443.8h0.7v0.7h-0.7zM44.3 440.6h0.7v0.7h-0.7zM43.8 445.7h0.7v0.7h-0.7zM39.7 438.9h0.7v0.7h-0.7zM46.2 447.1h0.7v0.7h-0.7zM45.7 447.0h0.7v0.7h-0.7zM45.8 441.3h0.7v0.7h-0.7zM41.7 443.6h0.7v0.7h-0.7zM50.8 443.3h0.7v0.7h-0.7zM43.1 444.8h0.7v0.7h-0.7zM42.2 439.4h0.7v0.7h-0.7zM49.1 444.3h0.7v0.7h-0.7zM48.7 443.8h0.7v0.7h-0.7zM45.7 443.5h0.7v0.7h-0.7zM45.1 446.3h0.7v0.7h-0.7zM42.4 437.0h0.7v0.7h-0.7zM43.6 445.9h0.7v0.7h-0.7zM44.5 435.7h0.7v0.7h-0.7zM53.9 440.0h0.7v0.7h-0.7zM45.5 444.8h0.7v0.7h-0.7zM47.0 442.5h0.7v0.7h-0.7zM41.7 444.7h0.7v0.7h-0.7zM43.3 442.4h0.7v0.7h-0.7zM48.1 441.8h0.7v0.7h-0.7zM41.0 441.1h0.7v0.7h-0.7zM47.7 445.3h0.7v0.7h-0.7zM42.4 443.1h0.7v0.7h-0.7zM46.8 446.4h0.7v0.7h-0.7zM47.1 443.5h0.7v0.7h-0.7zM45.1 444.5h0.7v0.7h-0.7zM48.1 442.5h0.7v0.7h-0.7zM45.2 448.5h0.7v0.7h-0.7zM45.9 440.5h0.7v0.7h-0.7zM47.9 439.1h0.7v0.7h-0.7zM43.0 445.9h0.7v0.7h-0.7zM46.1 445.5h0.7v0.7h-0.7zM48.1 440.6h0.7v0.7h-0.7zM47.4 441.8h0.7v0.7h-0.7zM46.6 443.8h0.7v0.7h-0.7zM45.8 438.9h0.7v0.7h-0.7zM46.8 443.1h0.7v0.7h-0.7zM47.5 439.7h0.7v0.7h-0.7zM46.6 442.3h0.7v0.7h-0.7zM44.8 442.2h0.7v0.7h-0.7zM45.3 438.7h0.7v0.7h-0.7zM44.5 441.5h0.7v0.7h-0.7zM47.3 442.5h0.7v0.7h-0.7zM49.9 444.9h0.7v0.7h-0.7zM46.9 443.7h0.7v0.7h-0.7zM42.1 444.1h0.7v0.7h-0.7zM49.5 439.8h0.7v0.7h-0.7zM49.6 444.9h0.7v0.7h-0.7zM46.8 441.7h0.7v0.7h-0.7zM46.1 440.5h0.7v0.7h-0.7zM46.0 443.2h0.7v0.7h-0.7zM46.2 439.2h0.7v0.7h-0.7zM48.6 440.9h0.7v0.7h-0.7zM47.1 444.9h0.7v0.7h-0.7zM45.4 450.7h0.7v0.7h-0.7zM46.3 444.3h0.7v0.7h-0.7zM45.3 444.0h0.7v0.7h-0.7zM42.5 445.0h0.7v0.7h-0.7zM45.0 441.4h0.7v0.7h-0.7zM48.1 445.8h0.7v0.7h-0.7zM44.8 439.8h0.7v0.7h-0.7zM40.5 439.9h0.7v0.7h-0.7zM47.4 445.0h0.7v0.7h-0.7zM42.5 443.2h0.7v0.7h-0.7zM48.9 440.6h0.7v0.7h-0.7zM44.5 440.2h0.7v0.7h-0.7zM47.1 437.1h0.7v0.7h-0.7zM45.6 444.5h0.7v0.7h-0.7zM45.8 446.0h0.7v0.7h-0.7zM47.7 441.4h0.7v0.7h-0.7zM43.2 439.7h0.7v0.7h-0.7zM47.3 442.6h0.7v0.7h-0.7zM46.3 440.1h0.7v0.7h-0.7zM49.2 445.7h0.7v0.7h-0.7zM48.1 439.5h0.7v0.7h-0.7zM53.1 445.6h0.7v0.7h-0.7zM43.0 446.0h0.7v0.7h-0.7zM45.6 440.5h0.7v0.7h-0.7zM43.9 444.6h0.7v0.7h-0.7zM46.8 443.7h0.7v0.7h-0.7zM45.4 439.8h0.7v0.7h-0.7zM46.7 442.2h0.7v0.7h-0.7zM45.4 444.9h0.7v0.7h-0.7zM50.6 441.0h0.7v0.7h-0.7zM48.6 440.7h0.7v0.7h-0.7zM48.3 445.0h0.7v0.7h-0.7zM46.1 443.7h0.7v0.7h-0.7zM43.9 441.9h0.7v0.7h-0.7zM48.6 445.4h0.7v0.7h-0.7zM52.2 439.8h0.7v0.7h-0.7zM44.7 443.3h0.7v0.7h-0.7zM46.2 441.4h0.7v0.7h-0.7zM44.9 442.7h0.7v0.7h-0.7zM49.5 442.7h0.7v0.7h-0.7zM43.9 444.0h0.7v0.7h-0.7zM38.9 440.3h0.7v0.7h-0.7zM44.3 444.0h0.7v0.7h-0.7zM39.8 442.3h0.7v0.7h-0.7zM43.1 446.1h0.7v0.7h-0.7zM48.2 441.6h0.7v0.7h-0.7zM47.3 439.4h0.7v0.7h-0.7zM46.6 443.8h0.7v0.7h-0.7zM48.9 441.7h0.7v0.7h-0.7zM40.1 445.5h0.7v0.7h-0.7zM43.1 441.3h0.7v0.7h-0.7zM45.0 448.2h0.7v0.7h-0.7zM45.9 446.6h0.7v0.7h-0.7zM46.2 438.6h0.7v0.7h-0.7zM47.3 444.6h0.7v0.7h-0.7zM44.5 438.1h0.7v0.7h-0.7zM53.8 449.7h0.7v0.7h-0.7zM47.1 444.4h0.7v0.7h-0.7zM48.6 444.9h0.7v0.7h-0.7zM42.0 438.7h0.7v0.7h-0.7zM48.3 447.2h0.7v0.7h-0.7zM48.9 445.6h0.7v0.7h-0.7zM46.0 446.0h0.7v0.7h-0.7zM50.2 444.7h0.7v0.7h-0.7zM49.4 446.8h0.7v0.7h-0.7zM44.1 446.7h0.7v0.7h-0.7zM43.9 440.2h0.7v0.7h-0.7zM50.4 437.9h0.7v0.7h-0.7zM45.5 445.8h0.7v0.7h-0.7zM47.1 441.8h0.7v0.7h-0.7zM43.5 444.6h0.7v0.7h-0.7zM47.5 442.8h0.7v0.7h-0.7zM43.4 438.5h0.7v0.7h-0.7zM46.0 442.9h0.7v0.7h-0.7zM48.3 442.0h0.7v0.7h-0.7zM48.5 439.2h0.7v0.7h-0.7zM41.3 445.9h0.7v0.7h-0.7zM44.9 440.4h0.7v0.7h-0.7zM45.6 439.2h0.7v0.7h-0.7zM45.1 438.7h0.7v0.7h-0.7zM46.5 441.2h0.7v0.7h-0.7zM45.9 443.0h0.7v0.7h-0.7zM47.2 437.7h0.7v0.7h-0.7zM46.4 442.2h0.7v0.7h-0.7zM42.9 442.2h0.7v0.7h-0.7zM47.4 444.5h0.7v0.7h-0.7zM51.4 442.0h0.7v0.7h-0.7zM46.4 449.0h0.7v0.7h-0.7zM44.4 440.4h0.7v0.7h-0.7zM44.8 441.2h0.7v0.7h-0.7zM45.9 443.5h0.7v0.7h-0.7zM44.0 439.5h0.7v0.7h-0.7zM45.9 439.2h0.7v0.7h-0.7zM43.8 444.1h0.7v0.7h-0.7zM45.8 439.9h0.7v0.7h-0.7zM42.1 439.9h0.7v0.7h-0.7zM42.0 444.7h0.7v0.7h-0.7zM48.0 443.9h0.7v0.7h-0.7zM46.9 441.5h0.7v0.7h-0.7zM46.4 443.2h0.7v0.7h-0.7zM46.1 441.5h0.7v0.7h-0.7zM43.1 443.9h0.7v0.7h-0.7zM47.0 439.6h0.7v0.7h-0.7zM45.4 442.9h0.7v0.7h-0.7zM47.3 437.8h0.7v0.7h-0.7zM42.2 438.7h0.7v0.7h-0.7zM42.7 439.7h0.7v0.7h-0.7zM48.3 439.4h0.7v0.7h-0.7zM51.8 443.8h0.7v0.7h-0.7zM47.9 442.9h0.7v0.7h-0.7zM48.3 444.2h0.7v0.7h-0.7zM48.2 444.8h0.7v0.7h-0.7zM47.7 444.2h0.7v0.7h-0.7zM49.0 443.1h0.7v0.7h-0.7zM44.6 447.9h0.7v0.7h-0.7zM44.7 444.2h0.7v0.7h-0.7zM51.7 441.0h0.7v0.7h-0.7zM45.3 440.9h0.7v0.7h-0.7zM43.5 445.0h0.7v0.7h-0.7zM45.5 443.4h0.7v0.7h-0.7zM41.4 444.5h0.7v0.7h-0.7zM44.1 437.0h0.7v0.7h-0.7zM44.1 438.0h0.7v0.7h-0.7zM50.3 437.8h0.7v0.7h-0.7zM46.8 439.8h0.7v0.7h-0.7zM43.8 439.0h0.7v0.7h-0.7zM49.3 439.6h0.7v0.7h-0.7zM44.3 443.7h0.7v0.7h-0.7zM45.0 445.1h0.7v0.7h-0.7zM44.0 438.0h0.7v0.7h-0.7zM47.2 446.7h0.7v0.7h-0.7zM47.4 440.4h0.7v0.7h-0.7zM49.2 445.4h0.7v0.7h-0.7zM45.0 444.4h0.7v0.7h-0.7zM45.9 443.4h0.7v0.7h-0.7zM47.7 445.7h0.7v0.7h-0.7zM46.2 443.2h0.7v0.7h-0.7zM39.3 440.5h0.7v0.7h-0.7zM47.3 440.5h0.7v0.7h-0.7zM47.0 442.4h0.7v0.7h-0.7zM46.2 443.3h0.7v0.7h-0.7zM49.5 444.6h0.7v0.7h-0.7zM46.1 439.4h0.7v0.7h-0.7zM47.0 439.7h0.7v0.7h-0.7zM49.3 440.9h0.7v0.7h-0.7zM44.3 442.5h0.7v0.7h-0.7zM43.3 444.5h0.7v0.7h-0.7zM46.9 440.9h0.7v0.7h-0.7zM44.6 448.7h0.7v0.7h-0.7zM49.1 444.7h0.7v0.7h-0.7zM46.8 447.6h0.7v0.7h-0.7zM45.0 442.2h0.7v0.7h-0.7zM45.6 439.8h0.7v0.7h-0.7zM43.6 448.7h0.7v0.7h-0.7z"/>
<path fill="#7f93e6" d="M59.2 413.4h0.7v0.7h-0.7zM58.6 406.7h0.7v0.7h-0.7zM60.0 407.7h0.7v0.7h-0.7zM63.6 410.0h0.7v0.7h-0.7zM59.6 415.3h0.7v0.7h-0.7zM53.3 405.3h0.7v0.7h-0.7zM64.5 417.5h0.7v0.7h-0.7zM61.4 408.8h0.7v0.7h-0.7zM67.0 414.2h0.7v0.7h-0.7zM66.0 403.9h0.7v0.7h-0.7zM60.3 407.4h0.7v0.7h-0.7zM55.5 414.5h0.7v0.7h-0.7zM64.5 409.8h0.7v0.7h-0.7zM59.7 418.0h0.7v0.7h-0.7zM64.1 411.4h0.7v0.7h-0.7zM63.4 412.4h0.7v0.7h-0.7zM54.7 409.7h0.7v0.7h-0.7zM62.3 414.7h0.7v0.7h-0.7zM55.0 408.4h0.7v0.7h-0.7zM58.0 405.2h0.7v0.7h-0.7zM66.3 413.9h0.7v0.7h-0.7zM67.4 402.3h0.7v0.7h-0.7zM56.9 420.0h0.7v0.7h-0.7zM54.0 403.9h0.7v0.7h-0.7zM62.0 418.9h0.7v0.7h-0.7zM64.1 407.7h0.7v0.7h-0.7zM63.6 413.7h0.7v0.7h-0.7zM62.2 413.7h0.7v0.7h-0.7zM65.0 417.1h0.7v0.7h-0.7zM67.7 416.6h0.7v0.7h-0.7zM60.2 403.7h0.7v0.7h-0.7zM63.6 405.3h0.7v0.7h-0.7zM72.1 406.8h0.7v0.7h-0.7zM51.8 403.8h0.7v0.7h-0.7zM62.9 413.3h0.7v0.7h-0.7zM64.1 413.2h0.7v0.7h-0.7zM57.1 415.5h0.7v0.7h-0.7zM57.5 405.3h0.7v0.7h-0.7zM65.4 414.3h0.7v0.7h-0.7zM56.3 410.8h0.7v0.7h-0.7zM66.0 416.1h0.7v0.7h-0.7zM55.7 416.8h0.7v0.7h-0.7zM48.2 412.3h0.7v0.7h-0.7zM62.8 411.4h0.7v0.7h-0.7zM61.5 404.8h0.7v0.7h-0.7zM60.3 414.2h0.7v0.7h-0.7zM56.4 412.6h0.7v0.7h-0.7zM60.1 402.0h0.7v0.7h-0.7zM57.9 414.5h0.7v0.7h-0.7zM53.3 412.1h0.7v0.7h-0.7zM62.6 406.3h0.7v0.7h-0.7zM59.7 415.9h0.7v0.7h-0.7zM64.5 407.6h0.7v0.7h-0.7zM66.0 413.5h0.7v0.7h-0.7zM61.6 418.6h0.7v0.7h-0.7zM64.6 413.6h0.7v0.7h-0.7zM65.7 414.9h0.7v0.7h-0.7zM67.2 411.5h0.7v0.7h-0.7zM52.2 418.9h0.7v0.7h-0.7zM64.9 414.3h0.7v0.7h-0.7zM61.2 411.6h0.7v0.7h-0.7zM61.5 407.8h0.7v0.7h-0.7zM64.8 412.4h0.7v0.7h-0.7zM56.3 413.1h0.7v0.7h-0.7zM59.4 411.8h0.7v0.7h-0.7zM63.7 423.9h0.7v0.7h-0.7zM55.7 413.8h0.7v0.7h-0.7zM64.5 413.9h0.7v0.7h-0.7zM68.3 410.1h0.7v0.7h-0.7zM59.4 411.9h0.7v0.7h-0.7zM54.2 416.9h0.7v0.7h-0.7zM54.8 414.4h0.7v0.7h-0.7zM66.9 408.3h0.7v0.7h-0.7zM60.1 411.1h0.7v0.7h-0.7zM69.5 413.1h0.7v0.7h-0.7zM52.3 416.8h0.7v0.7h-0.7zM66.1 403.1h0.7v0.7h-0.7zM47.5 423.6h0.7v0.7h-0.7zM61.4 402.5h0.7v0.7h-0.7zM66.2 418.3h0.7v0.7h-0.7zM49.2 417.7h0.7v0.7h-0.7zM64.5 411.9h0.7v0.7h-0.7zM57.5 413.7h0.7v0.7h-0.7zM57.0 412.7h0.7v0.7h-0.7zM59.7 410.0h0.7v0.7h-0.7zM63.7 416.4h0.7v0.7h-0.7zM65.4 414.0h0.7v0.7h-0.7zM69.3 406.4h0.7v0.7h-0.7zM61.3 412.8h0.7v0.7h-0.7zM67.0 401.9h0.7v0.7h-0.7zM50.8 424.1h0.7v0.7h-0.7zM48.9 426.8h0.7v0.7h-0.7zM47.9 429.7h0.7v0.7h-0.7zM42.9 417.9h0.7v0.7h-0.7zM49.1 428.5h0.7v0.7h-0.7zM44.4 429.4h0.7v0.7h-0.7zM47.3 431.4h0.7v0.7h-0.7zM49.0 437.5h0.7v0.7h-0.7zM56.8 434.5h0.7v0.7h-0.7zM50.2 435.8h0.7v0.7h-0.7zM53.6 433.2h0.7v0.7h-0.7zM53.8 427.6h0.7v0.7h-0.7zM53.8 433.7h0.7v0.7h-0.7zM52.0 429.0h0.7v0.7h-0.7zM48.1 434.0h0.7v0.7h-0.7zM47.7 422.9h0.7v0.7h-0.7zM58.1 438.1h0.7v0.7h-0.7zM46.4 439.4h0.7v0.7h-0.7zM40.3 434.1h0.7v0.7h-0.7zM53.4 431.8h0.7v0.7h-0.7zM49.1 435.3h0.7v0.7h-0.7zM52.6 422.6h0.7v0.7h-0.7zM46.6 436.8h0.7v0.7h-0.7zM53.7 422.5h0.7v0.7h-0.7zM43.0 433.1h0.7v0.7h-0.7zM46.2 425.3h0.7v0.7h-0.7zM47.6 431.7h0.7v0.7h-0.7zM40.5 435.4h0.7v0.7h-0.7zM48.4 436.3h0.7v0.7h-0.7zM44.7 424.3h0.7v0.7h-0.7zM52.5 436.8h0.7v0.7h-0.7zM49.9 428.0h0.7v0.7h-0.7zM56.5 437.4h0.7v0.7h-0.7zM51.5 428.5h0.7v0.7h-0.7zM56.1 434.8h0.7v0.7h-0.7zM48.4 440.0h0.7v0.7h-0.7zM55.4 431.6h0.7v0.7h-0.7zM52.4 435.3h0.7v0.7h-0.7zM47.9 422.2h0.7v0.7h-0.7zM55.8 419.3h0.7v0.7h-0.7zM46.6 411.4h0.7v0.7h-0.7zM62.0 430.1h0.7v0.7h-0.7zM53.3 432.2h0.7v0.7h-0.7zM70.7 432.7h0.7v0.7h-0.7zM48.4 432.2h0.7v0.7h-0.7zM75.8 415.3h0.7v0.7h-0.7zM45.8 432.0h0.7v0.7h-0.7zM62.2 421.9h0.7v0.7h-0.7zM57.8 409.1h0.7v0.7h-0.7zM51.8 423.7h0.7v0.7h-0.7zM61.8 429.3h0.7v0.7h-0.7zM65.4 418.6h0.7v0.7h-0.7zM57.6 433.1h0.7v0.7h-0.7zM47.8 426.2h0.7v0.7h-0.7zM51.7 423.9h0.7v0.7h-0.7zM72.4 425.3h0.7v0.7h-0.7zM54.8 417.0h0.7v0.7h-0.7zM47.4 422.0h0.7v0.7h-0.7zM40.8 421.6h0.7v0.7h-0.7zM59.2 415.3h0.7v0.7h-0.7zM52.2 431.3h0.7v0.7h-0.7zM67.8 437.9h0.7v0.7h-0.7zM67.0 424.7h0.7v0.7h-0.7zM56.6 431.7h0.7v0.7h-0.7zM63.5 423.6h0.7v0.7h-0.7zM72.1 421.0h0.7v0.7h-0.7zM59.6 430.7h0.7v0.7h-0.7zM62.0 422.8h0.7v0.7h-0.7zM66.2 443.5h0.7v0.7h-0.7zM55.7 427.6h0.7v0.7h-0.7zM61.5 423.5h0.7v0.7h-0.7zM71.1 421.6h0.7v0.7h-0.7zM71.3 414.7h0.7v0.7h-0.7zM59.3 416.0h0.7v0.7h-0.7zM61.1 427.5h0.7v0.7h-0.7zM62.6 424.0h0.7v0.7h-0.7zM56.3 412.9h0.7v0.7h-0.7zM64.8 422.4h0.7v0.7h-0.7zM67.1 409.3h0.7v0.7h-0.7zM56.3 409.1h0.7v0.7h-0.7z"/>
<ellipse cx="48" cy="416" rx="6" ry="2.4" fill="#3ecfd0" opacity="0.8" filter="url(#b2)"/>
<ellipse cx="47" cy="416.4" rx="4" ry="1.8" fill="#58c844" opacity="1" filter="url(#b2)"/>
<ellipse cx="46.4" cy="416.5" rx="2.6" ry="1.3" fill="#e8d830" opacity="1" filter="url(#b2)"/>
<ellipse cx="46.1" cy="416.5" rx="1.5" ry="0.9" fill="#e04020" opacity="1" filter="url(#b2)"/>
<ellipse cx="56" cy="415.5" rx="3" ry="1.8" fill="#40a8e0" opacity="0.6" filter="url(#b2)"/>
<ellipse cx="45.6" cy="442.6" rx="3.8" ry="4.3" fill="#3ecfd0" opacity="0.85" filter="url(#b2)"/>
<ellipse cx="45.6" cy="442.4" rx="2.7" ry="3" fill="#58c844" opacity="1" filter="url(#b2)"/>
<ellipse cx="45.5" cy="442.2" rx="1.2" ry="1.4" fill="#c8d830" opacity="0.9" filter="url(#b2)"/>
<rect x="37.2" y="396.6" width="58.3" height="57.8" fill="none" stroke="#ababab" stroke-width="0.6"/>
<line x1="37.2" y1="396.6" x2="37.2" y2="454.4" stroke="#333" stroke-width="0.9" />
<line x1="37.2" y1="454.4" x2="95.5" y2="454.4" stroke="#333" stroke-width="0.9" />
<rect x="39.5" y="409.5" width="12.5" height="11.7" rx="1.2" fill="none" stroke="#555" stroke-width="0.8"/>
<rect x="39.5" y="436" width="13.1" height="13.6" rx="1.2" fill="none" stroke="#555" stroke-width="0.8"/>
<text x="54.7" y="425.9" font-size="7.5" fill="#1a1a1a" textLength="31.6" lengthAdjust="spacingAndGlyphs" style="stroke:none">nucleated</text>
<text x="55.1" y="450" font-size="7.5" fill="#1a1a1a" textLength="35.4" lengthAdjust="spacingAndGlyphs" style="stroke:none">enucleated</text>
<text x="32.8" y="407.8" font-size="6.2" text-anchor="end" fill="#2a2a2a" style="stroke-width:0.08px">10<tspan dy="-2.4" font-size="3.84">4</tspan></text>
<text x="32.8" y="424.2" font-size="6.2" text-anchor="end" fill="#2a2a2a" style="stroke-width:0.08px">10<tspan dy="-2.4" font-size="3.84">3</tspan></text>
<text x="32.8" y="441.8" font-size="6.2" text-anchor="end" fill="#2a2a2a" style="stroke-width:0.08px">10<tspan dy="-2.4" font-size="3.84">2</tspan></text>
<text x="32.6" y="449.9" font-size="6.2" text-anchor="end" style="stroke-width:0.08px">0</text>
<text x="44.5" y="466.8" font-size="6.2" text-anchor="middle" style="stroke-width:0.08px">0</text>
<text x="54.7" y="466.8" font-size="6.2" text-anchor="middle" fill="#2a2a2a" style="stroke-width:0.08px">10<tspan dy="-2.4" font-size="3.84">2</tspan></text>
<text x="71.8" y="466.8" font-size="6.2" text-anchor="middle" fill="#2a2a2a" style="stroke-width:0.08px">10<tspan dy="-2.4" font-size="3.84">3</tspan></text>
<text x="88.2" y="466.8" font-size="6.2" text-anchor="middle" fill="#2a2a2a" style="stroke-width:0.08px">10<tspan dy="-2.4" font-size="3.84">4</tspan></text>
<line x1="20.4" y1="470.1" x2="20.4" y2="442.6" stroke="#111" stroke-width="1.3" />
<line x1="19.75" y1="470.1" x2="55.2" y2="470.1" stroke="#111" stroke-width="1.3" />
<path d="M17.8,443.1 L20.4,437.8 L23,443.1 L20.4,441.9 Z" fill="#111"/>
<path d="M54.7,467.8 L60,470.1 L54.7,472.4 L55.9,470.1 Z" fill="#111"/>
<text x="15.3" y="453" font-size="9" text-anchor="middle" textLength="22.5" lengthAdjust="spacingAndGlyphs" transform="rotate(-90 15.3 453)" >Syto-16</text>
<text x="32.8" y="481" font-size="8.7" textLength="19.1" lengthAdjust="spacingAndGlyphs" >7-AAD</text>
<text x="108.5" y="390.8" font-size="12.5" fill="#000" font-weight="bold" >N</text>
<line x1="135.5" y1="398.4" x2="135.5" y2="470.55" stroke="#1a1a1a" stroke-width="1.1" />
<line x1="132.5" y1="400.7" x2="135.5" y2="400.7" stroke="#1a1a1a" stroke-width="0.99" />
<text x="129.3" y="403.08" font-size="6.7" text-anchor="end" >50</text>
<line x1="132.5" y1="414.56" x2="135.5" y2="414.56" stroke="#1a1a1a" stroke-width="0.99" />
<text x="129.3" y="416.94" font-size="6.7" text-anchor="end" >40</text>
<line x1="132.5" y1="428.42" x2="135.5" y2="428.42" stroke="#1a1a1a" stroke-width="0.99" />
<text x="129.3" y="430.8" font-size="6.7" text-anchor="end" >30</text>
<line x1="132.5" y1="442.28" x2="135.5" y2="442.28" stroke="#1a1a1a" stroke-width="0.99" />
<text x="129.3" y="444.66" font-size="6.7" text-anchor="end" >20</text>
<line x1="132.5" y1="456.14" x2="135.5" y2="456.14" stroke="#1a1a1a" stroke-width="0.99" />
<text x="129.3" y="458.52" font-size="6.7" text-anchor="end" >10</text>
<line x1="132.5" y1="470" x2="135.5" y2="470" stroke="#1a1a1a" stroke-width="0.99" />
<text x="129.3" y="472.38" font-size="6.7" text-anchor="end" >0</text>
<line x1="132.7" y1="470.5" x2="215.9" y2="470.5" stroke="#1a1a1a" stroke-width="1.1" />
<line x1="148.6" y1="470" x2="148.6" y2="472.8" stroke="#1a1a1a" stroke-width="0.99" />
<line x1="175.4" y1="470" x2="175.4" y2="472.8" stroke="#1a1a1a" stroke-width="0.99" />
<line x1="202.2" y1="470" x2="202.2" y2="472.8" stroke="#1a1a1a" stroke-width="0.99" />
<rect x="165.5" y="468.34" width="6.6" height="1.66" fill="#a8022f" />
<rect x="172.1" y="469.03" width="6.6" height="0.97" fill="#27498a" />
<rect x="178.7" y="469.17" width="6.6" height="0.83" fill="#6aaf3d" />
<line x1="195.6" y1="411.79" x2="195.6" y2="416.64" stroke="#1a1a1a" stroke-width="1.1" />
<line x1="194" y1="411.79" x2="197.2" y2="411.79" stroke="#1a1a1a" stroke-width="1.1" />
<rect x="192.3" y="416.64" width="6.6" height="53.36" fill="#a8022f" />
<line x1="202.2" y1="414.28" x2="202.2" y2="418.72" stroke="#1a1a1a" stroke-width="1.1" />
<line x1="200.6" y1="414.28" x2="203.8" y2="414.28" stroke="#1a1a1a" stroke-width="1.1" />
<rect x="198.9" y="418.72" width="6.6" height="51.28" fill="#27498a" />
<line x1="208.8" y1="450.73" x2="208.8" y2="452.68" stroke="#1a1a1a" stroke-width="1.1" />
<line x1="207.2" y1="450.73" x2="210.4" y2="450.73" stroke="#1a1a1a" stroke-width="1.1" />
<rect x="205.5" y="452.68" width="6.6" height="17.32" fill="#6aaf3d" />
<line x1="195.7" y1="404" x2="209.7" y2="404" stroke="#1a1a1a" stroke-width="1.1" />
<text x="202.7" y="403.5" font-size="6.6" text-anchor="middle" letter-spacing="0.25" style="stroke-width:0.35px">***</text>
<line x1="202.8" y1="410.2" x2="209.7" y2="410.2" stroke="#1a1a1a" stroke-width="1.1" />
<text x="206.25" y="409.7" font-size="6.6" text-anchor="middle" letter-spacing="0.25" style="stroke-width:0.35px">***</text>
<rect x="140.6" y="396" width="7.2" height="4.2" fill="#a8022f" />
<text x="151.2" y="399.8" font-size="6.4" fill="#3a3a3a" textLength="19.8" lengthAdjust="spacingAndGlyphs" style="stroke:none"><tspan font-style="italic">Gps2</tspan><tspan dy="-2.69" font-size="3.84" font-style="italic" letter-spacing="0.35">+/+</tspan></text>
<rect x="140.6" y="405.4" width="7.2" height="4.2" fill="#27498a" />
<text x="151.2" y="409.2" font-size="6.4" fill="#3a3a3a" textLength="19.8" lengthAdjust="spacingAndGlyphs" style="stroke:none"><tspan font-style="italic">Gps2</tspan><tspan dy="-2.69" font-size="3.84" font-style="italic" letter-spacing="0.35">+/-</tspan></text>
<rect x="140.6" y="414.8" width="7.2" height="4.2" fill="#6aaf3d" />
<text x="151.2" y="418.6" font-size="6.4" fill="#3a3a3a" textLength="19.8" lengthAdjust="spacingAndGlyphs" style="stroke:none"><tspan font-style="italic">Gps2</tspan><tspan dy="-2.69" font-size="3.84" font-style="italic" letter-spacing="0.35">-/-</tspan></text>
<text x="115.8" y="433.4" font-size="9.3" text-anchor="middle" textLength="63" lengthAdjust="spacingAndGlyphs" transform="rotate(-90 115.8 433.4)" >Enucleated cells (%)</text>
<text x="148.6" y="482.9" font-size="7" text-anchor="middle" >S1</text>
<text x="175.4" y="482.9" font-size="7" text-anchor="middle" >S2</text>
<text x="202.2" y="482.9" font-size="7" text-anchor="middle" >S3</text>
<text x="232.4" y="390.1" font-size="12.5" fill="#000" font-weight="bold" >O</text>
<line x1="271.5" y1="401.1" x2="271.5" y2="470.85" stroke="#1a1a1a" stroke-width="1.1" />
<line x1="268" y1="403.8" x2="271" y2="403.8" stroke="#1a1a1a" stroke-width="0.99" />
<text x="264.8" y="406.18" font-size="6.7" text-anchor="end" >1.2</text>
<line x1="268" y1="414.88" x2="271" y2="414.88" stroke="#1a1a1a" stroke-width="0.99" />
<text x="264.8" y="417.26" font-size="6.7" text-anchor="end" >1.0</text>
<line x1="268" y1="425.97" x2="271" y2="425.97" stroke="#1a1a1a" stroke-width="0.99" />
<text x="264.8" y="428.35" font-size="6.7" text-anchor="end" >0.8</text>
<line x1="268" y1="437.05" x2="271" y2="437.05" stroke="#1a1a1a" stroke-width="0.99" />
<text x="264.8" y="439.43" font-size="6.7" text-anchor="end" >0.6</text>
<line x1="268" y1="448.13" x2="271" y2="448.13" stroke="#1a1a1a" stroke-width="0.99" />
<text x="264.8" y="450.51" font-size="6.7" text-anchor="end" >0.4</text>
<line x1="268" y1="459.22" x2="271" y2="459.22" stroke="#1a1a1a" stroke-width="0.99" />
<text x="264.8" y="461.6" font-size="6.7" text-anchor="end" >0.2</text>
<line x1="268" y1="470.3" x2="271" y2="470.3" stroke="#1a1a1a" stroke-width="0.99" />
<text x="264.8" y="472.68" font-size="6.7" text-anchor="end" >0.0</text>
<line x1="268" y1="470.5" x2="333" y2="470.5" stroke="#1a1a1a" stroke-width="1.1" />
<line x1="281.3" y1="470.3" x2="281.3" y2="473.1" stroke="#1a1a1a" stroke-width="0.99" />
<line x1="302.2" y1="470.3" x2="302.2" y2="473.1" stroke="#1a1a1a" stroke-width="0.99" />
<line x1="323.2" y1="470.3" x2="323.2" y2="473.1" stroke="#1a1a1a" stroke-width="0.99" />
<rect x="275" y="414.88" width="6.3" height="55.42" fill="#a8022f" />
<line x1="284.45" y1="448.69" x2="284.45" y2="453.12" stroke="#1a1a1a" stroke-width="1.1" />
<line x1="282.95" y1="448.69" x2="285.95" y2="448.69" stroke="#1a1a1a" stroke-width="1.1" />
<rect x="281.3" y="453.12" width="6.3" height="17.18" fill="#6aaf3d" />
<rect x="295.9" y="414.88" width="6.3" height="55.42" fill="#a8022f" />
<line x1="305.35" y1="430.4" x2="305.35" y2="433.73" stroke="#1a1a1a" stroke-width="1.1" />
<line x1="303.85" y1="430.4" x2="306.85" y2="430.4" stroke="#1a1a1a" stroke-width="1.1" />
<rect x="302.2" y="433.73" width="6.3" height="36.57" fill="#6aaf3d" />
<rect x="316.9" y="414.88" width="6.3" height="55.42" fill="#a8022f" />
<line x1="326.35" y1="442.59" x2="326.35" y2="445.92" stroke="#1a1a1a" stroke-width="1.1" />
<line x1="324.85" y1="442.59" x2="327.85" y2="442.59" stroke="#1a1a1a" stroke-width="1.1" />
<rect x="323.2" y="445.92" width="6.3" height="24.38" fill="#6aaf3d" />
<line x1="278" y1="412.2" x2="285.8" y2="412.2" stroke="#1a1a1a" stroke-width="1.1" />
<text x="281.9" y="411.7" font-size="6.6" text-anchor="middle" letter-spacing="0.25" style="stroke-width:0.35px">***</text>
<line x1="298.5" y1="412.2" x2="306.1" y2="412.2" stroke="#1a1a1a" stroke-width="1.1" />
<text x="302.3" y="411.7" font-size="6.6" text-anchor="middle" letter-spacing="0.25" style="stroke-width:0.35px">***</text>
<line x1="319.3" y1="412.2" x2="327.5" y2="412.2" stroke="#1a1a1a" stroke-width="1.1" />
<text x="323.4" y="411.7" font-size="6.6" text-anchor="middle" letter-spacing="0.25" style="stroke-width:0.35px">***</text>
<rect x="298.9" y="388.2" width="7.2" height="4.4" fill="#a8022f" />
<text x="308.6" y="392.2" font-size="6.4" fill="#3a3a3a" textLength="18.5" lengthAdjust="spacingAndGlyphs" style="stroke:none"><tspan font-style="italic">Gps2</tspan><tspan dy="-2.69" font-size="3.84" font-style="italic" letter-spacing="0.35">+/+</tspan></text>
<rect x="298.9" y="398.1" width="7.2" height="4.4" fill="#6aaf3d" />
<text x="308.6" y="402.1" font-size="6.4" fill="#3a3a3a" textLength="18.5" lengthAdjust="spacingAndGlyphs" style="stroke:none"><tspan font-style="italic">Gps2</tspan><tspan dy="-2.69" font-size="3.84" font-style="italic" letter-spacing="0.35">-/-</tspan></text>
<text x="238.5" y="435.2" font-size="9.3" text-anchor="middle" textLength="63.8" lengthAdjust="spacingAndGlyphs" transform="rotate(-90 238.5 435.2)" >Relative mRNA level</text>
<text x="247.6" y="435.4" font-size="9.3" text-anchor="middle" textLength="72.2" lengthAdjust="spacingAndGlyphs" transform="rotate(-90 247.6 435.4)" >(normalized to <tspan font-style="italic">Gapdh</tspan>)</text>
<text x="284.3" y="480.4" font-size="7.1" text-anchor="end" transform="rotate(-45 284.3 480.4)" ><tspan font-style="italic">Hbb-b1</tspan></text>
<text x="305.2" y="480.4" font-size="7.1" text-anchor="end" transform="rotate(-45 305.2 480.4)" ><tspan font-style="italic">Alas2</tspan></text>
<text x="326.2" y="480.4" font-size="7.1" text-anchor="end" transform="rotate(-45 326.2 480.4)" ><tspan font-style="italic">Ermap</tspan></text>
<text x="349.7" y="389.8" font-size="12.5" fill="#000" font-weight="bold" >P</text>
<line x1="391.5" y1="407.2" x2="391.5" y2="470.45" stroke="#1a1a1a" stroke-width="1.1" />
<line x1="388.2" y1="410" x2="391.2" y2="410" stroke="#1a1a1a" stroke-width="0.99" />
<text x="385" y="412.38" font-size="6.7" text-anchor="end" >250</text>
<line x1="388.2" y1="421.98" x2="391.2" y2="421.98" stroke="#1a1a1a" stroke-width="0.99" />
<text x="385" y="424.36" font-size="6.7" text-anchor="end" >200</text>
<line x1="388.2" y1="433.96" x2="391.2" y2="433.96" stroke="#1a1a1a" stroke-width="0.99" />
<text x="385" y="436.34" font-size="6.7" text-anchor="end" >150</text>
<line x1="388.2" y1="445.94" x2="391.2" y2="445.94" stroke="#1a1a1a" stroke-width="0.99" />
<text x="385" y="448.32" font-size="6.7" text-anchor="end" >100</text>
<line x1="388.2" y1="457.92" x2="391.2" y2="457.92" stroke="#1a1a1a" stroke-width="0.99" />
<text x="385" y="460.3" font-size="6.7" text-anchor="end" >50</text>
<line x1="388.2" y1="469.9" x2="391.2" y2="469.9" stroke="#1a1a1a" stroke-width="0.99" />
<text x="385" y="472.28" font-size="6.7" text-anchor="end" >0</text>
<line x1="388.2" y1="469.5" x2="480.8" y2="469.5" stroke="#1a1a1a" stroke-width="1.1" />
<line x1="402.3" y1="469.9" x2="402.3" y2="472.7" stroke="#1a1a1a" stroke-width="0.99" />
<line x1="425" y1="469.9" x2="425" y2="472.7" stroke="#1a1a1a" stroke-width="0.99" />
<line x1="447.6" y1="469.9" x2="447.6" y2="472.7" stroke="#1a1a1a" stroke-width="0.99" />
<line x1="470.2" y1="469.9" x2="470.2" y2="472.7" stroke="#1a1a1a" stroke-width="0.99" />
<line x1="396.6" y1="424.86" x2="396.6" y2="429.41" stroke="#1a1a1a" stroke-width="1.1" />
<line x1="395.2" y1="424.86" x2="398" y2="424.86" stroke="#1a1a1a" stroke-width="1.1" />
<rect x="393.75" y="429.41" width="5.7" height="40.49" fill="#a8022f" />
<line x1="402.3" y1="420.54" x2="402.3" y2="425.09" stroke="#1a1a1a" stroke-width="1.1" />
<line x1="400.9" y1="420.54" x2="403.7" y2="420.54" stroke="#1a1a1a" stroke-width="1.1" />
<rect x="399.45" y="425.09" width="5.7" height="44.81" fill="#27498a" />
<line x1="408" y1="414.31" x2="408" y2="417.67" stroke="#1a1a1a" stroke-width="1.1" />
<line x1="406.6" y1="414.31" x2="409.4" y2="414.31" stroke="#1a1a1a" stroke-width="1.1" />
<rect x="405.15" y="417.67" width="5.7" height="52.23" fill="#6aaf3d" />
<line x1="419.3" y1="455.52" x2="419.3" y2="459.12" stroke="#1a1a1a" stroke-width="1.1" />
<line x1="417.9" y1="455.52" x2="420.7" y2="455.52" stroke="#1a1a1a" stroke-width="1.1" />
<rect x="416.45" y="459.12" width="5.7" height="10.78" fill="#a8022f" />
<line x1="425" y1="460.56" x2="425" y2="462.95" stroke="#1a1a1a" stroke-width="1.1" />
<line x1="423.6" y1="460.56" x2="426.4" y2="460.56" stroke="#1a1a1a" stroke-width="1.1" />
<rect x="422.15" y="462.95" width="5.7" height="6.95" fill="#27498a" />
<line x1="430.7" y1="456.48" x2="430.7" y2="459.12" stroke="#1a1a1a" stroke-width="1.1" />
<line x1="429.3" y1="456.48" x2="432.1" y2="456.48" stroke="#1a1a1a" stroke-width="1.1" />
<rect x="427.85" y="459.12" width="5.7" height="10.78" fill="#6aaf3d" />
<line x1="441.9" y1="440.91" x2="441.9" y2="443.3" stroke="#1a1a1a" stroke-width="1.1" />
<line x1="440.5" y1="440.91" x2="443.3" y2="440.91" stroke="#1a1a1a" stroke-width="1.1" />
<rect x="439.05" y="443.3" width="5.7" height="26.6" fill="#a8022f" />
<line x1="447.6" y1="432.28" x2="447.6" y2="436.36" stroke="#1a1a1a" stroke-width="1.1" />
<line x1="446.2" y1="432.28" x2="449" y2="432.28" stroke="#1a1a1a" stroke-width="1.1" />
<rect x="444.75" y="436.36" width="5.7" height="33.54" fill="#27498a" />
<line x1="453.3" y1="429.65" x2="453.3" y2="431.56" stroke="#1a1a1a" stroke-width="1.1" />
<line x1="451.9" y1="429.65" x2="454.7" y2="429.65" stroke="#1a1a1a" stroke-width="1.1" />
<rect x="450.45" y="431.56" width="5.7" height="38.34" fill="#6aaf3d" />
<line x1="464.5" y1="466.55" x2="464.5" y2="467.02" stroke="#1a1a1a" stroke-width="1.1" />
<line x1="463.1" y1="466.55" x2="465.9" y2="466.55" stroke="#1a1a1a" stroke-width="1.1" />
<rect x="461.65" y="467.02" width="5.7" height="2.88" fill="#a8022f" />
<line x1="470.2" y1="466.55" x2="470.2" y2="467.02" stroke="#1a1a1a" stroke-width="1.1" />
<line x1="468.8" y1="466.55" x2="471.6" y2="466.55" stroke="#1a1a1a" stroke-width="1.1" />
<rect x="467.35" y="467.02" width="5.7" height="2.88" fill="#27498a" />
<line x1="475.9" y1="467.38" x2="475.9" y2="467.74" stroke="#1a1a1a" stroke-width="1.1" />
<line x1="474.5" y1="467.38" x2="477.3" y2="467.38" stroke="#1a1a1a" stroke-width="1.1" />
<rect x="473.05" y="467.74" width="5.7" height="2.16" fill="#6aaf3d" />
<rect x="453.3" y="401" width="7" height="4.6" fill="#a8022f" />
<text x="463.4" y="405.2" font-size="6.4" fill="#3a3a3a" textLength="19.5" lengthAdjust="spacingAndGlyphs" style="stroke:none"><tspan font-style="italic">Gps2</tspan><tspan dy="-2.69" font-size="3.84" font-style="italic" letter-spacing="0.35">+/+</tspan></text>
<rect x="453.3" y="411" width="7" height="4.6" fill="#27498a" />
<text x="463.4" y="415.2" font-size="6.4" fill="#3a3a3a" textLength="19.5" lengthAdjust="spacingAndGlyphs" style="stroke:none"><tspan font-style="italic">Gps2</tspan><tspan dy="-2.69" font-size="3.84" font-style="italic" letter-spacing="0.35">+/-</tspan></text>
<rect x="453.3" y="420.5" width="7" height="4.6" fill="#6aaf3d" />
<text x="463.4" y="424.7" font-size="6.4" fill="#3a3a3a" textLength="19.5" lengthAdjust="spacingAndGlyphs" style="stroke:none"><tspan font-style="italic">Gps2</tspan><tspan dy="-2.69" font-size="3.84" font-style="italic" letter-spacing="0.35">-/-</tspan></text>
<text x="358.5" y="439" font-size="9.3" text-anchor="middle" textLength="61" lengthAdjust="spacingAndGlyphs" transform="rotate(-90 358.5 439)" >Number of colonies</text>
<text x="367.1" y="439.2" font-size="9.3" text-anchor="middle" textLength="78.9" lengthAdjust="spacingAndGlyphs" transform="rotate(-90 367.1 439.2)" >per 4x10<tspan dy="-3.3" font-size="5.6">4</tspan><tspan dy="3.3"> fetal liver cells</tspan></text>
<text x="404.9" y="480.8" font-size="7" text-anchor="end" transform="rotate(-45 404.9 480.8)" >Total</text>
<text x="427.6" y="480.8" font-size="7" text-anchor="end" transform="rotate(-45 427.6 480.8)" >BFU-E</text>
<text x="450.2" y="480.8" font-size="7" text-anchor="end" transform="rotate(-45 450.2 480.8)" >CFU-GM</text>
<text x="472.8" y="480.8" font-size="7" text-anchor="end" transform="rotate(-45 472.8 480.8)" >CFU-GEMM</text></svg></body></html>
